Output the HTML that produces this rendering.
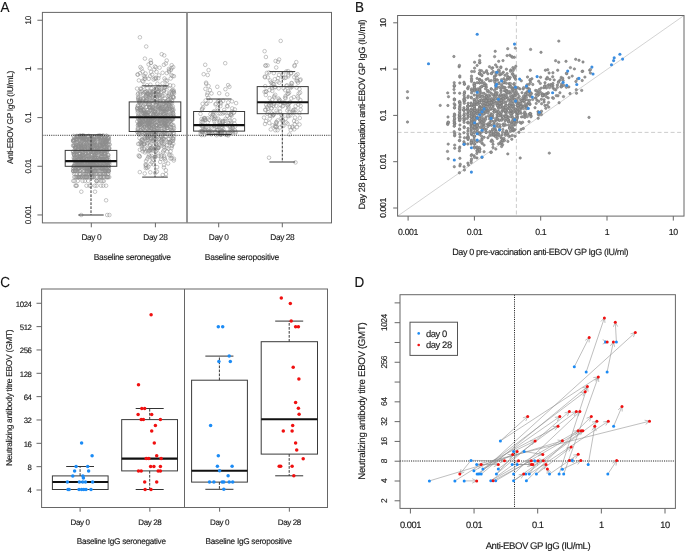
<!DOCTYPE html>
<html><head><meta charset="utf-8"><style>
html,body{margin:0;padding:0;background:#fff;}
body{width:685px;height:553px;overflow:hidden;}
svg{display:block;font-family:"Liberation Sans", sans-serif;will-change:transform;text-rendering:geometricPrecision;}
</style></head><body>
<svg width="685" height="553" viewBox="0 0 685 553">
<rect width="685" height="553" fill="#fff"/>
<text x="0" y="0" transform="translate(0.60,8.00) scale(0.93,1)" font-size="14.5" text-anchor="start" dominant-baseline="central" fill="#111" stroke="#111" stroke-width="0.14"  >A</text>
<g fill="none" stroke="#8c8c8c" stroke-width="0.5">
<circle cx="102.1" cy="168.5" r="1.8"/>
<circle cx="100.4" cy="164.3" r="1.8"/>
<circle cx="80.5" cy="143.1" r="1.8"/>
<circle cx="96.9" cy="147.8" r="1.8"/>
<circle cx="81.9" cy="160.7" r="1.8"/>
<circle cx="92.4" cy="164.3" r="1.8"/>
<circle cx="105.6" cy="151.6" r="1.8"/>
<circle cx="92.5" cy="168.5" r="1.8"/>
<circle cx="75.4" cy="147.8" r="1.8"/>
<circle cx="100.3" cy="137.5" r="1.8"/>
<circle cx="108.7" cy="166.3" r="1.8"/>
<circle cx="101.6" cy="137.5" r="1.8"/>
<circle cx="97.3" cy="148.7" r="1.8"/>
<circle cx="75.8" cy="173.8" r="1.8"/>
<circle cx="83.4" cy="159.2" r="1.8"/>
<circle cx="74.8" cy="139.8" r="1.8"/>
<circle cx="88.0" cy="146.9" r="1.8"/>
<circle cx="96.3" cy="164.3" r="1.8"/>
<circle cx="103.0" cy="145.3" r="1.8"/>
<circle cx="86.9" cy="168.5" r="1.8"/>
<circle cx="86.6" cy="177.1" r="1.8"/>
<circle cx="80.2" cy="171.0" r="1.8"/>
<circle cx="74.9" cy="164.3" r="1.8"/>
<circle cx="98.3" cy="157.7" r="1.8"/>
<circle cx="89.0" cy="166.3" r="1.8"/>
<circle cx="94.1" cy="142.4" r="1.8"/>
<circle cx="98.7" cy="168.5" r="1.8"/>
<circle cx="87.6" cy="173.8" r="1.8"/>
<circle cx="104.1" cy="173.8" r="1.8"/>
<circle cx="90.6" cy="151.6" r="1.8"/>
<circle cx="92.7" cy="141.0" r="1.8"/>
<circle cx="102.9" cy="151.6" r="1.8"/>
<circle cx="84.0" cy="138.1" r="1.8"/>
<circle cx="99.8" cy="146.1" r="1.8"/>
<circle cx="82.9" cy="140.4" r="1.8"/>
<circle cx="100.9" cy="138.1" r="1.8"/>
<circle cx="95.4" cy="153.9" r="1.8"/>
<circle cx="108.0" cy="138.1" r="1.8"/>
<circle cx="90.3" cy="156.3" r="1.8"/>
<circle cx="99.6" cy="166.3" r="1.8"/>
<circle cx="75.4" cy="159.2" r="1.8"/>
<circle cx="99.2" cy="148.7" r="1.8"/>
<circle cx="92.8" cy="164.3" r="1.8"/>
<circle cx="81.4" cy="139.2" r="1.8"/>
<circle cx="102.3" cy="166.3" r="1.8"/>
<circle cx="80.2" cy="164.3" r="1.8"/>
<circle cx="91.5" cy="166.3" r="1.8"/>
<circle cx="96.6" cy="162.4" r="1.8"/>
<circle cx="76.2" cy="185.7" r="1.8"/>
<circle cx="93.7" cy="149.6" r="1.8"/>
<circle cx="77.2" cy="166.3" r="1.8"/>
<circle cx="106.4" cy="177.1" r="1.8"/>
<circle cx="81.2" cy="150.6" r="1.8"/>
<circle cx="94.0" cy="171.0" r="1.8"/>
<circle cx="107.3" cy="164.3" r="1.8"/>
<circle cx="89.3" cy="159.2" r="1.8"/>
<circle cx="73.4" cy="171.0" r="1.8"/>
<circle cx="87.0" cy="168.5" r="1.8"/>
<circle cx="94.7" cy="157.7" r="1.8"/>
<circle cx="92.8" cy="157.7" r="1.8"/>
<circle cx="108.2" cy="166.3" r="1.8"/>
<circle cx="76.5" cy="164.3" r="1.8"/>
<circle cx="77.2" cy="166.3" r="1.8"/>
<circle cx="86.9" cy="166.3" r="1.8"/>
<circle cx="89.0" cy="157.7" r="1.8"/>
<circle cx="102.9" cy="168.5" r="1.8"/>
<circle cx="79.4" cy="156.3" r="1.8"/>
<circle cx="73.8" cy="166.3" r="1.8"/>
<circle cx="98.6" cy="141.7" r="1.8"/>
<circle cx="89.3" cy="171.0" r="1.8"/>
<circle cx="74.5" cy="140.4" r="1.8"/>
<circle cx="107.0" cy="171.0" r="1.8"/>
<circle cx="74.7" cy="145.3" r="1.8"/>
<circle cx="90.5" cy="150.6" r="1.8"/>
<circle cx="86.2" cy="168.5" r="1.8"/>
<circle cx="107.9" cy="144.5" r="1.8"/>
<circle cx="88.4" cy="166.3" r="1.8"/>
<circle cx="80.7" cy="177.1" r="1.8"/>
<circle cx="104.5" cy="150.6" r="1.8"/>
<circle cx="92.1" cy="155.1" r="1.8"/>
<circle cx="78.8" cy="149.6" r="1.8"/>
<circle cx="78.0" cy="171.0" r="1.8"/>
<circle cx="95.0" cy="166.3" r="1.8"/>
<circle cx="75.2" cy="147.8" r="1.8"/>
<circle cx="85.7" cy="177.1" r="1.8"/>
<circle cx="98.0" cy="140.4" r="1.8"/>
<circle cx="99.2" cy="159.2" r="1.8"/>
<circle cx="97.1" cy="150.6" r="1.8"/>
<circle cx="78.1" cy="164.3" r="1.8"/>
<circle cx="73.7" cy="171.0" r="1.8"/>
<circle cx="96.7" cy="185.7" r="1.8"/>
<circle cx="86.9" cy="168.5" r="1.8"/>
<circle cx="93.2" cy="140.4" r="1.8"/>
<circle cx="77.7" cy="136.4" r="1.8"/>
<circle cx="78.2" cy="159.2" r="1.8"/>
<circle cx="79.0" cy="162.4" r="1.8"/>
<circle cx="99.1" cy="166.3" r="1.8"/>
<circle cx="80.5" cy="137.0" r="1.8"/>
<circle cx="80.8" cy="177.1" r="1.8"/>
<circle cx="102.9" cy="160.7" r="1.8"/>
<circle cx="86.7" cy="171.0" r="1.8"/>
<circle cx="102.6" cy="166.3" r="1.8"/>
<circle cx="91.4" cy="143.8" r="1.8"/>
<circle cx="94.1" cy="168.5" r="1.8"/>
<circle cx="86.1" cy="153.9" r="1.8"/>
<circle cx="90.2" cy="162.4" r="1.8"/>
<circle cx="87.8" cy="156.3" r="1.8"/>
<circle cx="92.9" cy="164.3" r="1.8"/>
<circle cx="105.7" cy="166.3" r="1.8"/>
<circle cx="95.7" cy="166.3" r="1.8"/>
<circle cx="94.3" cy="177.1" r="1.8"/>
<circle cx="96.0" cy="157.7" r="1.8"/>
<circle cx="73.6" cy="139.8" r="1.8"/>
<circle cx="81.4" cy="137.5" r="1.8"/>
<circle cx="88.2" cy="180.9" r="1.8"/>
<circle cx="108.7" cy="138.6" r="1.8"/>
<circle cx="100.1" cy="173.8" r="1.8"/>
<circle cx="106.4" cy="145.3" r="1.8"/>
<circle cx="93.4" cy="139.2" r="1.8"/>
<circle cx="104.8" cy="171.0" r="1.8"/>
<circle cx="90.0" cy="164.3" r="1.8"/>
<circle cx="106.2" cy="162.4" r="1.8"/>
<circle cx="109.3" cy="162.4" r="1.8"/>
<circle cx="97.3" cy="155.1" r="1.8"/>
<circle cx="90.6" cy="185.7" r="1.8"/>
<circle cx="99.0" cy="160.7" r="1.8"/>
<circle cx="107.8" cy="139.8" r="1.8"/>
<circle cx="90.0" cy="177.1" r="1.8"/>
<circle cx="98.3" cy="157.7" r="1.8"/>
<circle cx="74.7" cy="157.7" r="1.8"/>
<circle cx="94.3" cy="143.8" r="1.8"/>
<circle cx="84.1" cy="137.0" r="1.8"/>
<circle cx="101.0" cy="146.9" r="1.8"/>
<circle cx="83.7" cy="166.3" r="1.8"/>
<circle cx="95.0" cy="148.7" r="1.8"/>
<circle cx="91.2" cy="162.4" r="1.8"/>
<circle cx="109.5" cy="144.5" r="1.8"/>
<circle cx="104.9" cy="147.8" r="1.8"/>
<circle cx="76.2" cy="136.4" r="1.8"/>
<circle cx="106.4" cy="140.4" r="1.8"/>
<circle cx="101.0" cy="177.1" r="1.8"/>
<circle cx="77.1" cy="166.3" r="1.8"/>
<circle cx="100.4" cy="140.4" r="1.8"/>
<circle cx="106.7" cy="151.6" r="1.8"/>
<circle cx="84.0" cy="164.3" r="1.8"/>
<circle cx="93.3" cy="177.1" r="1.8"/>
<circle cx="78.6" cy="144.5" r="1.8"/>
<circle cx="86.5" cy="185.7" r="1.8"/>
<circle cx="91.0" cy="173.8" r="1.8"/>
<circle cx="88.8" cy="135.9" r="1.8"/>
<circle cx="79.9" cy="143.8" r="1.8"/>
<circle cx="108.9" cy="140.4" r="1.8"/>
<circle cx="73.7" cy="157.7" r="1.8"/>
<circle cx="79.5" cy="171.0" r="1.8"/>
<circle cx="83.9" cy="155.1" r="1.8"/>
<circle cx="82.1" cy="159.2" r="1.8"/>
<circle cx="75.2" cy="171.0" r="1.8"/>
<circle cx="87.7" cy="171.0" r="1.8"/>
<circle cx="81.8" cy="166.3" r="1.8"/>
<circle cx="85.2" cy="137.5" r="1.8"/>
<circle cx="76.9" cy="135.9" r="1.8"/>
<circle cx="104.6" cy="146.9" r="1.8"/>
<circle cx="101.8" cy="146.1" r="1.8"/>
<circle cx="73.5" cy="146.1" r="1.8"/>
<circle cx="74.2" cy="155.1" r="1.8"/>
<circle cx="97.4" cy="171.0" r="1.8"/>
<circle cx="82.9" cy="139.8" r="1.8"/>
<circle cx="86.0" cy="139.8" r="1.8"/>
<circle cx="90.8" cy="146.9" r="1.8"/>
<circle cx="107.6" cy="138.1" r="1.8"/>
<circle cx="77.4" cy="136.4" r="1.8"/>
<circle cx="86.1" cy="156.3" r="1.8"/>
<circle cx="100.9" cy="144.5" r="1.8"/>
<circle cx="94.6" cy="150.6" r="1.8"/>
<circle cx="86.4" cy="173.8" r="1.8"/>
<circle cx="91.7" cy="164.3" r="1.8"/>
<circle cx="74.3" cy="177.1" r="1.8"/>
<circle cx="85.8" cy="139.8" r="1.8"/>
<circle cx="98.4" cy="180.9" r="1.8"/>
<circle cx="73.6" cy="153.9" r="1.8"/>
<circle cx="90.8" cy="171.0" r="1.8"/>
<circle cx="79.4" cy="171.0" r="1.8"/>
<circle cx="79.9" cy="171.0" r="1.8"/>
<circle cx="84.0" cy="139.8" r="1.8"/>
<circle cx="80.9" cy="156.3" r="1.8"/>
<circle cx="77.1" cy="164.3" r="1.8"/>
<circle cx="83.4" cy="135.4" r="1.8"/>
<circle cx="101.0" cy="153.9" r="1.8"/>
<circle cx="94.3" cy="164.3" r="1.8"/>
<circle cx="101.3" cy="162.4" r="1.8"/>
<circle cx="103.7" cy="146.9" r="1.8"/>
<circle cx="99.2" cy="173.8" r="1.8"/>
<circle cx="80.5" cy="144.5" r="1.8"/>
<circle cx="87.0" cy="139.8" r="1.8"/>
<circle cx="83.9" cy="157.7" r="1.8"/>
<circle cx="100.5" cy="159.2" r="1.8"/>
<circle cx="95.6" cy="171.0" r="1.8"/>
<circle cx="96.1" cy="160.7" r="1.8"/>
<circle cx="104.8" cy="144.5" r="1.8"/>
<circle cx="81.7" cy="160.7" r="1.8"/>
<circle cx="82.9" cy="150.6" r="1.8"/>
<circle cx="97.0" cy="177.1" r="1.8"/>
<circle cx="104.1" cy="168.5" r="1.8"/>
<circle cx="73.4" cy="168.5" r="1.8"/>
<circle cx="106.4" cy="135.9" r="1.8"/>
<circle cx="82.8" cy="177.1" r="1.8"/>
<circle cx="84.9" cy="168.5" r="1.8"/>
<circle cx="96.5" cy="180.9" r="1.8"/>
<circle cx="106.5" cy="149.6" r="1.8"/>
<circle cx="75.4" cy="148.7" r="1.8"/>
<circle cx="90.1" cy="162.4" r="1.8"/>
<circle cx="102.7" cy="180.9" r="1.8"/>
<circle cx="91.2" cy="159.2" r="1.8"/>
<circle cx="95.0" cy="171.0" r="1.8"/>
<circle cx="99.2" cy="159.2" r="1.8"/>
<circle cx="96.0" cy="162.4" r="1.8"/>
<circle cx="73.5" cy="168.5" r="1.8"/>
<circle cx="105.5" cy="141.7" r="1.8"/>
<circle cx="82.0" cy="147.8" r="1.8"/>
<circle cx="88.7" cy="157.7" r="1.8"/>
<circle cx="103.9" cy="160.7" r="1.8"/>
<circle cx="85.8" cy="173.8" r="1.8"/>
<circle cx="89.0" cy="151.6" r="1.8"/>
<circle cx="95.2" cy="156.3" r="1.8"/>
<circle cx="85.8" cy="139.2" r="1.8"/>
<circle cx="83.2" cy="136.4" r="1.8"/>
<circle cx="92.1" cy="142.4" r="1.8"/>
<circle cx="79.5" cy="140.4" r="1.8"/>
<circle cx="87.5" cy="156.3" r="1.8"/>
<circle cx="80.8" cy="162.4" r="1.8"/>
<circle cx="77.5" cy="157.7" r="1.8"/>
<circle cx="108.5" cy="155.1" r="1.8"/>
<circle cx="103.1" cy="142.4" r="1.8"/>
<circle cx="108.1" cy="171.0" r="1.8"/>
<circle cx="88.3" cy="151.6" r="1.8"/>
<circle cx="82.5" cy="139.2" r="1.8"/>
<circle cx="105.9" cy="168.5" r="1.8"/>
<circle cx="82.3" cy="166.3" r="1.8"/>
<circle cx="88.7" cy="141.0" r="1.8"/>
<circle cx="95.7" cy="148.7" r="1.8"/>
<circle cx="80.8" cy="137.0" r="1.8"/>
<circle cx="90.8" cy="149.6" r="1.8"/>
<circle cx="102.0" cy="137.5" r="1.8"/>
<circle cx="95.0" cy="141.7" r="1.8"/>
<circle cx="85.2" cy="147.8" r="1.8"/>
<circle cx="78.2" cy="168.5" r="1.8"/>
<circle cx="89.4" cy="168.5" r="1.8"/>
<circle cx="90.0" cy="140.4" r="1.8"/>
<circle cx="83.2" cy="164.3" r="1.8"/>
<circle cx="87.2" cy="147.8" r="1.8"/>
<circle cx="86.9" cy="159.2" r="1.8"/>
<circle cx="77.0" cy="157.7" r="1.8"/>
<circle cx="106.1" cy="185.7" r="1.8"/>
<circle cx="102.1" cy="142.4" r="1.8"/>
<circle cx="95.2" cy="164.3" r="1.8"/>
<circle cx="82.4" cy="164.3" r="1.8"/>
<circle cx="93.3" cy="177.1" r="1.8"/>
<circle cx="86.4" cy="150.6" r="1.8"/>
<circle cx="80.8" cy="143.8" r="1.8"/>
<circle cx="83.3" cy="156.3" r="1.8"/>
<circle cx="94.1" cy="157.7" r="1.8"/>
<circle cx="84.0" cy="143.8" r="1.8"/>
<circle cx="96.4" cy="173.8" r="1.8"/>
<circle cx="104.5" cy="153.9" r="1.8"/>
<circle cx="100.1" cy="145.3" r="1.8"/>
<circle cx="105.4" cy="162.4" r="1.8"/>
<circle cx="105.3" cy="139.8" r="1.8"/>
<circle cx="100.5" cy="157.7" r="1.8"/>
<circle cx="90.8" cy="173.8" r="1.8"/>
<circle cx="81.0" cy="136.4" r="1.8"/>
<circle cx="75.0" cy="157.7" r="1.8"/>
<circle cx="87.1" cy="144.5" r="1.8"/>
<circle cx="77.3" cy="177.1" r="1.8"/>
<circle cx="77.3" cy="142.4" r="1.8"/>
<circle cx="83.9" cy="171.0" r="1.8"/>
<circle cx="85.5" cy="173.8" r="1.8"/>
<circle cx="108.7" cy="166.3" r="1.8"/>
<circle cx="78.2" cy="159.2" r="1.8"/>
<circle cx="95.8" cy="156.3" r="1.8"/>
<circle cx="74.1" cy="159.2" r="1.8"/>
<circle cx="103.9" cy="180.9" r="1.8"/>
<circle cx="77.0" cy="151.6" r="1.8"/>
<circle cx="87.2" cy="145.3" r="1.8"/>
<circle cx="91.0" cy="136.4" r="1.8"/>
<circle cx="102.0" cy="153.9" r="1.8"/>
<circle cx="90.5" cy="138.1" r="1.8"/>
<circle cx="83.1" cy="137.5" r="1.8"/>
<circle cx="102.2" cy="168.5" r="1.8"/>
<circle cx="80.3" cy="177.1" r="1.8"/>
<circle cx="108.3" cy="171.0" r="1.8"/>
<circle cx="96.7" cy="145.3" r="1.8"/>
<circle cx="73.9" cy="166.3" r="1.8"/>
<circle cx="108.1" cy="173.8" r="1.8"/>
<circle cx="104.6" cy="137.5" r="1.8"/>
<circle cx="80.4" cy="147.8" r="1.8"/>
<circle cx="108.9" cy="137.0" r="1.8"/>
<circle cx="88.4" cy="164.3" r="1.8"/>
<circle cx="108.8" cy="168.5" r="1.8"/>
<circle cx="91.9" cy="173.8" r="1.8"/>
<circle cx="87.9" cy="137.5" r="1.8"/>
<circle cx="86.6" cy="171.0" r="1.8"/>
<circle cx="100.2" cy="143.1" r="1.8"/>
<circle cx="101.2" cy="168.5" r="1.8"/>
<circle cx="103.0" cy="140.4" r="1.8"/>
<circle cx="101.2" cy="177.1" r="1.8"/>
<circle cx="78.4" cy="162.4" r="1.8"/>
<circle cx="74.9" cy="160.7" r="1.8"/>
<circle cx="84.0" cy="136.4" r="1.8"/>
<circle cx="85.1" cy="139.2" r="1.8"/>
<circle cx="87.2" cy="162.4" r="1.8"/>
<circle cx="93.8" cy="159.2" r="1.8"/>
<circle cx="83.0" cy="146.1" r="1.8"/>
<circle cx="108.7" cy="149.6" r="1.8"/>
<circle cx="86.8" cy="139.2" r="1.8"/>
<circle cx="80.9" cy="147.8" r="1.8"/>
<circle cx="87.6" cy="155.1" r="1.8"/>
<circle cx="89.4" cy="139.2" r="1.8"/>
<circle cx="93.1" cy="164.3" r="1.8"/>
<circle cx="79.9" cy="162.4" r="1.8"/>
<circle cx="89.4" cy="162.4" r="1.8"/>
<circle cx="107.4" cy="156.3" r="1.8"/>
<circle cx="77.8" cy="180.9" r="1.8"/>
<circle cx="102.3" cy="159.2" r="1.8"/>
<circle cx="81.9" cy="164.3" r="1.8"/>
<circle cx="85.0" cy="166.3" r="1.8"/>
<circle cx="105.6" cy="166.3" r="1.8"/>
<circle cx="89.9" cy="143.1" r="1.8"/>
<circle cx="106.9" cy="162.4" r="1.8"/>
<circle cx="73.5" cy="135.9" r="1.8"/>
<circle cx="93.2" cy="160.7" r="1.8"/>
<circle cx="75.7" cy="146.9" r="1.8"/>
<circle cx="91.5" cy="164.3" r="1.8"/>
<circle cx="100.7" cy="141.7" r="1.8"/>
<circle cx="78.2" cy="168.5" r="1.8"/>
<circle cx="81.1" cy="166.3" r="1.8"/>
<circle cx="103.8" cy="166.3" r="1.8"/>
<circle cx="100.5" cy="173.8" r="1.8"/>
<circle cx="93.9" cy="145.3" r="1.8"/>
<circle cx="94.6" cy="159.2" r="1.8"/>
<circle cx="80.2" cy="173.8" r="1.8"/>
<circle cx="91.9" cy="155.1" r="1.8"/>
<circle cx="105.9" cy="156.3" r="1.8"/>
<circle cx="88.8" cy="156.3" r="1.8"/>
<circle cx="75.6" cy="146.9" r="1.8"/>
<circle cx="107.4" cy="177.1" r="1.8"/>
<circle cx="101.6" cy="156.3" r="1.8"/>
<circle cx="75.7" cy="177.1" r="1.8"/>
<circle cx="88.3" cy="136.4" r="1.8"/>
<circle cx="78.6" cy="148.7" r="1.8"/>
<circle cx="105.4" cy="171.0" r="1.8"/>
<circle cx="97.0" cy="138.6" r="1.8"/>
<circle cx="107.0" cy="171.0" r="1.8"/>
<circle cx="90.2" cy="162.4" r="1.8"/>
<circle cx="109.2" cy="177.1" r="1.8"/>
<circle cx="75.8" cy="162.4" r="1.8"/>
<circle cx="81.5" cy="146.1" r="1.8"/>
<circle cx="102.6" cy="173.8" r="1.8"/>
<circle cx="94.6" cy="143.8" r="1.8"/>
<circle cx="106.7" cy="159.2" r="1.8"/>
<circle cx="86.7" cy="143.1" r="1.8"/>
<circle cx="73.1" cy="171.0" r="1.8"/>
<circle cx="90.1" cy="139.2" r="1.8"/>
<circle cx="78.1" cy="146.1" r="1.8"/>
<circle cx="78.8" cy="177.1" r="1.8"/>
<circle cx="80.8" cy="157.7" r="1.8"/>
<circle cx="80.4" cy="177.1" r="1.8"/>
<circle cx="88.4" cy="146.1" r="1.8"/>
<circle cx="93.6" cy="162.4" r="1.8"/>
<circle cx="103.3" cy="143.8" r="1.8"/>
<circle cx="74.0" cy="139.8" r="1.8"/>
<circle cx="75.3" cy="171.0" r="1.8"/>
<circle cx="85.6" cy="142.4" r="1.8"/>
<circle cx="88.4" cy="162.4" r="1.8"/>
<circle cx="76.6" cy="162.4" r="1.8"/>
<circle cx="101.1" cy="148.7" r="1.8"/>
<circle cx="82.3" cy="136.4" r="1.8"/>
<circle cx="109.2" cy="147.8" r="1.8"/>
<circle cx="96.9" cy="168.5" r="1.8"/>
<circle cx="75.5" cy="185.7" r="1.8"/>
<circle cx="106.2" cy="173.8" r="1.8"/>
<circle cx="89.5" cy="166.3" r="1.8"/>
<circle cx="102.4" cy="177.1" r="1.8"/>
<circle cx="99.4" cy="177.1" r="1.8"/>
<circle cx="83.6" cy="137.5" r="1.8"/>
<circle cx="91.1" cy="171.0" r="1.8"/>
<circle cx="74.8" cy="164.3" r="1.8"/>
<circle cx="74.5" cy="137.0" r="1.8"/>
<circle cx="85.3" cy="155.1" r="1.8"/>
<circle cx="106.6" cy="147.8" r="1.8"/>
<circle cx="99.9" cy="166.3" r="1.8"/>
<circle cx="101.0" cy="148.7" r="1.8"/>
<circle cx="88.4" cy="171.0" r="1.8"/>
<circle cx="108.0" cy="162.4" r="1.8"/>
<circle cx="93.7" cy="139.2" r="1.8"/>
<circle cx="95.1" cy="146.1" r="1.8"/>
<circle cx="105.7" cy="157.7" r="1.8"/>
<circle cx="81.6" cy="157.7" r="1.8"/>
<circle cx="81.1" cy="145.3" r="1.8"/>
<circle cx="93.0" cy="160.7" r="1.8"/>
<circle cx="92.9" cy="159.2" r="1.8"/>
<circle cx="96.2" cy="152.7" r="1.8"/>
<circle cx="76.7" cy="153.9" r="1.8"/>
<circle cx="83.3" cy="157.7" r="1.8"/>
<circle cx="82.4" cy="151.6" r="1.8"/>
<circle cx="90.9" cy="171.0" r="1.8"/>
<circle cx="94.5" cy="145.3" r="1.8"/>
<circle cx="88.8" cy="171.0" r="1.8"/>
<circle cx="105.5" cy="142.4" r="1.8"/>
<circle cx="88.1" cy="152.7" r="1.8"/>
<circle cx="92.6" cy="138.1" r="1.8"/>
<circle cx="77.5" cy="160.7" r="1.8"/>
<circle cx="91.3" cy="148.7" r="1.8"/>
<circle cx="107.8" cy="177.1" r="1.8"/>
<circle cx="105.7" cy="164.3" r="1.8"/>
<circle cx="73.5" cy="171.0" r="1.8"/>
<circle cx="109.0" cy="148.7" r="1.8"/>
<circle cx="93.4" cy="173.8" r="1.8"/>
<circle cx="102.9" cy="156.3" r="1.8"/>
<circle cx="81.5" cy="166.3" r="1.8"/>
<circle cx="75.4" cy="171.0" r="1.8"/>
<circle cx="105.6" cy="142.4" r="1.8"/>
<circle cx="90.9" cy="166.3" r="1.8"/>
<circle cx="82.6" cy="177.1" r="1.8"/>
<circle cx="82.6" cy="160.7" r="1.8"/>
<circle cx="87.0" cy="168.5" r="1.8"/>
<circle cx="81.1" cy="146.9" r="1.8"/>
<circle cx="82.1" cy="150.6" r="1.8"/>
<circle cx="95.1" cy="137.5" r="1.8"/>
<circle cx="106.8" cy="141.0" r="1.8"/>
<circle cx="96.6" cy="164.3" r="1.8"/>
<circle cx="92.6" cy="140.4" r="1.8"/>
<circle cx="78.9" cy="166.3" r="1.8"/>
<circle cx="73.2" cy="141.0" r="1.8"/>
<circle cx="104.3" cy="171.0" r="1.8"/>
<circle cx="104.4" cy="138.1" r="1.8"/>
<circle cx="104.9" cy="152.7" r="1.8"/>
<circle cx="79.4" cy="157.7" r="1.8"/>
<circle cx="74.0" cy="160.7" r="1.8"/>
<circle cx="90.5" cy="162.4" r="1.8"/>
<circle cx="89.6" cy="171.0" r="1.8"/>
<circle cx="91.7" cy="149.6" r="1.8"/>
<circle cx="99.2" cy="162.4" r="1.8"/>
<circle cx="104.6" cy="139.8" r="1.8"/>
<circle cx="91.0" cy="173.8" r="1.8"/>
<circle cx="101.4" cy="157.7" r="1.8"/>
<circle cx="73.2" cy="151.6" r="1.8"/>
<circle cx="80.8" cy="146.1" r="1.8"/>
<circle cx="82.0" cy="148.7" r="1.8"/>
<circle cx="87.3" cy="159.2" r="1.8"/>
<circle cx="104.5" cy="146.1" r="1.8"/>
<circle cx="79.4" cy="146.9" r="1.8"/>
<circle cx="103.6" cy="162.4" r="1.8"/>
<circle cx="78.8" cy="159.2" r="1.8"/>
<circle cx="78.7" cy="162.4" r="1.8"/>
<circle cx="86.2" cy="143.8" r="1.8"/>
<circle cx="90.4" cy="171.0" r="1.8"/>
<circle cx="104.4" cy="142.4" r="1.8"/>
<circle cx="94.6" cy="151.6" r="1.8"/>
<circle cx="83.6" cy="162.4" r="1.8"/>
<circle cx="78.6" cy="137.5" r="1.8"/>
<circle cx="93.9" cy="137.0" r="1.8"/>
<circle cx="101.2" cy="136.4" r="1.8"/>
<circle cx="89.2" cy="173.8" r="1.8"/>
<circle cx="81.3" cy="156.3" r="1.8"/>
<circle cx="84.1" cy="138.6" r="1.8"/>
<circle cx="89.5" cy="185.7" r="1.8"/>
<circle cx="105.0" cy="164.3" r="1.8"/>
<circle cx="106.3" cy="157.7" r="1.8"/>
<circle cx="76.9" cy="166.3" r="1.8"/>
<circle cx="75.6" cy="152.7" r="1.8"/>
<circle cx="83.4" cy="155.1" r="1.8"/>
<circle cx="73.1" cy="141.0" r="1.8"/>
<circle cx="92.2" cy="166.3" r="1.8"/>
<circle cx="108.0" cy="144.5" r="1.8"/>
<circle cx="101.0" cy="156.3" r="1.8"/>
<circle cx="84.4" cy="137.0" r="1.8"/>
<circle cx="73.7" cy="141.0" r="1.8"/>
<circle cx="96.7" cy="180.9" r="1.8"/>
<circle cx="100.0" cy="160.7" r="1.8"/>
<circle cx="104.7" cy="166.3" r="1.8"/>
<circle cx="104.5" cy="156.3" r="1.8"/>
<circle cx="99.9" cy="135.4" r="1.8"/>
<circle cx="93.2" cy="152.7" r="1.8"/>
<circle cx="87.0" cy="177.1" r="1.8"/>
<circle cx="85.0" cy="145.3" r="1.8"/>
<circle cx="101.9" cy="168.5" r="1.8"/>
<circle cx="95.0" cy="157.7" r="1.8"/>
<circle cx="106.6" cy="149.6" r="1.8"/>
<circle cx="101.0" cy="138.6" r="1.8"/>
<circle cx="81.6" cy="164.3" r="1.8"/>
<circle cx="77.4" cy="148.7" r="1.8"/>
<circle cx="73.3" cy="180.9" r="1.8"/>
<circle cx="75.8" cy="177.1" r="1.8"/>
<circle cx="86.3" cy="159.2" r="1.8"/>
<circle cx="106.8" cy="151.6" r="1.8"/>
<circle cx="84.9" cy="166.3" r="1.8"/>
<circle cx="74.1" cy="145.3" r="1.8"/>
<circle cx="104.0" cy="164.3" r="1.8"/>
<circle cx="89.5" cy="166.3" r="1.8"/>
<circle cx="92.5" cy="146.9" r="1.8"/>
<circle cx="96.4" cy="146.9" r="1.8"/>
<circle cx="76.6" cy="136.4" r="1.8"/>
<circle cx="92.0" cy="173.8" r="1.8"/>
<circle cx="83.6" cy="173.8" r="1.8"/>
<circle cx="82.0" cy="141.7" r="1.8"/>
<circle cx="74.0" cy="166.3" r="1.8"/>
<circle cx="90.7" cy="139.2" r="1.8"/>
<circle cx="74.7" cy="152.7" r="1.8"/>
<circle cx="76.2" cy="151.6" r="1.8"/>
<circle cx="94.8" cy="185.7" r="1.8"/>
<circle cx="96.0" cy="152.7" r="1.8"/>
<circle cx="104.6" cy="140.4" r="1.8"/>
<circle cx="106.5" cy="135.9" r="1.8"/>
<circle cx="91.1" cy="162.4" r="1.8"/>
<circle cx="103.1" cy="171.0" r="1.8"/>
<circle cx="79.6" cy="139.2" r="1.8"/>
<circle cx="92.8" cy="160.7" r="1.8"/>
<circle cx="106.9" cy="159.2" r="1.8"/>
<circle cx="75.4" cy="157.7" r="1.8"/>
<circle cx="101.9" cy="153.9" r="1.8"/>
<circle cx="78.9" cy="177.1" r="1.8"/>
<circle cx="74.6" cy="180.9" r="1.8"/>
<circle cx="92.6" cy="144.5" r="1.8"/>
<circle cx="104.9" cy="149.6" r="1.8"/>
<circle cx="85.2" cy="160.7" r="1.8"/>
<circle cx="81.3" cy="148.7" r="1.8"/>
<circle cx="84.4" cy="146.9" r="1.8"/>
<circle cx="81.3" cy="166.3" r="1.8"/>
<circle cx="92.0" cy="160.7" r="1.8"/>
<circle cx="76.9" cy="166.3" r="1.8"/>
<circle cx="79.5" cy="173.8" r="1.8"/>
<circle cx="101.5" cy="151.6" r="1.8"/>
<circle cx="81.1" cy="145.3" r="1.8"/>
<circle cx="97.6" cy="150.6" r="1.8"/>
<circle cx="89.4" cy="166.3" r="1.8"/>
<circle cx="77.0" cy="149.6" r="1.8"/>
<circle cx="86.3" cy="160.7" r="1.8"/>
<circle cx="81.0" cy="159.2" r="1.8"/>
<circle cx="101.2" cy="180.9" r="1.8"/>
<circle cx="105.8" cy="143.8" r="1.8"/>
<circle cx="98.2" cy="139.2" r="1.8"/>
<circle cx="91.2" cy="166.3" r="1.8"/>
<circle cx="108.6" cy="162.4" r="1.8"/>
<circle cx="80.1" cy="156.3" r="1.8"/>
<circle cx="76.0" cy="160.7" r="1.8"/>
<circle cx="80.8" cy="162.4" r="1.8"/>
<circle cx="90.8" cy="145.3" r="1.8"/>
<circle cx="100.2" cy="148.7" r="1.8"/>
<circle cx="76.5" cy="164.3" r="1.8"/>
<circle cx="107.5" cy="149.6" r="1.8"/>
<circle cx="91.3" cy="147.8" r="1.8"/>
<circle cx="102.5" cy="159.2" r="1.8"/>
<circle cx="98.6" cy="166.3" r="1.8"/>
<circle cx="76.3" cy="140.4" r="1.8"/>
<circle cx="103.2" cy="185.7" r="1.8"/>
<circle cx="85.4" cy="146.1" r="1.8"/>
<circle cx="93.0" cy="142.4" r="1.8"/>
<circle cx="95.8" cy="168.5" r="1.8"/>
<circle cx="85.7" cy="152.7" r="1.8"/>
<circle cx="82.3" cy="135.9" r="1.8"/>
<circle cx="88.0" cy="164.3" r="1.8"/>
<circle cx="99.8" cy="150.6" r="1.8"/>
<circle cx="96.9" cy="160.7" r="1.8"/>
<circle cx="90.9" cy="159.2" r="1.8"/>
<circle cx="102.8" cy="144.5" r="1.8"/>
<circle cx="80.1" cy="153.9" r="1.8"/>
<circle cx="105.6" cy="166.3" r="1.8"/>
<circle cx="87.5" cy="145.3" r="1.8"/>
<circle cx="73.8" cy="153.9" r="1.8"/>
<circle cx="92.6" cy="164.3" r="1.8"/>
<circle cx="90.3" cy="151.6" r="1.8"/>
<circle cx="83.0" cy="145.3" r="1.8"/>
<circle cx="92.6" cy="177.1" r="1.8"/>
<circle cx="98.6" cy="171.0" r="1.8"/>
<circle cx="107.2" cy="162.4" r="1.8"/>
<circle cx="74.3" cy="166.3" r="1.8"/>
<circle cx="94.3" cy="152.7" r="1.8"/>
<circle cx="108.3" cy="177.1" r="1.8"/>
<circle cx="85.7" cy="138.6" r="1.8"/>
<circle cx="106.4" cy="145.3" r="1.8"/>
<circle cx="85.3" cy="160.7" r="1.8"/>
<circle cx="100.0" cy="171.0" r="1.8"/>
<circle cx="88.0" cy="177.1" r="1.8"/>
<circle cx="96.3" cy="145.3" r="1.8"/>
<circle cx="97.5" cy="152.7" r="1.8"/>
<circle cx="78.3" cy="160.7" r="1.8"/>
<circle cx="79.7" cy="164.3" r="1.8"/>
<circle cx="91.9" cy="177.1" r="1.8"/>
<circle cx="78.8" cy="144.5" r="1.8"/>
<circle cx="103.3" cy="168.5" r="1.8"/>
<circle cx="96.6" cy="166.3" r="1.8"/>
<circle cx="75.9" cy="168.5" r="1.8"/>
<circle cx="104.7" cy="152.7" r="1.8"/>
<circle cx="102.3" cy="166.3" r="1.8"/>
<circle cx="104.5" cy="173.8" r="1.8"/>
<circle cx="73.2" cy="140.4" r="1.8"/>
<circle cx="76.5" cy="171.0" r="1.8"/>
<circle cx="78.6" cy="168.5" r="1.8"/>
<circle cx="76.2" cy="145.3" r="1.8"/>
<circle cx="96.7" cy="157.7" r="1.8"/>
<circle cx="108.2" cy="138.1" r="1.8"/>
<circle cx="99.7" cy="139.2" r="1.8"/>
<circle cx="75.3" cy="153.9" r="1.8"/>
<circle cx="105.8" cy="171.0" r="1.8"/>
<circle cx="85.5" cy="164.3" r="1.8"/>
<circle cx="90.0" cy="148.7" r="1.8"/>
<circle cx="99.3" cy="164.3" r="1.8"/>
<circle cx="94.6" cy="155.1" r="1.8"/>
<circle cx="104.9" cy="173.8" r="1.8"/>
<circle cx="80.2" cy="153.9" r="1.8"/>
<circle cx="81.3" cy="137.5" r="1.8"/>
<circle cx="78.0" cy="150.6" r="1.8"/>
<circle cx="82.3" cy="166.3" r="1.8"/>
<circle cx="91.9" cy="173.8" r="1.8"/>
<circle cx="77.1" cy="151.6" r="1.8"/>
<circle cx="105.2" cy="153.9" r="1.8"/>
<circle cx="102.7" cy="144.5" r="1.8"/>
<circle cx="101.0" cy="185.7" r="1.8"/>
<circle cx="108.0" cy="171.0" r="1.8"/>
<circle cx="93.5" cy="150.6" r="1.8"/>
<circle cx="98.4" cy="152.7" r="1.8"/>
<circle cx="83.3" cy="146.9" r="1.8"/>
<circle cx="106.6" cy="139.2" r="1.8"/>
<circle cx="104.0" cy="144.5" r="1.8"/>
<circle cx="96.5" cy="150.6" r="1.8"/>
<circle cx="80.1" cy="135.4" r="1.8"/>
<circle cx="94.3" cy="164.3" r="1.8"/>
<circle cx="86.3" cy="166.3" r="1.8"/>
<circle cx="80.3" cy="166.3" r="1.8"/>
<circle cx="90.5" cy="149.6" r="1.8"/>
<circle cx="95.9" cy="173.8" r="1.8"/>
<circle cx="105.1" cy="160.7" r="1.8"/>
<circle cx="87.0" cy="164.3" r="1.8"/>
<circle cx="80.2" cy="173.8" r="1.8"/>
<circle cx="84.2" cy="141.7" r="1.8"/>
<circle cx="94.0" cy="141.7" r="1.8"/>
<circle cx="96.0" cy="166.3" r="1.8"/>
<circle cx="85.2" cy="177.1" r="1.8"/>
<circle cx="103.8" cy="150.6" r="1.8"/>
<circle cx="88.5" cy="168.5" r="1.8"/>
<circle cx="93.5" cy="152.7" r="1.8"/>
<circle cx="102.4" cy="160.7" r="1.8"/>
<circle cx="105.4" cy="140.4" r="1.8"/>
<circle cx="90.3" cy="164.3" r="1.8"/>
<circle cx="74.2" cy="155.1" r="1.8"/>
<circle cx="100.6" cy="177.1" r="1.8"/>
<circle cx="78.9" cy="162.4" r="1.8"/>
<circle cx="94.3" cy="139.2" r="1.8"/>
<circle cx="105.7" cy="171.0" r="1.8"/>
<circle cx="95.3" cy="144.5" r="1.8"/>
<circle cx="104.6" cy="159.2" r="1.8"/>
<circle cx="88.5" cy="152.7" r="1.8"/>
<circle cx="77.1" cy="139.2" r="1.8"/>
<circle cx="88.6" cy="139.2" r="1.8"/>
<circle cx="103.4" cy="159.2" r="1.8"/>
<circle cx="82.4" cy="135.9" r="1.8"/>
<circle cx="108.1" cy="166.3" r="1.8"/>
<circle cx="78.4" cy="168.5" r="1.8"/>
<circle cx="98.5" cy="150.6" r="1.8"/>
<circle cx="102.2" cy="151.6" r="1.8"/>
<circle cx="81.8" cy="155.1" r="1.8"/>
<circle cx="100.2" cy="164.3" r="1.8"/>
<circle cx="106.5" cy="159.2" r="1.8"/>
<circle cx="85.1" cy="153.9" r="1.8"/>
<circle cx="82.6" cy="180.9" r="1.8"/>
<circle cx="84.4" cy="177.1" r="1.8"/>
<circle cx="91.5" cy="177.1" r="1.8"/>
<circle cx="105.4" cy="141.7" r="1.8"/>
<circle cx="85.2" cy="150.6" r="1.8"/>
<circle cx="108.0" cy="164.3" r="1.8"/>
<circle cx="101.4" cy="152.7" r="1.8"/>
<circle cx="93.8" cy="139.8" r="1.8"/>
<circle cx="98.0" cy="173.8" r="1.8"/>
<circle cx="108.3" cy="168.5" r="1.8"/>
<circle cx="77.7" cy="164.3" r="1.8"/>
<circle cx="90.9" cy="157.7" r="1.8"/>
<circle cx="84.8" cy="162.4" r="1.8"/>
<circle cx="107.0" cy="141.0" r="1.8"/>
<circle cx="91.8" cy="153.9" r="1.8"/>
<circle cx="85.4" cy="177.1" r="1.8"/>
<circle cx="76.8" cy="166.3" r="1.8"/>
<circle cx="105.3" cy="156.3" r="1.8"/>
<circle cx="77.6" cy="144.5" r="1.8"/>
<circle cx="92.2" cy="149.6" r="1.8"/>
<circle cx="103.1" cy="135.4" r="1.8"/>
<circle cx="97.5" cy="164.3" r="1.8"/>
<circle cx="103.5" cy="150.6" r="1.8"/>
<circle cx="94.4" cy="137.0" r="1.8"/>
<circle cx="100.2" cy="159.2" r="1.8"/>
<circle cx="94.2" cy="171.0" r="1.8"/>
<circle cx="90.2" cy="168.5" r="1.8"/>
<circle cx="101.8" cy="160.7" r="1.8"/>
<circle cx="84.8" cy="173.8" r="1.8"/>
<circle cx="79.5" cy="157.7" r="1.8"/>
<circle cx="77.3" cy="136.4" r="1.8"/>
<circle cx="76.4" cy="139.8" r="1.8"/>
<circle cx="98.7" cy="151.6" r="1.8"/>
<circle cx="82.8" cy="138.1" r="1.8"/>
<circle cx="106.4" cy="149.6" r="1.8"/>
<circle cx="78.6" cy="177.1" r="1.8"/>
<circle cx="91.5" cy="148.7" r="1.8"/>
<circle cx="102.3" cy="151.6" r="1.8"/>
<circle cx="99.0" cy="149.6" r="1.8"/>
<circle cx="73.8" cy="166.3" r="1.8"/>
<circle cx="100.7" cy="146.1" r="1.8"/>
<circle cx="107.9" cy="155.1" r="1.8"/>
<circle cx="81.5" cy="136.4" r="1.8"/>
<circle cx="103.4" cy="173.8" r="1.8"/>
<circle cx="93.9" cy="155.1" r="1.8"/>
<circle cx="81.5" cy="141.0" r="1.8"/>
<circle cx="108.8" cy="171.0" r="1.8"/>
<circle cx="106.5" cy="143.8" r="1.8"/>
<circle cx="102.2" cy="138.1" r="1.8"/>
<circle cx="73.1" cy="145.3" r="1.8"/>
<circle cx="97.4" cy="148.7" r="1.8"/>
<circle cx="89.3" cy="168.5" r="1.8"/>
<circle cx="82.7" cy="138.1" r="1.8"/>
<circle cx="104.2" cy="177.1" r="1.8"/>
<circle cx="79.2" cy="162.4" r="1.8"/>
<circle cx="77.5" cy="177.1" r="1.8"/>
<circle cx="95.0" cy="157.7" r="1.8"/>
<circle cx="96.2" cy="145.3" r="1.8"/>
<circle cx="101.6" cy="156.3" r="1.8"/>
<circle cx="83.7" cy="168.5" r="1.8"/>
<circle cx="97.2" cy="149.6" r="1.8"/>
<circle cx="99.8" cy="145.3" r="1.8"/>
<circle cx="108.3" cy="166.3" r="1.8"/>
<circle cx="109.3" cy="164.3" r="1.8"/>
<circle cx="100.6" cy="168.5" r="1.8"/>
<circle cx="83.6" cy="159.2" r="1.8"/>
<circle cx="89.1" cy="177.1" r="1.8"/>
<circle cx="82.6" cy="160.7" r="1.8"/>
<circle cx="86.9" cy="177.1" r="1.8"/>
<circle cx="78.7" cy="166.3" r="1.8"/>
<circle cx="98.7" cy="135.9" r="1.8"/>
<circle cx="78.7" cy="177.1" r="1.8"/>
<circle cx="101.5" cy="166.3" r="1.8"/>
<circle cx="88.1" cy="162.4" r="1.8"/>
<circle cx="89.3" cy="141.7" r="1.8"/>
<circle cx="108.1" cy="173.8" r="1.8"/>
<circle cx="98.7" cy="138.1" r="1.8"/>
<circle cx="74.7" cy="146.1" r="1.8"/>
<circle cx="103.4" cy="139.2" r="1.8"/>
<circle cx="94.7" cy="142.4" r="1.8"/>
<circle cx="102.1" cy="151.6" r="1.8"/>
<circle cx="91.9" cy="177.1" r="1.8"/>
<circle cx="93.2" cy="139.2" r="1.8"/>
<circle cx="101.2" cy="152.7" r="1.8"/>
<circle cx="95.1" cy="171.0" r="1.8"/>
<circle cx="78.0" cy="137.0" r="1.8"/>
<circle cx="101.7" cy="171.0" r="1.8"/>
<circle cx="84.9" cy="168.5" r="1.8"/>
<circle cx="80.5" cy="151.6" r="1.8"/>
<circle cx="93.6" cy="145.3" r="1.8"/>
<circle cx="84.0" cy="173.8" r="1.8"/>
<circle cx="102.7" cy="160.7" r="1.8"/>
<circle cx="101.6" cy="159.2" r="1.8"/>
<circle cx="108.2" cy="157.7" r="1.8"/>
<circle cx="76.4" cy="157.7" r="1.8"/>
<circle cx="99.4" cy="159.2" r="1.8"/>
<circle cx="84.9" cy="180.9" r="1.8"/>
<circle cx="105.5" cy="138.1" r="1.8"/>
<circle cx="74.4" cy="152.7" r="1.8"/>
<circle cx="86.4" cy="146.9" r="1.8"/>
<circle cx="87.8" cy="148.7" r="1.8"/>
<circle cx="99.0" cy="137.0" r="1.8"/>
<circle cx="79.2" cy="153.9" r="1.8"/>
<circle cx="100.6" cy="162.4" r="1.8"/>
<circle cx="76.2" cy="144.5" r="1.8"/>
<circle cx="92.9" cy="171.0" r="1.8"/>
<circle cx="104.8" cy="151.6" r="1.8"/>
<circle cx="94.9" cy="145.3" r="1.8"/>
<circle cx="97.0" cy="152.7" r="1.8"/>
<circle cx="100.0" cy="141.7" r="1.8"/>
<circle cx="84.3" cy="171.0" r="1.8"/>
<circle cx="88.2" cy="142.4" r="1.8"/>
<circle cx="94.1" cy="137.5" r="1.8"/>
<circle cx="86.4" cy="141.0" r="1.8"/>
<circle cx="84.5" cy="162.4" r="1.8"/>
<circle cx="108.9" cy="171.0" r="1.8"/>
<circle cx="73.1" cy="151.6" r="1.8"/>
<circle cx="83.2" cy="166.3" r="1.8"/>
<circle cx="78.6" cy="146.9" r="1.8"/>
<circle cx="88.3" cy="164.3" r="1.8"/>
<circle cx="105.1" cy="146.1" r="1.8"/>
<circle cx="96.1" cy="160.7" r="1.8"/>
<circle cx="107.2" cy="157.7" r="1.8"/>
<circle cx="76.3" cy="138.6" r="1.8"/>
<circle cx="109.1" cy="160.7" r="1.8"/>
<circle cx="103.6" cy="177.1" r="1.8"/>
<circle cx="105.4" cy="137.0" r="1.8"/>
<circle cx="89.5" cy="171.0" r="1.8"/>
<circle cx="76.7" cy="166.3" r="1.8"/>
<circle cx="99.5" cy="144.5" r="1.8"/>
<circle cx="76.7" cy="185.7" r="1.8"/>
<circle cx="109.3" cy="144.5" r="1.8"/>
<circle cx="78.4" cy="156.3" r="1.8"/>
<circle cx="90.5" cy="148.7" r="1.8"/>
<circle cx="89.6" cy="164.3" r="1.8"/>
<circle cx="78.1" cy="164.3" r="1.8"/>
<circle cx="78.5" cy="137.0" r="1.8"/>
<circle cx="89.1" cy="139.2" r="1.8"/>
<circle cx="85.1" cy="149.6" r="1.8"/>
<circle cx="92.7" cy="162.4" r="1.8"/>
<circle cx="94.0" cy="173.8" r="1.8"/>
<circle cx="99.8" cy="177.1" r="1.8"/>
<circle cx="95.6" cy="166.3" r="1.8"/>
<circle cx="90.0" cy="145.3" r="1.8"/>
<circle cx="93.5" cy="166.3" r="1.8"/>
<circle cx="97.7" cy="166.3" r="1.8"/>
<circle cx="82.5" cy="155.1" r="1.8"/>
<circle cx="99.9" cy="144.5" r="1.8"/>
<circle cx="97.7" cy="135.9" r="1.8"/>
<circle cx="96.8" cy="137.0" r="1.8"/>
<circle cx="82.8" cy="152.7" r="1.8"/>
<circle cx="84.2" cy="149.6" r="1.8"/>
<circle cx="97.4" cy="164.3" r="1.8"/>
<circle cx="75.0" cy="171.0" r="1.8"/>
<circle cx="85.1" cy="149.6" r="1.8"/>
<circle cx="87.0" cy="171.0" r="1.8"/>
<circle cx="77.6" cy="139.8" r="1.8"/>
<circle cx="96.1" cy="171.0" r="1.8"/>
<circle cx="109.1" cy="148.7" r="1.8"/>
<circle cx="106.8" cy="177.1" r="1.8"/>
<circle cx="75.5" cy="147.8" r="1.8"/>
<circle cx="92.5" cy="168.5" r="1.8"/>
<circle cx="85.5" cy="148.7" r="1.8"/>
<circle cx="108.9" cy="141.7" r="1.8"/>
<circle cx="96.7" cy="180.9" r="1.8"/>
<circle cx="102.4" cy="162.4" r="1.8"/>
<circle cx="74.1" cy="173.8" r="1.8"/>
<circle cx="93.6" cy="166.3" r="1.8"/>
<circle cx="81.5" cy="162.4" r="1.8"/>
<circle cx="87.3" cy="136.4" r="1.8"/>
<circle cx="90.7" cy="162.4" r="1.8"/>
<circle cx="97.4" cy="147.8" r="1.8"/>
<circle cx="87.3" cy="166.3" r="1.8"/>
<circle cx="103.3" cy="166.3" r="1.8"/>
<circle cx="86.2" cy="160.7" r="1.8"/>
<circle cx="82.0" cy="150.6" r="1.8"/>
<circle cx="90.9" cy="151.6" r="1.8"/>
<circle cx="105.3" cy="160.7" r="1.8"/>
<circle cx="108.6" cy="171.0" r="1.8"/>
<circle cx="77.3" cy="141.7" r="1.8"/>
<circle cx="79.0" cy="153.9" r="1.8"/>
<circle cx="75.8" cy="151.6" r="1.8"/>
<circle cx="78.4" cy="146.1" r="1.8"/>
<circle cx="105.5" cy="168.5" r="1.8"/>
<circle cx="99.2" cy="137.5" r="1.8"/>
<circle cx="101.8" cy="143.1" r="1.8"/>
<circle cx="81.2" cy="215.0" r="1.8"/>
<circle cx="107.2" cy="215.0" r="1.8"/>
<circle cx="109.4" cy="215.0" r="1.8"/>
<circle cx="106.1" cy="200.3" r="1.8"/>
<circle cx="81.3" cy="191.7" r="1.8"/>
<circle cx="95.0" cy="191.7" r="1.8"/>
<circle cx="150.3" cy="114.4" r="1.8"/>
<circle cx="155.1" cy="99.2" r="1.8"/>
<circle cx="161.2" cy="120.8" r="1.8"/>
<circle cx="173.2" cy="125.0" r="1.8"/>
<circle cx="156.8" cy="121.8" r="1.8"/>
<circle cx="159.6" cy="87.9" r="1.8"/>
<circle cx="162.5" cy="131.1" r="1.8"/>
<circle cx="144.1" cy="143.9" r="1.8"/>
<circle cx="153.2" cy="125.3" r="1.8"/>
<circle cx="165.4" cy="136.3" r="1.8"/>
<circle cx="143.8" cy="125.5" r="1.8"/>
<circle cx="143.3" cy="86.7" r="1.8"/>
<circle cx="161.7" cy="111.4" r="1.8"/>
<circle cx="157.9" cy="107.5" r="1.8"/>
<circle cx="145.2" cy="78.7" r="1.8"/>
<circle cx="149.6" cy="106.6" r="1.8"/>
<circle cx="144.1" cy="120.8" r="1.8"/>
<circle cx="143.4" cy="113.3" r="1.8"/>
<circle cx="159.8" cy="114.8" r="1.8"/>
<circle cx="139.4" cy="123.3" r="1.8"/>
<circle cx="148.9" cy="104.5" r="1.8"/>
<circle cx="168.1" cy="163.5" r="1.8"/>
<circle cx="167.1" cy="110.0" r="1.8"/>
<circle cx="145.0" cy="101.5" r="1.8"/>
<circle cx="146.9" cy="137.2" r="1.8"/>
<circle cx="147.2" cy="137.7" r="1.8"/>
<circle cx="152.2" cy="74.7" r="1.8"/>
<circle cx="144.7" cy="124.6" r="1.8"/>
<circle cx="151.2" cy="133.2" r="1.8"/>
<circle cx="145.0" cy="129.7" r="1.8"/>
<circle cx="158.2" cy="131.0" r="1.8"/>
<circle cx="151.9" cy="162.4" r="1.8"/>
<circle cx="148.6" cy="64.4" r="1.8"/>
<circle cx="140.9" cy="108.1" r="1.8"/>
<circle cx="139.9" cy="118.1" r="1.8"/>
<circle cx="165.1" cy="87.0" r="1.8"/>
<circle cx="146.4" cy="91.8" r="1.8"/>
<circle cx="141.7" cy="91.0" r="1.8"/>
<circle cx="150.2" cy="98.1" r="1.8"/>
<circle cx="158.4" cy="115.7" r="1.8"/>
<circle cx="173.2" cy="96.6" r="1.8"/>
<circle cx="145.9" cy="151.1" r="1.8"/>
<circle cx="173.4" cy="97.1" r="1.8"/>
<circle cx="151.8" cy="101.2" r="1.8"/>
<circle cx="140.8" cy="109.8" r="1.8"/>
<circle cx="172.0" cy="145.4" r="1.8"/>
<circle cx="139.9" cy="37.3" r="1.8"/>
<circle cx="139.7" cy="156.7" r="1.8"/>
<circle cx="143.1" cy="120.3" r="1.8"/>
<circle cx="172.6" cy="130.5" r="1.8"/>
<circle cx="140.2" cy="133.4" r="1.8"/>
<circle cx="143.9" cy="130.9" r="1.8"/>
<circle cx="150.8" cy="62.8" r="1.8"/>
<circle cx="170.9" cy="70.0" r="1.8"/>
<circle cx="171.7" cy="68.1" r="1.8"/>
<circle cx="165.6" cy="125.4" r="1.8"/>
<circle cx="151.6" cy="155.9" r="1.8"/>
<circle cx="164.6" cy="149.9" r="1.8"/>
<circle cx="170.8" cy="141.2" r="1.8"/>
<circle cx="161.5" cy="128.8" r="1.8"/>
<circle cx="167.1" cy="101.0" r="1.8"/>
<circle cx="149.4" cy="92.9" r="1.8"/>
<circle cx="138.8" cy="124.6" r="1.8"/>
<circle cx="153.7" cy="108.5" r="1.8"/>
<circle cx="168.9" cy="107.1" r="1.8"/>
<circle cx="143.7" cy="121.6" r="1.8"/>
<circle cx="141.9" cy="111.6" r="1.8"/>
<circle cx="153.7" cy="129.4" r="1.8"/>
<circle cx="148.3" cy="104.5" r="1.8"/>
<circle cx="137.3" cy="121.5" r="1.8"/>
<circle cx="166.6" cy="115.7" r="1.8"/>
<circle cx="163.8" cy="111.1" r="1.8"/>
<circle cx="172.9" cy="113.4" r="1.8"/>
<circle cx="137.9" cy="132.2" r="1.8"/>
<circle cx="141.6" cy="146.0" r="1.8"/>
<circle cx="152.8" cy="118.1" r="1.8"/>
<circle cx="164.2" cy="129.0" r="1.8"/>
<circle cx="147.0" cy="128.2" r="1.8"/>
<circle cx="141.4" cy="118.9" r="1.8"/>
<circle cx="141.6" cy="132.1" r="1.8"/>
<circle cx="151.2" cy="106.9" r="1.8"/>
<circle cx="150.1" cy="108.0" r="1.8"/>
<circle cx="171.0" cy="136.3" r="1.8"/>
<circle cx="153.8" cy="108.6" r="1.8"/>
<circle cx="154.0" cy="137.6" r="1.8"/>
<circle cx="172.1" cy="101.0" r="1.8"/>
<circle cx="157.0" cy="103.2" r="1.8"/>
<circle cx="139.4" cy="117.0" r="1.8"/>
<circle cx="138.2" cy="97.3" r="1.8"/>
<circle cx="153.2" cy="94.4" r="1.8"/>
<circle cx="145.8" cy="107.1" r="1.8"/>
<circle cx="160.9" cy="156.7" r="1.8"/>
<circle cx="157.4" cy="113.9" r="1.8"/>
<circle cx="147.5" cy="112.4" r="1.8"/>
<circle cx="138.3" cy="99.2" r="1.8"/>
<circle cx="148.2" cy="138.2" r="1.8"/>
<circle cx="162.9" cy="101.4" r="1.8"/>
<circle cx="157.9" cy="109.1" r="1.8"/>
<circle cx="141.9" cy="108.0" r="1.8"/>
<circle cx="139.6" cy="143.8" r="1.8"/>
<circle cx="160.6" cy="135.7" r="1.8"/>
<circle cx="173.6" cy="92.2" r="1.8"/>
<circle cx="170.5" cy="98.8" r="1.8"/>
<circle cx="165.8" cy="118.7" r="1.8"/>
<circle cx="138.3" cy="93.2" r="1.8"/>
<circle cx="164.1" cy="111.1" r="1.8"/>
<circle cx="147.1" cy="126.0" r="1.8"/>
<circle cx="170.6" cy="151.3" r="1.8"/>
<circle cx="149.4" cy="94.8" r="1.8"/>
<circle cx="151.0" cy="120.0" r="1.8"/>
<circle cx="163.0" cy="111.8" r="1.8"/>
<circle cx="139.5" cy="156.1" r="1.8"/>
<circle cx="152.4" cy="128.8" r="1.8"/>
<circle cx="143.1" cy="110.5" r="1.8"/>
<circle cx="160.8" cy="122.4" r="1.8"/>
<circle cx="146.8" cy="133.0" r="1.8"/>
<circle cx="151.6" cy="141.2" r="1.8"/>
<circle cx="169.0" cy="112.5" r="1.8"/>
<circle cx="156.9" cy="125.1" r="1.8"/>
<circle cx="167.4" cy="124.4" r="1.8"/>
<circle cx="165.4" cy="123.4" r="1.8"/>
<circle cx="146.2" cy="131.2" r="1.8"/>
<circle cx="164.7" cy="124.3" r="1.8"/>
<circle cx="171.5" cy="130.5" r="1.8"/>
<circle cx="165.5" cy="116.5" r="1.8"/>
<circle cx="163.9" cy="147.0" r="1.8"/>
<circle cx="143.3" cy="141.0" r="1.8"/>
<circle cx="156.1" cy="116.6" r="1.8"/>
<circle cx="140.0" cy="120.8" r="1.8"/>
<circle cx="155.8" cy="113.8" r="1.8"/>
<circle cx="140.4" cy="67.1" r="1.8"/>
<circle cx="168.5" cy="108.1" r="1.8"/>
<circle cx="154.3" cy="119.8" r="1.8"/>
<circle cx="152.2" cy="134.5" r="1.8"/>
<circle cx="164.5" cy="157.6" r="1.8"/>
<circle cx="158.2" cy="147.9" r="1.8"/>
<circle cx="147.2" cy="168.0" r="1.8"/>
<circle cx="161.0" cy="141.5" r="1.8"/>
<circle cx="155.6" cy="151.7" r="1.8"/>
<circle cx="151.2" cy="138.2" r="1.8"/>
<circle cx="167.3" cy="117.7" r="1.8"/>
<circle cx="160.9" cy="126.1" r="1.8"/>
<circle cx="154.8" cy="98.0" r="1.8"/>
<circle cx="173.7" cy="97.7" r="1.8"/>
<circle cx="159.8" cy="95.0" r="1.8"/>
<circle cx="160.1" cy="98.6" r="1.8"/>
<circle cx="153.9" cy="111.4" r="1.8"/>
<circle cx="151.2" cy="128.3" r="1.8"/>
<circle cx="153.2" cy="107.4" r="1.8"/>
<circle cx="147.3" cy="122.6" r="1.8"/>
<circle cx="170.1" cy="121.6" r="1.8"/>
<circle cx="140.7" cy="108.3" r="1.8"/>
<circle cx="172.3" cy="140.9" r="1.8"/>
<circle cx="162.9" cy="152.5" r="1.8"/>
<circle cx="144.2" cy="110.2" r="1.8"/>
<circle cx="141.6" cy="68.6" r="1.8"/>
<circle cx="149.1" cy="125.5" r="1.8"/>
<circle cx="152.1" cy="147.6" r="1.8"/>
<circle cx="171.9" cy="131.2" r="1.8"/>
<circle cx="157.1" cy="167.1" r="1.8"/>
<circle cx="156.5" cy="135.9" r="1.8"/>
<circle cx="172.5" cy="76.1" r="1.8"/>
<circle cx="162.4" cy="139.2" r="1.8"/>
<circle cx="165.4" cy="124.2" r="1.8"/>
<circle cx="146.3" cy="135.0" r="1.8"/>
<circle cx="157.6" cy="146.3" r="1.8"/>
<circle cx="142.3" cy="122.4" r="1.8"/>
<circle cx="144.6" cy="124.3" r="1.8"/>
<circle cx="160.7" cy="115.1" r="1.8"/>
<circle cx="144.0" cy="111.5" r="1.8"/>
<circle cx="157.0" cy="102.0" r="1.8"/>
<circle cx="151.0" cy="72.0" r="1.8"/>
<circle cx="144.5" cy="117.0" r="1.8"/>
<circle cx="137.4" cy="107.5" r="1.8"/>
<circle cx="148.7" cy="120.0" r="1.8"/>
<circle cx="153.3" cy="138.6" r="1.8"/>
<circle cx="151.3" cy="128.4" r="1.8"/>
<circle cx="159.4" cy="101.1" r="1.8"/>
<circle cx="173.5" cy="139.4" r="1.8"/>
<circle cx="168.6" cy="99.5" r="1.8"/>
<circle cx="151.9" cy="147.4" r="1.8"/>
<circle cx="163.9" cy="103.9" r="1.8"/>
<circle cx="144.9" cy="104.3" r="1.8"/>
<circle cx="169.6" cy="121.7" r="1.8"/>
<circle cx="143.4" cy="117.6" r="1.8"/>
<circle cx="148.8" cy="122.2" r="1.8"/>
<circle cx="167.0" cy="80.7" r="1.8"/>
<circle cx="173.2" cy="133.0" r="1.8"/>
<circle cx="137.2" cy="109.0" r="1.8"/>
<circle cx="172.2" cy="93.1" r="1.8"/>
<circle cx="139.8" cy="109.9" r="1.8"/>
<circle cx="164.9" cy="120.3" r="1.8"/>
<circle cx="150.7" cy="94.9" r="1.8"/>
<circle cx="145.7" cy="133.6" r="1.8"/>
<circle cx="158.1" cy="134.0" r="1.8"/>
<circle cx="164.0" cy="144.0" r="1.8"/>
<circle cx="150.3" cy="90.9" r="1.8"/>
<circle cx="146.1" cy="165.0" r="1.8"/>
<circle cx="142.1" cy="145.0" r="1.8"/>
<circle cx="165.6" cy="111.8" r="1.8"/>
<circle cx="167.1" cy="108.3" r="1.8"/>
<circle cx="153.6" cy="79.5" r="1.8"/>
<circle cx="155.7" cy="127.8" r="1.8"/>
<circle cx="159.1" cy="87.2" r="1.8"/>
<circle cx="140.2" cy="92.0" r="1.8"/>
<circle cx="147.9" cy="94.0" r="1.8"/>
<circle cx="159.4" cy="106.1" r="1.8"/>
<circle cx="150.1" cy="148.6" r="1.8"/>
<circle cx="141.4" cy="140.0" r="1.8"/>
<circle cx="137.6" cy="74.5" r="1.8"/>
<circle cx="155.2" cy="157.0" r="1.8"/>
<circle cx="153.9" cy="116.0" r="1.8"/>
<circle cx="146.2" cy="96.3" r="1.8"/>
<circle cx="138.6" cy="108.6" r="1.8"/>
<circle cx="163.1" cy="116.9" r="1.8"/>
<circle cx="163.9" cy="167.4" r="1.8"/>
<circle cx="138.5" cy="115.9" r="1.8"/>
<circle cx="145.7" cy="120.1" r="1.8"/>
<circle cx="142.5" cy="80.9" r="1.8"/>
<circle cx="152.4" cy="118.3" r="1.8"/>
<circle cx="159.2" cy="126.7" r="1.8"/>
<circle cx="160.6" cy="119.9" r="1.8"/>
<circle cx="165.3" cy="111.3" r="1.8"/>
<circle cx="157.2" cy="128.3" r="1.8"/>
<circle cx="161.7" cy="136.3" r="1.8"/>
<circle cx="155.7" cy="144.0" r="1.8"/>
<circle cx="167.4" cy="114.7" r="1.8"/>
<circle cx="156.8" cy="124.9" r="1.8"/>
<circle cx="158.9" cy="124.2" r="1.8"/>
<circle cx="149.5" cy="150.2" r="1.8"/>
<circle cx="170.9" cy="134.8" r="1.8"/>
<circle cx="171.9" cy="158.3" r="1.8"/>
<circle cx="161.7" cy="96.7" r="1.8"/>
<circle cx="161.6" cy="91.8" r="1.8"/>
<circle cx="152.3" cy="108.5" r="1.8"/>
<circle cx="145.6" cy="119.8" r="1.8"/>
<circle cx="149.2" cy="107.3" r="1.8"/>
<circle cx="154.9" cy="149.5" r="1.8"/>
<circle cx="171.8" cy="146.1" r="1.8"/>
<circle cx="144.6" cy="91.9" r="1.8"/>
<circle cx="147.8" cy="139.9" r="1.8"/>
<circle cx="171.8" cy="118.5" r="1.8"/>
<circle cx="154.1" cy="131.9" r="1.8"/>
<circle cx="165.9" cy="170.3" r="1.8"/>
<circle cx="163.6" cy="132.0" r="1.8"/>
<circle cx="150.4" cy="99.6" r="1.8"/>
<circle cx="141.2" cy="89.0" r="1.8"/>
<circle cx="139.8" cy="172.1" r="1.8"/>
<circle cx="167.0" cy="151.4" r="1.8"/>
<circle cx="171.2" cy="130.0" r="1.8"/>
<circle cx="147.4" cy="95.9" r="1.8"/>
<circle cx="163.4" cy="90.9" r="1.8"/>
<circle cx="155.9" cy="67.3" r="1.8"/>
<circle cx="162.2" cy="138.8" r="1.8"/>
<circle cx="152.1" cy="97.4" r="1.8"/>
<circle cx="165.0" cy="122.9" r="1.8"/>
<circle cx="173.8" cy="116.7" r="1.8"/>
<circle cx="155.6" cy="125.1" r="1.8"/>
<circle cx="166.9" cy="125.9" r="1.8"/>
<circle cx="146.2" cy="97.6" r="1.8"/>
<circle cx="157.1" cy="139.3" r="1.8"/>
<circle cx="171.3" cy="155.3" r="1.8"/>
<circle cx="147.1" cy="132.6" r="1.8"/>
<circle cx="140.9" cy="115.3" r="1.8"/>
<circle cx="148.1" cy="124.1" r="1.8"/>
<circle cx="149.6" cy="120.6" r="1.8"/>
<circle cx="165.5" cy="160.7" r="1.8"/>
<circle cx="143.9" cy="136.6" r="1.8"/>
<circle cx="147.0" cy="94.2" r="1.8"/>
<circle cx="166.1" cy="121.3" r="1.8"/>
<circle cx="152.0" cy="132.4" r="1.8"/>
<circle cx="174.0" cy="93.2" r="1.8"/>
<circle cx="138.2" cy="129.9" r="1.8"/>
<circle cx="142.0" cy="101.4" r="1.8"/>
<circle cx="145.0" cy="113.1" r="1.8"/>
<circle cx="167.4" cy="109.0" r="1.8"/>
<circle cx="157.6" cy="95.3" r="1.8"/>
<circle cx="168.9" cy="68.9" r="1.8"/>
<circle cx="149.3" cy="136.3" r="1.8"/>
<circle cx="167.6" cy="142.0" r="1.8"/>
<circle cx="138.7" cy="125.0" r="1.8"/>
<circle cx="156.5" cy="121.7" r="1.8"/>
<circle cx="171.0" cy="102.8" r="1.8"/>
<circle cx="147.0" cy="117.3" r="1.8"/>
<circle cx="142.4" cy="113.7" r="1.8"/>
<circle cx="148.9" cy="155.0" r="1.8"/>
<circle cx="173.1" cy="119.1" r="1.8"/>
<circle cx="172.8" cy="106.5" r="1.8"/>
<circle cx="161.7" cy="54.2" r="1.8"/>
<circle cx="173.2" cy="143.8" r="1.8"/>
<circle cx="147.6" cy="118.2" r="1.8"/>
<circle cx="163.2" cy="118.0" r="1.8"/>
<circle cx="157.4" cy="121.2" r="1.8"/>
<circle cx="145.4" cy="114.7" r="1.8"/>
<circle cx="142.5" cy="107.1" r="1.8"/>
<circle cx="160.7" cy="108.4" r="1.8"/>
<circle cx="154.2" cy="69.5" r="1.8"/>
<circle cx="153.3" cy="95.3" r="1.8"/>
<circle cx="150.3" cy="139.5" r="1.8"/>
<circle cx="144.9" cy="152.4" r="1.8"/>
<circle cx="171.9" cy="109.7" r="1.8"/>
<circle cx="159.2" cy="145.0" r="1.8"/>
<circle cx="141.8" cy="122.8" r="1.8"/>
<circle cx="155.0" cy="120.0" r="1.8"/>
<circle cx="148.5" cy="135.9" r="1.8"/>
<circle cx="151.5" cy="101.0" r="1.8"/>
<circle cx="166.8" cy="104.2" r="1.8"/>
<circle cx="173.1" cy="115.2" r="1.8"/>
<circle cx="156.2" cy="105.1" r="1.8"/>
<circle cx="143.5" cy="99.4" r="1.8"/>
<circle cx="165.1" cy="125.1" r="1.8"/>
<circle cx="137.9" cy="105.4" r="1.8"/>
<circle cx="160.6" cy="115.3" r="1.8"/>
<circle cx="153.5" cy="118.4" r="1.8"/>
<circle cx="149.4" cy="128.5" r="1.8"/>
<circle cx="138.9" cy="80.4" r="1.8"/>
<circle cx="147.4" cy="149.4" r="1.8"/>
<circle cx="140.0" cy="107.6" r="1.8"/>
<circle cx="166.0" cy="174.1" r="1.8"/>
<circle cx="148.8" cy="112.6" r="1.8"/>
<circle cx="170.1" cy="101.7" r="1.8"/>
<circle cx="164.6" cy="87.5" r="1.8"/>
<circle cx="165.8" cy="133.8" r="1.8"/>
<circle cx="173.9" cy="76.2" r="1.8"/>
<circle cx="173.6" cy="90.3" r="1.8"/>
<circle cx="160.9" cy="124.0" r="1.8"/>
<circle cx="155.7" cy="104.7" r="1.8"/>
<circle cx="154.7" cy="156.9" r="1.8"/>
<circle cx="159.6" cy="108.1" r="1.8"/>
<circle cx="153.8" cy="164.4" r="1.8"/>
<circle cx="146.5" cy="141.0" r="1.8"/>
<circle cx="152.9" cy="150.6" r="1.8"/>
<circle cx="168.9" cy="93.6" r="1.8"/>
<circle cx="143.5" cy="98.5" r="1.8"/>
<circle cx="139.0" cy="131.4" r="1.8"/>
<circle cx="173.5" cy="91.6" r="1.8"/>
<circle cx="164.1" cy="116.9" r="1.8"/>
<circle cx="160.2" cy="161.9" r="1.8"/>
<circle cx="149.4" cy="127.1" r="1.8"/>
<circle cx="149.8" cy="156.3" r="1.8"/>
<circle cx="150.4" cy="117.0" r="1.8"/>
<circle cx="137.7" cy="110.7" r="1.8"/>
<circle cx="162.1" cy="134.8" r="1.8"/>
<circle cx="146.2" cy="101.0" r="1.8"/>
<circle cx="169.2" cy="95.6" r="1.8"/>
<circle cx="172.9" cy="138.1" r="1.8"/>
<circle cx="157.9" cy="106.2" r="1.8"/>
<circle cx="148.0" cy="120.8" r="1.8"/>
<circle cx="162.4" cy="124.8" r="1.8"/>
<circle cx="143.3" cy="81.8" r="1.8"/>
<circle cx="165.8" cy="126.4" r="1.8"/>
<circle cx="165.0" cy="120.0" r="1.8"/>
<circle cx="169.0" cy="106.1" r="1.8"/>
<circle cx="139.3" cy="101.6" r="1.8"/>
<circle cx="155.2" cy="139.1" r="1.8"/>
<circle cx="169.7" cy="88.6" r="1.8"/>
<circle cx="154.7" cy="78.5" r="1.8"/>
<circle cx="155.2" cy="114.8" r="1.8"/>
<circle cx="150.9" cy="129.6" r="1.8"/>
<circle cx="169.6" cy="141.8" r="1.8"/>
<circle cx="164.8" cy="110.8" r="1.8"/>
<circle cx="157.0" cy="120.0" r="1.8"/>
<circle cx="145.7" cy="119.7" r="1.8"/>
<circle cx="159.4" cy="132.0" r="1.8"/>
<circle cx="148.3" cy="166.8" r="1.8"/>
<circle cx="142.7" cy="124.7" r="1.8"/>
<circle cx="141.1" cy="122.2" r="1.8"/>
<circle cx="170.0" cy="126.4" r="1.8"/>
<circle cx="156.9" cy="149.4" r="1.8"/>
<circle cx="153.9" cy="124.4" r="1.8"/>
<circle cx="169.2" cy="121.6" r="1.8"/>
<circle cx="169.5" cy="143.0" r="1.8"/>
<circle cx="162.5" cy="104.2" r="1.8"/>
<circle cx="138.5" cy="119.1" r="1.8"/>
<circle cx="163.4" cy="115.3" r="1.8"/>
<circle cx="173.4" cy="109.6" r="1.8"/>
<circle cx="149.6" cy="123.8" r="1.8"/>
<circle cx="141.8" cy="120.0" r="1.8"/>
<circle cx="170.6" cy="106.6" r="1.8"/>
<circle cx="149.9" cy="101.6" r="1.8"/>
<circle cx="156.5" cy="98.7" r="1.8"/>
<circle cx="140.4" cy="122.3" r="1.8"/>
<circle cx="165.9" cy="101.4" r="1.8"/>
<circle cx="151.8" cy="93.2" r="1.8"/>
<circle cx="152.3" cy="148.9" r="1.8"/>
<circle cx="148.8" cy="127.1" r="1.8"/>
<circle cx="171.0" cy="118.7" r="1.8"/>
<circle cx="167.6" cy="118.1" r="1.8"/>
<circle cx="148.8" cy="78.8" r="1.8"/>
<circle cx="150.0" cy="121.0" r="1.8"/>
<circle cx="164.1" cy="120.6" r="1.8"/>
<circle cx="168.3" cy="148.6" r="1.8"/>
<circle cx="142.2" cy="139.6" r="1.8"/>
<circle cx="137.1" cy="88.6" r="1.8"/>
<circle cx="158.4" cy="155.7" r="1.8"/>
<circle cx="168.5" cy="104.2" r="1.8"/>
<circle cx="173.8" cy="133.4" r="1.8"/>
<circle cx="149.1" cy="124.7" r="1.8"/>
<circle cx="152.5" cy="120.1" r="1.8"/>
<circle cx="155.9" cy="77.8" r="1.8"/>
<circle cx="170.7" cy="106.7" r="1.8"/>
<circle cx="158.7" cy="95.6" r="1.8"/>
<circle cx="145.9" cy="166.4" r="1.8"/>
<circle cx="145.0" cy="76.8" r="1.8"/>
<circle cx="145.6" cy="133.5" r="1.8"/>
<circle cx="160.4" cy="102.6" r="1.8"/>
<circle cx="163.3" cy="144.6" r="1.8"/>
<circle cx="164.1" cy="155.9" r="1.8"/>
<circle cx="158.1" cy="92.1" r="1.8"/>
<circle cx="146.1" cy="124.5" r="1.8"/>
<circle cx="172.7" cy="97.0" r="1.8"/>
<circle cx="146.9" cy="106.9" r="1.8"/>
<circle cx="148.5" cy="121.7" r="1.8"/>
<circle cx="165.5" cy="80.3" r="1.8"/>
<circle cx="140.0" cy="73.2" r="1.8"/>
<circle cx="155.4" cy="139.3" r="1.8"/>
<circle cx="156.1" cy="132.4" r="1.8"/>
<circle cx="172.6" cy="112.2" r="1.8"/>
<circle cx="140.5" cy="142.2" r="1.8"/>
<circle cx="158.4" cy="132.6" r="1.8"/>
<circle cx="173.2" cy="85.7" r="1.8"/>
<circle cx="149.9" cy="91.9" r="1.8"/>
<circle cx="163.4" cy="109.1" r="1.8"/>
<circle cx="173.4" cy="130.0" r="1.8"/>
<circle cx="164.6" cy="133.9" r="1.8"/>
<circle cx="143.8" cy="113.0" r="1.8"/>
<circle cx="146.2" cy="115.5" r="1.8"/>
<circle cx="158.3" cy="128.5" r="1.8"/>
<circle cx="137.7" cy="129.3" r="1.8"/>
<circle cx="170.1" cy="85.3" r="1.8"/>
<circle cx="152.9" cy="110.4" r="1.8"/>
<circle cx="168.4" cy="124.4" r="1.8"/>
<circle cx="140.5" cy="126.2" r="1.8"/>
<circle cx="166.8" cy="73.1" r="1.8"/>
<circle cx="154.9" cy="66.5" r="1.8"/>
<circle cx="144.1" cy="149.5" r="1.8"/>
<circle cx="162.6" cy="72.8" r="1.8"/>
<circle cx="155.9" cy="78.7" r="1.8"/>
<circle cx="161.8" cy="107.4" r="1.8"/>
<circle cx="150.4" cy="122.3" r="1.8"/>
<circle cx="152.7" cy="96.4" r="1.8"/>
<circle cx="163.9" cy="123.4" r="1.8"/>
<circle cx="158.7" cy="107.5" r="1.8"/>
<circle cx="148.1" cy="120.1" r="1.8"/>
<circle cx="161.7" cy="155.5" r="1.8"/>
<circle cx="160.5" cy="108.4" r="1.8"/>
<circle cx="142.7" cy="128.7" r="1.8"/>
<circle cx="158.6" cy="120.2" r="1.8"/>
<circle cx="137.2" cy="108.1" r="1.8"/>
<circle cx="171.5" cy="148.1" r="1.8"/>
<circle cx="166.1" cy="105.3" r="1.8"/>
<circle cx="159.4" cy="104.5" r="1.8"/>
<circle cx="171.5" cy="75.1" r="1.8"/>
<circle cx="143.3" cy="109.7" r="1.8"/>
<circle cx="165.0" cy="131.3" r="1.8"/>
<circle cx="149.3" cy="117.7" r="1.8"/>
<circle cx="156.1" cy="148.0" r="1.8"/>
<circle cx="170.1" cy="108.4" r="1.8"/>
<circle cx="144.7" cy="121.6" r="1.8"/>
<circle cx="147.7" cy="125.3" r="1.8"/>
<circle cx="150.4" cy="117.0" r="1.8"/>
<circle cx="161.6" cy="107.5" r="1.8"/>
<circle cx="155.0" cy="111.7" r="1.8"/>
<circle cx="162.0" cy="143.2" r="1.8"/>
<circle cx="151.4" cy="88.5" r="1.8"/>
<circle cx="173.7" cy="116.8" r="1.8"/>
<circle cx="140.9" cy="110.2" r="1.8"/>
<circle cx="155.6" cy="117.4" r="1.8"/>
<circle cx="139.5" cy="138.0" r="1.8"/>
<circle cx="155.1" cy="111.8" r="1.8"/>
<circle cx="160.3" cy="126.1" r="1.8"/>
<circle cx="147.6" cy="136.1" r="1.8"/>
<circle cx="146.8" cy="114.9" r="1.8"/>
<circle cx="139.7" cy="101.2" r="1.8"/>
<circle cx="164.8" cy="104.4" r="1.8"/>
<circle cx="160.4" cy="113.4" r="1.8"/>
<circle cx="150.0" cy="131.0" r="1.8"/>
<circle cx="140.0" cy="124.7" r="1.8"/>
<circle cx="170.8" cy="120.6" r="1.8"/>
<circle cx="154.9" cy="148.6" r="1.8"/>
<circle cx="168.1" cy="100.1" r="1.8"/>
<circle cx="165.2" cy="115.7" r="1.8"/>
<circle cx="166.9" cy="145.4" r="1.8"/>
<circle cx="147.0" cy="85.2" r="1.8"/>
<circle cx="162.5" cy="145.7" r="1.8"/>
<circle cx="166.1" cy="121.5" r="1.8"/>
<circle cx="155.0" cy="135.8" r="1.8"/>
<circle cx="160.1" cy="101.0" r="1.8"/>
<circle cx="158.3" cy="147.5" r="1.8"/>
<circle cx="149.4" cy="107.0" r="1.8"/>
<circle cx="162.9" cy="109.4" r="1.8"/>
<circle cx="140.3" cy="93.7" r="1.8"/>
<circle cx="161.1" cy="158.8" r="1.8"/>
<circle cx="150.7" cy="134.4" r="1.8"/>
<circle cx="152.2" cy="122.2" r="1.8"/>
<circle cx="157.0" cy="97.0" r="1.8"/>
<circle cx="143.3" cy="115.8" r="1.8"/>
<circle cx="139.5" cy="101.5" r="1.8"/>
<circle cx="151.9" cy="107.9" r="1.8"/>
<circle cx="157.5" cy="137.2" r="1.8"/>
<circle cx="159.8" cy="120.3" r="1.8"/>
<circle cx="168.9" cy="126.4" r="1.8"/>
<circle cx="140.2" cy="124.6" r="1.8"/>
<circle cx="144.8" cy="137.7" r="1.8"/>
<circle cx="146.0" cy="101.5" r="1.8"/>
<circle cx="170.9" cy="111.3" r="1.8"/>
<circle cx="147.1" cy="159.2" r="1.8"/>
<circle cx="157.3" cy="101.9" r="1.8"/>
<circle cx="155.1" cy="130.1" r="1.8"/>
<circle cx="151.3" cy="150.0" r="1.8"/>
<circle cx="158.0" cy="91.7" r="1.8"/>
<circle cx="168.1" cy="118.4" r="1.8"/>
<circle cx="147.6" cy="110.3" r="1.8"/>
<circle cx="146.4" cy="120.9" r="1.8"/>
<circle cx="166.1" cy="118.8" r="1.8"/>
<circle cx="148.2" cy="157.2" r="1.8"/>
<circle cx="154.1" cy="101.6" r="1.8"/>
<circle cx="148.8" cy="133.9" r="1.8"/>
<circle cx="151.8" cy="117.7" r="1.8"/>
<circle cx="168.5" cy="119.8" r="1.8"/>
<circle cx="164.1" cy="139.0" r="1.8"/>
<circle cx="150.1" cy="145.2" r="1.8"/>
<circle cx="143.0" cy="121.3" r="1.8"/>
<circle cx="172.1" cy="90.4" r="1.8"/>
<circle cx="142.2" cy="132.3" r="1.8"/>
<circle cx="161.7" cy="131.1" r="1.8"/>
<circle cx="167.6" cy="115.9" r="1.8"/>
<circle cx="149.7" cy="130.6" r="1.8"/>
<circle cx="159.2" cy="89.5" r="1.8"/>
<circle cx="172.2" cy="107.9" r="1.8"/>
<circle cx="165.8" cy="63.5" r="1.8"/>
<circle cx="149.8" cy="68.3" r="1.8"/>
<circle cx="172.9" cy="140.7" r="1.8"/>
<circle cx="149.3" cy="126.0" r="1.8"/>
<circle cx="139.8" cy="124.4" r="1.8"/>
<circle cx="156.6" cy="104.2" r="1.8"/>
<circle cx="164.4" cy="87.9" r="1.8"/>
<circle cx="144.4" cy="148.8" r="1.8"/>
<circle cx="137.5" cy="117.4" r="1.8"/>
<circle cx="170.5" cy="121.0" r="1.8"/>
<circle cx="166.9" cy="127.9" r="1.8"/>
<circle cx="164.9" cy="98.5" r="1.8"/>
<circle cx="166.7" cy="92.5" r="1.8"/>
<circle cx="147.0" cy="132.3" r="1.8"/>
<circle cx="165.1" cy="132.5" r="1.8"/>
<circle cx="144.7" cy="173.5" r="1.8"/>
<circle cx="140.9" cy="130.6" r="1.8"/>
<circle cx="142.7" cy="98.7" r="1.8"/>
<circle cx="161.3" cy="136.9" r="1.8"/>
<circle cx="170.5" cy="97.1" r="1.8"/>
<circle cx="170.3" cy="102.1" r="1.8"/>
<circle cx="153.0" cy="103.3" r="1.8"/>
<circle cx="141.2" cy="102.8" r="1.8"/>
<circle cx="153.6" cy="118.3" r="1.8"/>
<circle cx="148.3" cy="94.3" r="1.8"/>
<circle cx="143.7" cy="93.4" r="1.8"/>
<circle cx="169.6" cy="108.8" r="1.8"/>
<circle cx="139.5" cy="117.2" r="1.8"/>
<circle cx="147.3" cy="88.0" r="1.8"/>
<circle cx="140.8" cy="130.1" r="1.8"/>
<circle cx="138.4" cy="98.0" r="1.8"/>
<circle cx="138.4" cy="114.9" r="1.8"/>
<circle cx="171.7" cy="65.2" r="1.8"/>
<circle cx="154.2" cy="129.7" r="1.8"/>
<circle cx="147.5" cy="136.1" r="1.8"/>
<circle cx="167.7" cy="96.2" r="1.8"/>
<circle cx="168.7" cy="139.1" r="1.8"/>
<circle cx="139.8" cy="102.1" r="1.8"/>
<circle cx="141.9" cy="127.3" r="1.8"/>
<circle cx="166.4" cy="86.8" r="1.8"/>
<circle cx="163.8" cy="91.2" r="1.8"/>
<circle cx="170.6" cy="158.6" r="1.8"/>
<circle cx="166.6" cy="147.8" r="1.8"/>
<circle cx="162.7" cy="175.0" r="1.8"/>
<circle cx="144.9" cy="58.6" r="1.8"/>
<circle cx="142.0" cy="125.1" r="1.8"/>
<circle cx="147.6" cy="115.1" r="1.8"/>
<circle cx="139.4" cy="102.9" r="1.8"/>
<circle cx="148.4" cy="123.4" r="1.8"/>
<circle cx="144.8" cy="114.7" r="1.8"/>
<circle cx="171.5" cy="116.3" r="1.8"/>
<circle cx="143.9" cy="144.6" r="1.8"/>
<circle cx="169.2" cy="70.4" r="1.8"/>
<circle cx="169.5" cy="102.7" r="1.8"/>
<circle cx="166.3" cy="124.9" r="1.8"/>
<circle cx="166.6" cy="108.6" r="1.8"/>
<circle cx="156.9" cy="171.7" r="1.8"/>
<circle cx="164.0" cy="165.0" r="1.8"/>
<circle cx="143.1" cy="106.0" r="1.8"/>
<circle cx="139.5" cy="120.0" r="1.8"/>
<circle cx="152.8" cy="107.1" r="1.8"/>
<circle cx="170.8" cy="114.0" r="1.8"/>
<circle cx="155.4" cy="102.5" r="1.8"/>
<circle cx="152.9" cy="110.1" r="1.8"/>
<circle cx="162.0" cy="119.4" r="1.8"/>
<circle cx="165.7" cy="106.4" r="1.8"/>
<circle cx="148.5" cy="130.1" r="1.8"/>
<circle cx="150.4" cy="84.7" r="1.8"/>
<circle cx="147.5" cy="124.2" r="1.8"/>
<circle cx="168.8" cy="95.7" r="1.8"/>
<circle cx="155.1" cy="123.5" r="1.8"/>
<circle cx="137.9" cy="94.4" r="1.8"/>
<circle cx="162.5" cy="83.4" r="1.8"/>
<circle cx="151.3" cy="124.9" r="1.8"/>
<circle cx="145.5" cy="73.5" r="1.8"/>
<circle cx="169.9" cy="136.3" r="1.8"/>
<circle cx="146.2" cy="95.3" r="1.8"/>
<circle cx="173.5" cy="126.3" r="1.8"/>
<circle cx="161.9" cy="95.3" r="1.8"/>
<circle cx="169.6" cy="142.2" r="1.8"/>
<circle cx="166.1" cy="136.5" r="1.8"/>
<circle cx="138.4" cy="123.6" r="1.8"/>
<circle cx="173.2" cy="67.1" r="1.8"/>
<circle cx="154.7" cy="89.4" r="1.8"/>
<circle cx="140.4" cy="124.4" r="1.8"/>
<circle cx="145.8" cy="103.1" r="1.8"/>
<circle cx="146.0" cy="161.1" r="1.8"/>
<circle cx="151.0" cy="120.4" r="1.8"/>
<circle cx="165.8" cy="105.2" r="1.8"/>
<circle cx="171.2" cy="127.2" r="1.8"/>
<circle cx="152.2" cy="158.2" r="1.8"/>
<circle cx="149.3" cy="150.6" r="1.8"/>
<circle cx="145.9" cy="100.8" r="1.8"/>
<circle cx="163.9" cy="64.8" r="1.8"/>
<circle cx="147.4" cy="143.4" r="1.8"/>
<circle cx="164.0" cy="101.2" r="1.8"/>
<circle cx="162.2" cy="108.3" r="1.8"/>
<circle cx="157.7" cy="91.9" r="1.8"/>
<circle cx="151.0" cy="148.0" r="1.8"/>
<circle cx="147.0" cy="93.1" r="1.8"/>
<circle cx="154.5" cy="112.6" r="1.8"/>
<circle cx="151.9" cy="134.1" r="1.8"/>
<circle cx="156.6" cy="125.2" r="1.8"/>
<circle cx="169.3" cy="120.0" r="1.8"/>
<circle cx="155.5" cy="109.1" r="1.8"/>
<circle cx="139.0" cy="134.1" r="1.8"/>
<circle cx="152.7" cy="134.4" r="1.8"/>
<circle cx="156.4" cy="113.5" r="1.8"/>
<circle cx="170.9" cy="116.4" r="1.8"/>
<circle cx="161.2" cy="104.6" r="1.8"/>
<circle cx="155.7" cy="95.8" r="1.8"/>
<circle cx="155.3" cy="156.5" r="1.8"/>
<circle cx="141.1" cy="117.9" r="1.8"/>
<circle cx="140.8" cy="110.8" r="1.8"/>
<circle cx="168.8" cy="114.9" r="1.8"/>
<circle cx="153.5" cy="139.7" r="1.8"/>
<circle cx="146.6" cy="100.5" r="1.8"/>
<circle cx="164.5" cy="78.5" r="1.8"/>
<circle cx="152.1" cy="133.7" r="1.8"/>
<circle cx="146.9" cy="99.3" r="1.8"/>
<circle cx="161.9" cy="116.0" r="1.8"/>
<circle cx="145.3" cy="113.9" r="1.8"/>
<circle cx="162.7" cy="111.5" r="1.8"/>
<circle cx="144.8" cy="126.6" r="1.8"/>
<circle cx="159.1" cy="116.9" r="1.8"/>
<circle cx="163.5" cy="132.5" r="1.8"/>
<circle cx="152.9" cy="159.9" r="1.8"/>
<circle cx="156.3" cy="93.8" r="1.8"/>
<circle cx="172.1" cy="110.3" r="1.8"/>
<circle cx="152.6" cy="118.2" r="1.8"/>
<circle cx="158.1" cy="87.0" r="1.8"/>
<circle cx="171.5" cy="92.0" r="1.8"/>
<circle cx="140.4" cy="98.6" r="1.8"/>
<circle cx="148.9" cy="123.1" r="1.8"/>
<circle cx="142.8" cy="144.4" r="1.8"/>
<circle cx="162.1" cy="106.3" r="1.8"/>
<circle cx="144.7" cy="111.8" r="1.8"/>
<circle cx="157.7" cy="94.5" r="1.8"/>
<circle cx="163.4" cy="150.9" r="1.8"/>
<circle cx="168.2" cy="119.5" r="1.8"/>
<circle cx="157.8" cy="111.7" r="1.8"/>
<circle cx="159.0" cy="109.2" r="1.8"/>
<circle cx="146.9" cy="114.2" r="1.8"/>
<circle cx="150.4" cy="110.0" r="1.8"/>
<circle cx="145.8" cy="168.1" r="1.8"/>
<circle cx="152.6" cy="123.8" r="1.8"/>
<circle cx="155.9" cy="131.6" r="1.8"/>
<circle cx="148.3" cy="151.0" r="1.8"/>
<circle cx="153.7" cy="114.4" r="1.8"/>
<circle cx="137.9" cy="125.5" r="1.8"/>
<circle cx="141.7" cy="142.5" r="1.8"/>
<circle cx="158.2" cy="147.7" r="1.8"/>
<circle cx="151.4" cy="109.8" r="1.8"/>
<circle cx="155.2" cy="173.0" r="1.8"/>
<circle cx="160.8" cy="119.0" r="1.8"/>
<circle cx="156.2" cy="141.7" r="1.8"/>
<circle cx="153.3" cy="114.0" r="1.8"/>
<circle cx="137.8" cy="74.6" r="1.8"/>
<circle cx="167.2" cy="118.2" r="1.8"/>
<circle cx="157.4" cy="83.6" r="1.8"/>
<circle cx="142.8" cy="94.9" r="1.8"/>
<circle cx="146.2" cy="46.5" r="1.8"/>
<circle cx="171.9" cy="118.5" r="1.8"/>
<circle cx="163.6" cy="125.1" r="1.8"/>
<circle cx="165.2" cy="116.1" r="1.8"/>
<circle cx="154.7" cy="133.8" r="1.8"/>
<circle cx="149.0" cy="118.8" r="1.8"/>
<circle cx="159.6" cy="67.7" r="1.8"/>
<circle cx="141.7" cy="120.8" r="1.8"/>
<circle cx="170.7" cy="78.5" r="1.8"/>
<circle cx="165.8" cy="140.2" r="1.8"/>
<circle cx="152.9" cy="132.0" r="1.8"/>
<circle cx="158.3" cy="78.2" r="1.8"/>
<circle cx="148.4" cy="112.5" r="1.8"/>
<circle cx="174.0" cy="128.2" r="1.8"/>
<circle cx="152.7" cy="141.0" r="1.8"/>
<circle cx="158.9" cy="91.1" r="1.8"/>
<circle cx="155.4" cy="134.4" r="1.8"/>
<circle cx="149.4" cy="104.5" r="1.8"/>
<circle cx="159.0" cy="75.4" r="1.8"/>
<circle cx="139.7" cy="121.2" r="1.8"/>
<circle cx="165.5" cy="102.5" r="1.8"/>
<circle cx="140.6" cy="104.1" r="1.8"/>
<circle cx="153.3" cy="126.6" r="1.8"/>
<circle cx="173.1" cy="110.6" r="1.8"/>
<circle cx="158.6" cy="143.4" r="1.8"/>
<circle cx="169.5" cy="155.4" r="1.8"/>
<circle cx="143.0" cy="128.8" r="1.8"/>
<circle cx="138.7" cy="155.5" r="1.8"/>
<circle cx="167.5" cy="130.7" r="1.8"/>
<circle cx="172.4" cy="119.4" r="1.8"/>
<circle cx="161.2" cy="112.7" r="1.8"/>
<circle cx="164.2" cy="55.4" r="1.8"/>
<circle cx="164.2" cy="127.1" r="1.8"/>
<circle cx="163.7" cy="139.3" r="1.8"/>
<circle cx="156.5" cy="71.9" r="1.8"/>
<circle cx="149.9" cy="122.3" r="1.8"/>
<circle cx="152.5" cy="121.0" r="1.8"/>
<circle cx="166.7" cy="60.5" r="1.8"/>
<circle cx="164.1" cy="89.6" r="1.8"/>
<circle cx="137.2" cy="131.8" r="1.8"/>
<circle cx="150.4" cy="164.1" r="1.8"/>
<circle cx="151.7" cy="92.0" r="1.8"/>
<circle cx="150.4" cy="96.4" r="1.8"/>
<circle cx="142.1" cy="149.1" r="1.8"/>
<circle cx="147.2" cy="144.9" r="1.8"/>
<circle cx="158.7" cy="118.1" r="1.8"/>
<circle cx="145.2" cy="139.0" r="1.8"/>
<circle cx="142.6" cy="151.3" r="1.8"/>
<circle cx="141.2" cy="144.2" r="1.8"/>
<circle cx="169.0" cy="71.7" r="1.8"/>
<circle cx="159.7" cy="121.1" r="1.8"/>
<circle cx="153.0" cy="115.4" r="1.8"/>
<circle cx="151.5" cy="125.4" r="1.8"/>
<circle cx="163.7" cy="118.6" r="1.8"/>
<circle cx="144.6" cy="78.7" r="1.8"/>
<circle cx="154.1" cy="92.1" r="1.8"/>
<circle cx="154.0" cy="132.2" r="1.8"/>
<circle cx="147.1" cy="135.2" r="1.8"/>
<circle cx="145.7" cy="119.1" r="1.8"/>
<circle cx="164.4" cy="133.2" r="1.8"/>
<circle cx="167.1" cy="128.0" r="1.8"/>
<circle cx="167.8" cy="128.0" r="1.8"/>
<circle cx="142.3" cy="140.5" r="1.8"/>
<circle cx="153.3" cy="91.1" r="1.8"/>
<circle cx="139.4" cy="133.1" r="1.8"/>
<circle cx="140.5" cy="88.6" r="1.8"/>
<circle cx="145.2" cy="137.4" r="1.8"/>
<circle cx="159.0" cy="138.8" r="1.8"/>
<circle cx="137.8" cy="112.7" r="1.8"/>
<circle cx="171.5" cy="124.2" r="1.8"/>
<circle cx="140.1" cy="99.4" r="1.8"/>
<circle cx="172.0" cy="103.2" r="1.8"/>
<circle cx="159.9" cy="119.4" r="1.8"/>
<circle cx="140.0" cy="123.2" r="1.8"/>
<circle cx="165.0" cy="119.6" r="1.8"/>
<circle cx="150.7" cy="60.2" r="1.8"/>
<circle cx="166.6" cy="103.1" r="1.8"/>
<circle cx="160.7" cy="123.6" r="1.8"/>
<circle cx="157.2" cy="118.2" r="1.8"/>
<circle cx="158.4" cy="94.0" r="1.8"/>
<circle cx="171.7" cy="119.7" r="1.8"/>
<circle cx="160.9" cy="100.6" r="1.8"/>
<circle cx="157.1" cy="89.2" r="1.8"/>
<circle cx="173.3" cy="91.4" r="1.8"/>
<circle cx="173.8" cy="160.5" r="1.8"/>
<circle cx="144.5" cy="133.1" r="1.8"/>
<circle cx="158.3" cy="147.9" r="1.8"/>
<circle cx="174.0" cy="136.2" r="1.8"/>
<circle cx="164.4" cy="122.9" r="1.8"/>
<circle cx="142.6" cy="71.6" r="1.8"/>
<circle cx="159.3" cy="125.4" r="1.8"/>
<circle cx="165.1" cy="122.5" r="1.8"/>
<circle cx="167.1" cy="84.6" r="1.8"/>
<circle cx="138.5" cy="100.1" r="1.8"/>
<circle cx="138.1" cy="105.8" r="1.8"/>
<circle cx="145.5" cy="164.6" r="1.8"/>
<circle cx="150.9" cy="148.4" r="1.8"/>
<circle cx="150.0" cy="103.7" r="1.8"/>
<circle cx="164.8" cy="159.1" r="1.8"/>
<circle cx="151.9" cy="124.4" r="1.8"/>
<circle cx="158.1" cy="153.4" r="1.8"/>
<circle cx="165.9" cy="110.4" r="1.8"/>
<circle cx="160.4" cy="120.6" r="1.8"/>
<circle cx="169.5" cy="154.7" r="1.8"/>
<circle cx="155.6" cy="125.3" r="1.8"/>
<circle cx="156.3" cy="143.7" r="1.8"/>
<circle cx="171.1" cy="132.3" r="1.8"/>
<circle cx="145.8" cy="91.5" r="1.8"/>
<circle cx="146.3" cy="113.5" r="1.8"/>
<circle cx="146.2" cy="112.2" r="1.8"/>
<circle cx="150.2" cy="76.2" r="1.8"/>
<circle cx="149.5" cy="110.9" r="1.8"/>
<circle cx="173.4" cy="113.7" r="1.8"/>
<circle cx="138.0" cy="128.0" r="1.8"/>
<circle cx="150.9" cy="138.6" r="1.8"/>
<circle cx="147.4" cy="143.0" r="1.8"/>
<circle cx="162.0" cy="140.7" r="1.8"/>
<circle cx="160.2" cy="108.1" r="1.8"/>
<circle cx="138.5" cy="110.6" r="1.8"/>
<circle cx="173.0" cy="138.6" r="1.8"/>
<circle cx="145.1" cy="92.2" r="1.8"/>
<circle cx="151.4" cy="134.1" r="1.8"/>
<circle cx="159.2" cy="128.5" r="1.8"/>
<circle cx="150.4" cy="150.6" r="1.8"/>
<circle cx="151.7" cy="138.5" r="1.8"/>
<circle cx="171.4" cy="100.2" r="1.8"/>
<circle cx="158.0" cy="109.8" r="1.8"/>
<circle cx="166.8" cy="133.9" r="1.8"/>
<circle cx="153.2" cy="92.0" r="1.8"/>
<circle cx="164.8" cy="121.1" r="1.8"/>
<circle cx="153.4" cy="117.9" r="1.8"/>
<circle cx="163.2" cy="96.0" r="1.8"/>
<circle cx="165.2" cy="109.3" r="1.8"/>
<circle cx="165.2" cy="127.0" r="1.8"/>
<circle cx="151.4" cy="143.2" r="1.8"/>
<circle cx="158.3" cy="90.8" r="1.8"/>
<circle cx="150.3" cy="172.3" r="1.8"/>
<circle cx="170.1" cy="133.5" r="1.8"/>
<circle cx="173.9" cy="158.7" r="1.8"/>
<circle cx="147.8" cy="132.7" r="1.8"/>
<circle cx="142.9" cy="100.7" r="1.8"/>
<circle cx="144.1" cy="127.1" r="1.8"/>
<circle cx="156.8" cy="129.1" r="1.8"/>
<circle cx="153.0" cy="120.7" r="1.8"/>
<circle cx="143.9" cy="75.8" r="1.8"/>
<circle cx="155.6" cy="114.5" r="1.8"/>
<circle cx="138.4" cy="133.9" r="1.8"/>
<circle cx="153.8" cy="128.4" r="1.8"/>
<circle cx="166.7" cy="111.9" r="1.8"/>
<circle cx="171.3" cy="124.8" r="1.8"/>
<circle cx="161.6" cy="122.2" r="1.8"/>
<circle cx="170.4" cy="142.7" r="1.8"/>
<circle cx="139.9" cy="149.8" r="1.8"/>
<circle cx="138.2" cy="143.9" r="1.8"/>
<circle cx="150.9" cy="114.2" r="1.8"/>
<circle cx="161.2" cy="140.0" r="1.8"/>
<circle cx="151.0" cy="62.9" r="1.8"/>
<circle cx="169.2" cy="104.6" r="1.8"/>
<circle cx="148.6" cy="96.8" r="1.8"/>
<circle cx="223.0" cy="121.6" r="1.8"/>
<circle cx="202.2" cy="108.7" r="1.8"/>
<circle cx="205.5" cy="132.6" r="1.8"/>
<circle cx="202.0" cy="126.2" r="1.8"/>
<circle cx="214.4" cy="111.5" r="1.8"/>
<circle cx="207.7" cy="75.0" r="1.8"/>
<circle cx="232.2" cy="108.4" r="1.8"/>
<circle cx="206.0" cy="104.0" r="1.8"/>
<circle cx="207.7" cy="122.4" r="1.8"/>
<circle cx="206.1" cy="82.7" r="1.8"/>
<circle cx="218.0" cy="110.5" r="1.8"/>
<circle cx="225.4" cy="134.4" r="1.8"/>
<circle cx="222.5" cy="121.1" r="1.8"/>
<circle cx="217.0" cy="127.2" r="1.8"/>
<circle cx="230.3" cy="130.3" r="1.8"/>
<circle cx="205.3" cy="128.8" r="1.8"/>
<circle cx="225.5" cy="118.8" r="1.8"/>
<circle cx="224.2" cy="109.9" r="1.8"/>
<circle cx="204.6" cy="135.0" r="1.8"/>
<circle cx="205.4" cy="130.9" r="1.8"/>
<circle cx="202.0" cy="131.2" r="1.8"/>
<circle cx="203.2" cy="129.4" r="1.8"/>
<circle cx="234.8" cy="109.4" r="1.8"/>
<circle cx="216.6" cy="135.2" r="1.8"/>
<circle cx="208.6" cy="132.7" r="1.8"/>
<circle cx="204.1" cy="118.0" r="1.8"/>
<circle cx="211.8" cy="131.9" r="1.8"/>
<circle cx="208.6" cy="70.1" r="1.8"/>
<circle cx="214.4" cy="131.7" r="1.8"/>
<circle cx="207.1" cy="95.0" r="1.8"/>
<circle cx="208.7" cy="131.9" r="1.8"/>
<circle cx="202.1" cy="132.0" r="1.8"/>
<circle cx="218.6" cy="126.1" r="1.8"/>
<circle cx="217.0" cy="130.2" r="1.8"/>
<circle cx="219.3" cy="100.8" r="1.8"/>
<circle cx="231.7" cy="115.5" r="1.8"/>
<circle cx="225.1" cy="132.6" r="1.8"/>
<circle cx="202.8" cy="122.0" r="1.8"/>
<circle cx="201.5" cy="119.1" r="1.8"/>
<circle cx="214.8" cy="116.4" r="1.8"/>
<circle cx="215.4" cy="131.9" r="1.8"/>
<circle cx="234.5" cy="123.7" r="1.8"/>
<circle cx="215.6" cy="132.5" r="1.8"/>
<circle cx="231.6" cy="111.8" r="1.8"/>
<circle cx="232.4" cy="125.5" r="1.8"/>
<circle cx="230.3" cy="132.6" r="1.8"/>
<circle cx="218.8" cy="134.0" r="1.8"/>
<circle cx="218.5" cy="113.3" r="1.8"/>
<circle cx="229.4" cy="86.8" r="1.8"/>
<circle cx="235.3" cy="133.1" r="1.8"/>
<circle cx="212.0" cy="117.5" r="1.8"/>
<circle cx="217.3" cy="86.8" r="1.8"/>
<circle cx="222.7" cy="113.5" r="1.8"/>
<circle cx="215.5" cy="132.5" r="1.8"/>
<circle cx="207.1" cy="103.5" r="1.8"/>
<circle cx="205.1" cy="119.8" r="1.8"/>
<circle cx="215.7" cy="126.6" r="1.8"/>
<circle cx="219.2" cy="93.2" r="1.8"/>
<circle cx="232.5" cy="130.5" r="1.8"/>
<circle cx="208.6" cy="86.1" r="1.8"/>
<circle cx="222.8" cy="122.6" r="1.8"/>
<circle cx="206.2" cy="83.8" r="1.8"/>
<circle cx="224.3" cy="121.1" r="1.8"/>
<circle cx="230.8" cy="114.6" r="1.8"/>
<circle cx="227.7" cy="133.5" r="1.8"/>
<circle cx="219.7" cy="122.9" r="1.8"/>
<circle cx="230.0" cy="126.2" r="1.8"/>
<circle cx="229.4" cy="118.2" r="1.8"/>
<circle cx="221.0" cy="132.1" r="1.8"/>
<circle cx="227.2" cy="94.4" r="1.8"/>
<circle cx="215.8" cy="118.4" r="1.8"/>
<circle cx="232.4" cy="127.1" r="1.8"/>
<circle cx="223.4" cy="129.3" r="1.8"/>
<circle cx="221.8" cy="131.0" r="1.8"/>
<circle cx="225.2" cy="63.2" r="1.8"/>
<circle cx="211.5" cy="93.4" r="1.8"/>
<circle cx="223.1" cy="100.8" r="1.8"/>
<circle cx="211.7" cy="127.5" r="1.8"/>
<circle cx="232.0" cy="101.4" r="1.8"/>
<circle cx="204.6" cy="125.8" r="1.8"/>
<circle cx="216.1" cy="103.7" r="1.8"/>
<circle cx="220.6" cy="102.1" r="1.8"/>
<circle cx="225.4" cy="89.2" r="1.8"/>
<circle cx="209.3" cy="131.3" r="1.8"/>
<circle cx="200.6" cy="134.0" r="1.8"/>
<circle cx="230.9" cy="113.7" r="1.8"/>
<circle cx="200.4" cy="131.5" r="1.8"/>
<circle cx="209.9" cy="90.1" r="1.8"/>
<circle cx="224.7" cy="112.5" r="1.8"/>
<circle cx="202.9" cy="131.3" r="1.8"/>
<circle cx="203.1" cy="107.6" r="1.8"/>
<circle cx="222.7" cy="125.1" r="1.8"/>
<circle cx="219.4" cy="121.8" r="1.8"/>
<circle cx="203.1" cy="120.0" r="1.8"/>
<circle cx="203.7" cy="74.2" r="1.8"/>
<circle cx="209.0" cy="119.9" r="1.8"/>
<circle cx="202.0" cy="109.5" r="1.8"/>
<circle cx="214.6" cy="124.7" r="1.8"/>
<circle cx="223.5" cy="125.4" r="1.8"/>
<circle cx="232.9" cy="132.6" r="1.8"/>
<circle cx="213.4" cy="115.2" r="1.8"/>
<circle cx="231.0" cy="122.4" r="1.8"/>
<circle cx="202.6" cy="103.8" r="1.8"/>
<circle cx="230.8" cy="114.9" r="1.8"/>
<circle cx="201.5" cy="121.7" r="1.8"/>
<circle cx="228.1" cy="85.1" r="1.8"/>
<circle cx="223.9" cy="112.5" r="1.8"/>
<circle cx="207.6" cy="93.1" r="1.8"/>
<circle cx="207.8" cy="118.4" r="1.8"/>
<circle cx="235.6" cy="131.9" r="1.8"/>
<circle cx="218.5" cy="130.0" r="1.8"/>
<circle cx="227.4" cy="116.0" r="1.8"/>
<circle cx="205.4" cy="88.9" r="1.8"/>
<circle cx="220.3" cy="113.7" r="1.8"/>
<circle cx="219.7" cy="120.5" r="1.8"/>
<circle cx="205.1" cy="118.2" r="1.8"/>
<circle cx="217.4" cy="129.8" r="1.8"/>
<circle cx="224.6" cy="133.2" r="1.8"/>
<circle cx="211.3" cy="134.3" r="1.8"/>
<circle cx="233.6" cy="112.4" r="1.8"/>
<circle cx="228.7" cy="123.2" r="1.8"/>
<circle cx="229.2" cy="113.3" r="1.8"/>
<circle cx="205.6" cy="100.5" r="1.8"/>
<circle cx="221.8" cy="133.3" r="1.8"/>
<circle cx="220.7" cy="129.6" r="1.8"/>
<circle cx="224.4" cy="132.6" r="1.8"/>
<circle cx="236.1" cy="103.1" r="1.8"/>
<circle cx="214.3" cy="121.3" r="1.8"/>
<circle cx="210.4" cy="131.1" r="1.8"/>
<circle cx="210.9" cy="126.2" r="1.8"/>
<circle cx="200.5" cy="113.9" r="1.8"/>
<circle cx="220.7" cy="134.5" r="1.8"/>
<circle cx="200.8" cy="124.9" r="1.8"/>
<circle cx="220.4" cy="106.1" r="1.8"/>
<circle cx="208.3" cy="97.9" r="1.8"/>
<circle cx="234.3" cy="120.2" r="1.8"/>
<circle cx="230.9" cy="123.8" r="1.8"/>
<circle cx="231.7" cy="131.5" r="1.8"/>
<circle cx="201.6" cy="135.1" r="1.8"/>
<circle cx="221.7" cy="130.1" r="1.8"/>
<circle cx="219.9" cy="133.7" r="1.8"/>
<circle cx="218.0" cy="101.1" r="1.8"/>
<circle cx="227.0" cy="135.0" r="1.8"/>
<circle cx="215.4" cy="104.4" r="1.8"/>
<circle cx="232.8" cy="128.1" r="1.8"/>
<circle cx="214.2" cy="126.1" r="1.8"/>
<circle cx="209.9" cy="132.2" r="1.8"/>
<circle cx="205.2" cy="119.8" r="1.8"/>
<circle cx="219.6" cy="133.2" r="1.8"/>
<circle cx="206.2" cy="127.1" r="1.8"/>
<circle cx="234.0" cy="112.6" r="1.8"/>
<circle cx="220.9" cy="134.8" r="1.8"/>
<circle cx="220.5" cy="125.0" r="1.8"/>
<circle cx="228.2" cy="135.4" r="1.8"/>
<circle cx="222.8" cy="131.2" r="1.8"/>
<circle cx="202.8" cy="126.4" r="1.8"/>
<circle cx="220.5" cy="134.0" r="1.8"/>
<circle cx="227.0" cy="106.0" r="1.8"/>
<circle cx="204.2" cy="118.7" r="1.8"/>
<circle cx="228.2" cy="102.4" r="1.8"/>
<circle cx="210.4" cy="114.1" r="1.8"/>
<circle cx="234.9" cy="130.3" r="1.8"/>
<circle cx="205.2" cy="64.8" r="1.8"/>
<circle cx="201.7" cy="131.2" r="1.8"/>
<circle cx="209.4" cy="132.8" r="1.8"/>
<circle cx="221.5" cy="131.5" r="1.8"/>
<circle cx="205.1" cy="129.9" r="1.8"/>
<circle cx="210.7" cy="100.9" r="1.8"/>
<circle cx="217.5" cy="108.4" r="1.8"/>
<circle cx="229.8" cy="126.9" r="1.8"/>
<circle cx="230.1" cy="120.4" r="1.8"/>
<circle cx="235.1" cy="126.4" r="1.8"/>
<circle cx="225.5" cy="120.7" r="1.8"/>
<circle cx="219.0" cy="125.0" r="1.8"/>
<circle cx="214.5" cy="119.3" r="1.8"/>
<circle cx="213.9" cy="119.2" r="1.8"/>
<circle cx="204.2" cy="130.2" r="1.8"/>
<circle cx="230.9" cy="128.5" r="1.8"/>
<circle cx="208.3" cy="131.5" r="1.8"/>
<circle cx="222.2" cy="127.9" r="1.8"/>
<circle cx="213.1" cy="114.1" r="1.8"/>
<circle cx="227.6" cy="106.4" r="1.8"/>
<circle cx="218.0" cy="118.6" r="1.8"/>
<circle cx="231.4" cy="131.2" r="1.8"/>
<circle cx="228.4" cy="133.5" r="1.8"/>
<circle cx="220.9" cy="103.3" r="1.8"/>
<circle cx="227.6" cy="125.2" r="1.8"/>
<circle cx="213.5" cy="111.7" r="1.8"/>
<circle cx="211.9" cy="115.6" r="1.8"/>
<circle cx="208.4" cy="129.7" r="1.8"/>
<circle cx="287.3" cy="110.5" r="1.8"/>
<circle cx="267.5" cy="65.4" r="1.8"/>
<circle cx="298.3" cy="104.7" r="1.8"/>
<circle cx="292.7" cy="127.6" r="1.8"/>
<circle cx="265.6" cy="109.5" r="1.8"/>
<circle cx="264.6" cy="51.2" r="1.8"/>
<circle cx="288.7" cy="103.8" r="1.8"/>
<circle cx="285.6" cy="96.0" r="1.8"/>
<circle cx="282.1" cy="115.8" r="1.8"/>
<circle cx="288.1" cy="115.5" r="1.8"/>
<circle cx="291.4" cy="83.0" r="1.8"/>
<circle cx="290.7" cy="130.1" r="1.8"/>
<circle cx="298.7" cy="93.6" r="1.8"/>
<circle cx="279.1" cy="59.5" r="1.8"/>
<circle cx="279.2" cy="99.7" r="1.8"/>
<circle cx="271.8" cy="113.4" r="1.8"/>
<circle cx="264.6" cy="91.9" r="1.8"/>
<circle cx="296.9" cy="127.2" r="1.8"/>
<circle cx="275.5" cy="126.7" r="1.8"/>
<circle cx="278.9" cy="101.2" r="1.8"/>
<circle cx="290.3" cy="115.4" r="1.8"/>
<circle cx="274.2" cy="96.2" r="1.8"/>
<circle cx="275.3" cy="130.2" r="1.8"/>
<circle cx="285.5" cy="118.8" r="1.8"/>
<circle cx="289.9" cy="127.1" r="1.8"/>
<circle cx="290.3" cy="86.7" r="1.8"/>
<circle cx="279.2" cy="82.7" r="1.8"/>
<circle cx="285.2" cy="90.2" r="1.8"/>
<circle cx="265.2" cy="86.2" r="1.8"/>
<circle cx="294.3" cy="77.3" r="1.8"/>
<circle cx="274.8" cy="126.2" r="1.8"/>
<circle cx="265.5" cy="65.5" r="1.8"/>
<circle cx="276.3" cy="126.9" r="1.8"/>
<circle cx="269.6" cy="98.1" r="1.8"/>
<circle cx="272.0" cy="88.2" r="1.8"/>
<circle cx="298.2" cy="98.3" r="1.8"/>
<circle cx="290.0" cy="102.3" r="1.8"/>
<circle cx="280.0" cy="127.4" r="1.8"/>
<circle cx="287.6" cy="123.8" r="1.8"/>
<circle cx="285.6" cy="98.3" r="1.8"/>
<circle cx="274.0" cy="84.1" r="1.8"/>
<circle cx="282.8" cy="74.5" r="1.8"/>
<circle cx="274.8" cy="79.2" r="1.8"/>
<circle cx="264.9" cy="77.3" r="1.8"/>
<circle cx="299.4" cy="113.2" r="1.8"/>
<circle cx="283.5" cy="125.8" r="1.8"/>
<circle cx="271.6" cy="108.5" r="1.8"/>
<circle cx="284.0" cy="102.8" r="1.8"/>
<circle cx="288.6" cy="116.2" r="1.8"/>
<circle cx="273.0" cy="114.4" r="1.8"/>
<circle cx="279.8" cy="108.4" r="1.8"/>
<circle cx="266.9" cy="72.9" r="1.8"/>
<circle cx="274.3" cy="97.5" r="1.8"/>
<circle cx="281.4" cy="114.8" r="1.8"/>
<circle cx="297.6" cy="74.2" r="1.8"/>
<circle cx="300.6" cy="109.6" r="1.8"/>
<circle cx="276.1" cy="105.8" r="1.8"/>
<circle cx="275.2" cy="87.1" r="1.8"/>
<circle cx="264.9" cy="76.6" r="1.8"/>
<circle cx="264.0" cy="117.6" r="1.8"/>
<circle cx="286.3" cy="122.6" r="1.8"/>
<circle cx="296.6" cy="87.6" r="1.8"/>
<circle cx="282.3" cy="125.6" r="1.8"/>
<circle cx="287.5" cy="105.4" r="1.8"/>
<circle cx="280.5" cy="105.0" r="1.8"/>
<circle cx="270.2" cy="103.2" r="1.8"/>
<circle cx="300.6" cy="79.5" r="1.8"/>
<circle cx="300.1" cy="92.7" r="1.8"/>
<circle cx="277.7" cy="120.4" r="1.8"/>
<circle cx="273.8" cy="73.1" r="1.8"/>
<circle cx="288.1" cy="91.0" r="1.8"/>
<circle cx="275.2" cy="94.8" r="1.8"/>
<circle cx="294.4" cy="66.1" r="1.8"/>
<circle cx="273.5" cy="105.7" r="1.8"/>
<circle cx="273.3" cy="114.8" r="1.8"/>
<circle cx="272.3" cy="90.9" r="1.8"/>
<circle cx="268.3" cy="112.1" r="1.8"/>
<circle cx="283.2" cy="105.7" r="1.8"/>
<circle cx="296.3" cy="62.1" r="1.8"/>
<circle cx="276.4" cy="122.0" r="1.8"/>
<circle cx="265.7" cy="65.6" r="1.8"/>
<circle cx="267.3" cy="113.8" r="1.8"/>
<circle cx="284.6" cy="102.9" r="1.8"/>
<circle cx="272.6" cy="125.3" r="1.8"/>
<circle cx="269.4" cy="90.1" r="1.8"/>
<circle cx="268.9" cy="105.0" r="1.8"/>
<circle cx="272.4" cy="99.6" r="1.8"/>
<circle cx="268.0" cy="108.7" r="1.8"/>
<circle cx="299.8" cy="118.0" r="1.8"/>
<circle cx="266.1" cy="104.9" r="1.8"/>
<circle cx="297.5" cy="81.1" r="1.8"/>
<circle cx="291.8" cy="86.8" r="1.8"/>
<circle cx="271.0" cy="82.4" r="1.8"/>
<circle cx="286.3" cy="85.9" r="1.8"/>
<circle cx="276.5" cy="122.5" r="1.8"/>
<circle cx="278.5" cy="98.5" r="1.8"/>
<circle cx="277.5" cy="130.2" r="1.8"/>
<circle cx="291.9" cy="83.4" r="1.8"/>
<circle cx="270.2" cy="115.7" r="1.8"/>
<circle cx="291.1" cy="72.8" r="1.8"/>
<circle cx="271.5" cy="86.4" r="1.8"/>
<circle cx="282.7" cy="121.6" r="1.8"/>
<circle cx="300.0" cy="80.3" r="1.8"/>
<circle cx="282.8" cy="102.5" r="1.8"/>
<circle cx="265.9" cy="57.0" r="1.8"/>
<circle cx="275.6" cy="61.0" r="1.8"/>
<circle cx="285.1" cy="97.6" r="1.8"/>
<circle cx="270.0" cy="102.5" r="1.8"/>
<circle cx="289.1" cy="92.7" r="1.8"/>
<circle cx="291.3" cy="98.4" r="1.8"/>
<circle cx="293.8" cy="97.1" r="1.8"/>
<circle cx="291.2" cy="85.4" r="1.8"/>
<circle cx="266.1" cy="91.4" r="1.8"/>
<circle cx="278.0" cy="61.8" r="1.8"/>
<circle cx="287.5" cy="93.9" r="1.8"/>
<circle cx="294.2" cy="129.3" r="1.8"/>
<circle cx="272.2" cy="83.4" r="1.8"/>
<circle cx="300.6" cy="105.9" r="1.8"/>
<circle cx="288.3" cy="76.3" r="1.8"/>
<circle cx="300.3" cy="100.0" r="1.8"/>
<circle cx="282.5" cy="106.3" r="1.8"/>
<circle cx="296.6" cy="80.5" r="1.8"/>
<circle cx="288.5" cy="106.9" r="1.8"/>
<circle cx="282.7" cy="120.5" r="1.8"/>
<circle cx="288.4" cy="74.9" r="1.8"/>
<circle cx="273.7" cy="114.6" r="1.8"/>
<circle cx="280.7" cy="40.9" r="1.8"/>
<circle cx="296.6" cy="121.8" r="1.8"/>
<circle cx="270.8" cy="129.4" r="1.8"/>
<circle cx="284.4" cy="78.0" r="1.8"/>
<circle cx="267.9" cy="77.4" r="1.8"/>
<circle cx="277.6" cy="112.5" r="1.8"/>
<circle cx="298.0" cy="82.7" r="1.8"/>
<circle cx="299.5" cy="124.5" r="1.8"/>
<circle cx="287.9" cy="105.1" r="1.8"/>
<circle cx="270.2" cy="80.5" r="1.8"/>
<circle cx="282.5" cy="120.0" r="1.8"/>
<circle cx="265.0" cy="124.0" r="1.8"/>
<circle cx="296.1" cy="75.3" r="1.8"/>
<circle cx="285.7" cy="77.7" r="1.8"/>
<circle cx="294.3" cy="109.6" r="1.8"/>
<circle cx="276.2" cy="123.7" r="1.8"/>
<circle cx="293.0" cy="111.4" r="1.8"/>
<circle cx="265.8" cy="95.0" r="1.8"/>
<circle cx="265.2" cy="110.1" r="1.8"/>
<circle cx="288.2" cy="93.7" r="1.8"/>
<circle cx="286.3" cy="71.5" r="1.8"/>
<circle cx="295.6" cy="106.1" r="1.8"/>
<circle cx="288.1" cy="71.1" r="1.8"/>
<circle cx="273.1" cy="84.0" r="1.8"/>
<circle cx="297.7" cy="96.4" r="1.8"/>
<circle cx="294.1" cy="112.7" r="1.8"/>
<circle cx="278.7" cy="88.4" r="1.8"/>
<circle cx="296.8" cy="78.3" r="1.8"/>
<circle cx="294.1" cy="121.0" r="1.8"/>
<circle cx="266.2" cy="91.7" r="1.8"/>
<circle cx="271.3" cy="104.9" r="1.8"/>
<circle cx="287.1" cy="85.3" r="1.8"/>
<circle cx="276.5" cy="126.5" r="1.8"/>
<circle cx="283.6" cy="88.2" r="1.8"/>
<circle cx="277.6" cy="81.4" r="1.8"/>
<circle cx="291.8" cy="112.6" r="1.8"/>
<circle cx="294.8" cy="124.2" r="1.8"/>
<circle cx="288.4" cy="108.8" r="1.8"/>
<circle cx="279.0" cy="74.9" r="1.8"/>
<circle cx="299.5" cy="89.0" r="1.8"/>
<circle cx="268.9" cy="72.5" r="1.8"/>
<circle cx="269.7" cy="118.7" r="1.8"/>
<circle cx="267.0" cy="107.0" r="1.8"/>
<circle cx="294.7" cy="65.2" r="1.8"/>
<circle cx="269.3" cy="123.0" r="1.8"/>
<circle cx="293.2" cy="110.1" r="1.8"/>
<circle cx="290.5" cy="88.0" r="1.8"/>
<circle cx="289.6" cy="111.9" r="1.8"/>
<circle cx="278.0" cy="78.2" r="1.8"/>
<circle cx="276.2" cy="67.5" r="1.8"/>
<circle cx="292.2" cy="126.6" r="1.8"/>
<circle cx="272.6" cy="116.0" r="1.8"/>
<circle cx="279.8" cy="100.3" r="1.8"/>
<circle cx="274.8" cy="87.2" r="1.8"/>
<circle cx="276.5" cy="110.7" r="1.8"/>
<circle cx="295.6" cy="110.1" r="1.8"/>
<circle cx="281.4" cy="118.3" r="1.8"/>
<circle cx="282.8" cy="77.6" r="1.8"/>
<circle cx="291.0" cy="73.4" r="1.8"/>
<circle cx="266.0" cy="121.1" r="1.8"/>
<circle cx="274.0" cy="104.0" r="1.8"/>
<circle cx="295.0" cy="117.5" r="1.8"/>
<circle cx="280.0" cy="111.6" r="1.8"/>
<circle cx="271.3" cy="108.3" r="1.8"/>
<circle cx="269.0" cy="157.7" r="1.8"/>
<circle cx="295.5" cy="162.4" r="1.8"/>
<circle cx="289.5" cy="134.5" r="1.8"/>
</g>
<line x1="42.40" y1="135.30" x2="331.50" y2="135.30" stroke="#222" stroke-width="0.9" stroke-dasharray="1.1,1.1"/>
<line x1="91.00" y1="150.40" x2="91.00" y2="134.80" stroke="#222" stroke-width="0.9" stroke-dasharray="2.7,1.3"/>
<line x1="78.30" y1="134.80" x2="103.70" y2="134.80" stroke="#333" stroke-width="1" />
<line x1="91.00" y1="166.30" x2="91.00" y2="215.00" stroke="#222" stroke-width="0.9" stroke-dasharray="2.7,1.3"/>
<line x1="78.30" y1="215.00" x2="103.70" y2="215.00" stroke="#333" stroke-width="1" />
<rect x="65.20" y="150.40" width="51.60" height="15.90" stroke="#3a3a3a" stroke-width="1" fill="none" />
<line x1="65.20" y1="161.10" x2="116.80" y2="161.10" stroke="#111" stroke-width="2.1" />
<line x1="155.00" y1="101.90" x2="155.00" y2="85.90" stroke="#222" stroke-width="0.9" stroke-dasharray="2.7,1.3"/>
<line x1="142.20" y1="85.90" x2="167.80" y2="85.90" stroke="#333" stroke-width="1" />
<line x1="155.00" y1="131.50" x2="155.00" y2="177.10" stroke="#222" stroke-width="0.9" stroke-dasharray="2.7,1.3"/>
<line x1="142.20" y1="177.10" x2="167.80" y2="177.10" stroke="#333" stroke-width="1" />
<rect x="129.20" y="101.90" width="51.60" height="29.60" stroke="#3a3a3a" stroke-width="1" fill="none" />
<line x1="129.20" y1="117.30" x2="180.80" y2="117.30" stroke="#111" stroke-width="2.1" />
<line x1="219.00" y1="111.50" x2="219.00" y2="99.00" stroke="#222" stroke-width="0.9" stroke-dasharray="2.7,1.3"/>
<line x1="206.50" y1="99.00" x2="231.50" y2="99.00" stroke="#333" stroke-width="1" />
<line x1="219.00" y1="131.10" x2="219.00" y2="134.50" stroke="#222" stroke-width="0.9" stroke-dasharray="2.7,1.3"/>
<line x1="206.50" y1="134.50" x2="231.50" y2="134.50" stroke="#333" stroke-width="1" />
<rect x="193.60" y="111.50" width="51.00" height="19.60" stroke="#3a3a3a" stroke-width="1" fill="none" />
<line x1="193.60" y1="125.10" x2="244.60" y2="125.10" stroke="#111" stroke-width="2.1" />
<line x1="282.30" y1="86.60" x2="282.30" y2="71.60" stroke="#222" stroke-width="0.9" stroke-dasharray="2.7,1.3"/>
<line x1="269.40" y1="71.60" x2="295.20" y2="71.60" stroke="#333" stroke-width="1" />
<line x1="282.30" y1="113.70" x2="282.30" y2="162.00" stroke="#222" stroke-width="0.9" stroke-dasharray="2.7,1.3"/>
<line x1="269.40" y1="162.00" x2="295.20" y2="162.00" stroke="#333" stroke-width="1" />
<rect x="257.20" y="86.60" width="51.00" height="27.10" stroke="#3a3a3a" stroke-width="1" fill="none" />
<line x1="257.20" y1="102.30" x2="308.20" y2="102.30" stroke="#111" stroke-width="2.1" />
<rect x="42.40" y="12.40" width="289.10" height="210.50" stroke="#666" stroke-width="1" fill="none" />
<line x1="187.00" y1="12.40" x2="187.00" y2="222.90" stroke="#8a8a8a" stroke-width="1.8" />
<line x1="37.40" y1="20.24" x2="42.40" y2="20.24" stroke="#666" stroke-width="1" />
<text x="0" y="0" transform="translate(28.30,20.24) rotate(-90)" font-size="8.201" text-anchor="middle" dominant-baseline="central" fill="#1a1a1a" stroke="#1a1a1a" stroke-width="0.14" letter-spacing="-0.38" >10</text>
<line x1="37.40" y1="68.92" x2="42.40" y2="68.92" stroke="#666" stroke-width="1" />
<text x="0" y="0" transform="translate(28.30,68.92) rotate(-90)" font-size="8.201" text-anchor="middle" dominant-baseline="central" fill="#1a1a1a" stroke="#1a1a1a" stroke-width="0.14" letter-spacing="-0.38" >1</text>
<line x1="37.40" y1="117.60" x2="42.40" y2="117.60" stroke="#666" stroke-width="1" />
<text x="0" y="0" transform="translate(28.30,117.60) rotate(-90)" font-size="8.201" text-anchor="middle" dominant-baseline="central" fill="#1a1a1a" stroke="#1a1a1a" stroke-width="0.14" letter-spacing="-0.38" >0.1</text>
<line x1="37.40" y1="166.28" x2="42.40" y2="166.28" stroke="#666" stroke-width="1" />
<text x="0" y="0" transform="translate(28.30,166.28) rotate(-90)" font-size="8.201" text-anchor="middle" dominant-baseline="central" fill="#1a1a1a" stroke="#1a1a1a" stroke-width="0.14" letter-spacing="-0.38" >0.01</text>
<line x1="37.40" y1="214.96" x2="42.40" y2="214.96" stroke="#666" stroke-width="1" />
<text x="0" y="0" transform="translate(28.30,214.96) rotate(-90)" font-size="8.201" text-anchor="middle" dominant-baseline="central" fill="#1a1a1a" stroke="#1a1a1a" stroke-width="0.14" letter-spacing="-0.38" >0.001</text>
<text x="0" y="0" transform="translate(9.90,117.50) rotate(-90)" font-size="8.378" text-anchor="middle" dominant-baseline="central" fill="#1a1a1a" stroke="#1a1a1a" stroke-width="0.14" letter-spacing="-0.325" >Anti-EBOV GP IgG (IU/mL)</text>
<line x1="91.30" y1="222.90" x2="91.30" y2="227.30" stroke="#666" stroke-width="1" />
<text x="0" y="0" transform="translate(91.30,236.90)" font-size="8.352" text-anchor="middle" dominant-baseline="central" fill="#1a1a1a" stroke="#1a1a1a" stroke-width="0.14" letter-spacing="-0.392" >Day 0</text>
<line x1="155.40" y1="222.90" x2="155.40" y2="227.30" stroke="#666" stroke-width="1" />
<text x="0" y="0" transform="translate(155.40,236.90)" font-size="8.352" text-anchor="middle" dominant-baseline="central" fill="#1a1a1a" stroke="#1a1a1a" stroke-width="0.14" letter-spacing="-0.392" >Day 28</text>
<line x1="218.70" y1="222.90" x2="218.70" y2="227.30" stroke="#666" stroke-width="1" />
<text x="0" y="0" transform="translate(218.70,236.90)" font-size="8.352" text-anchor="middle" dominant-baseline="central" fill="#1a1a1a" stroke="#1a1a1a" stroke-width="0.14" letter-spacing="-0.392" >Day 0</text>
<line x1="282.30" y1="222.90" x2="282.30" y2="227.30" stroke="#666" stroke-width="1" />
<text x="0" y="0" transform="translate(282.30,236.90)" font-size="8.352" text-anchor="middle" dominant-baseline="central" fill="#1a1a1a" stroke="#1a1a1a" stroke-width="0.14" letter-spacing="-0.392" >Day 28</text>
<text x="0" y="0" transform="translate(132.20,256.80)" font-size="8.496" text-anchor="middle" dominant-baseline="central" fill="#1a1a1a" stroke="#1a1a1a" stroke-width="0.14" letter-spacing="-0.31" >Baseline seronegative</text>
<text x="0" y="0" transform="translate(241.90,256.80)" font-size="8.515" text-anchor="middle" dominant-baseline="central" fill="#1a1a1a" stroke="#1a1a1a" stroke-width="0.14" letter-spacing="-0.298" >Baseline seropositive</text>
<text x="0" y="0" transform="translate(355.00,8.00) scale(0.93,1)" font-size="14.5" text-anchor="start" dominant-baseline="central" fill="#111" stroke="#111" stroke-width="0.14"  >B</text>
<line x1="397.60" y1="216.10" x2="684.00" y2="15.50" stroke="#c8c8c8" stroke-width="0.8" />
<line x1="516.40" y1="15.50" x2="516.40" y2="216.10" stroke="#c0c0c0" stroke-width="0.8" stroke-dasharray="4,2.5"/>
<line x1="397.60" y1="132.40" x2="684.00" y2="132.40" stroke="#c0c0c0" stroke-width="0.8" stroke-dasharray="4,2.5"/>
<g fill="#999" stroke="#747474" stroke-width="0.55">
<circle cx="459.5" cy="140.5" r="1.2"/>
<circle cx="486.3" cy="96.5" r="1.2"/>
<circle cx="464.4" cy="84.2" r="1.2"/>
<circle cx="499.4" cy="102.0" r="1.2"/>
<circle cx="484.1" cy="124.4" r="1.2"/>
<circle cx="494.4" cy="99.2" r="1.2"/>
<circle cx="510.3" cy="86.3" r="1.2"/>
<circle cx="467.7" cy="122.6" r="1.2"/>
<circle cx="503.0" cy="60.6" r="1.2"/>
<circle cx="486.4" cy="87.1" r="1.2"/>
<circle cx="459.7" cy="106.4" r="1.2"/>
<circle cx="501.9" cy="116.7" r="1.2"/>
<circle cx="479.5" cy="148.9" r="1.2"/>
<circle cx="505.2" cy="87.7" r="1.2"/>
<circle cx="513.8" cy="84.3" r="1.2"/>
<circle cx="454.5" cy="99.4" r="1.2"/>
<circle cx="460.0" cy="109.9" r="1.2"/>
<circle cx="492.6" cy="115.5" r="1.2"/>
<circle cx="495.8" cy="88.0" r="1.2"/>
<circle cx="485.9" cy="84.6" r="1.2"/>
<circle cx="507.9" cy="141.4" r="1.2"/>
<circle cx="499.4" cy="120.5" r="1.2"/>
<circle cx="497.2" cy="72.2" r="1.2"/>
<circle cx="481.6" cy="136.3" r="1.2"/>
<circle cx="504.2" cy="107.7" r="1.2"/>
<circle cx="502.2" cy="99.5" r="1.2"/>
<circle cx="468.1" cy="105.6" r="1.2"/>
<circle cx="471.7" cy="154.7" r="1.2"/>
<circle cx="497.4" cy="119.0" r="1.2"/>
<circle cx="503.8" cy="140.0" r="1.2"/>
<circle cx="510.2" cy="77.4" r="1.2"/>
<circle cx="474.3" cy="107.6" r="1.2"/>
<circle cx="500.9" cy="66.9" r="1.2"/>
<circle cx="482.0" cy="80.8" r="1.2"/>
<circle cx="477.7" cy="148.7" r="1.2"/>
<circle cx="479.7" cy="123.0" r="1.2"/>
<circle cx="505.7" cy="105.5" r="1.2"/>
<circle cx="484.0" cy="93.3" r="1.2"/>
<circle cx="502.6" cy="144.8" r="1.2"/>
<circle cx="454.3" cy="166.7" r="1.2"/>
<circle cx="498.2" cy="111.2" r="1.2"/>
<circle cx="511.2" cy="105.2" r="1.2"/>
<circle cx="516.4" cy="92.1" r="1.2"/>
<circle cx="502.8" cy="110.2" r="1.2"/>
<circle cx="513.4" cy="131.0" r="1.2"/>
<circle cx="492.8" cy="100.4" r="1.2"/>
<circle cx="496.0" cy="75.4" r="1.2"/>
<circle cx="512.2" cy="135.4" r="1.2"/>
<circle cx="503.9" cy="78.7" r="1.2"/>
<circle cx="514.1" cy="76.8" r="1.2"/>
<circle cx="495.9" cy="72.7" r="1.2"/>
<circle cx="515.3" cy="109.2" r="1.2"/>
<circle cx="459.5" cy="118.4" r="1.2"/>
<circle cx="492.7" cy="100.7" r="1.2"/>
<circle cx="479.5" cy="101.1" r="1.2"/>
<circle cx="459.9" cy="102.8" r="1.2"/>
<circle cx="471.5" cy="109.5" r="1.2"/>
<circle cx="495.5" cy="83.6" r="1.2"/>
<circle cx="459.8" cy="102.3" r="1.2"/>
<circle cx="487.9" cy="73.8" r="1.2"/>
<circle cx="476.7" cy="90.1" r="1.2"/>
<circle cx="495.9" cy="80.1" r="1.2"/>
<circle cx="474.6" cy="104.0" r="1.2"/>
<circle cx="471.3" cy="141.6" r="1.2"/>
<circle cx="474.3" cy="110.8" r="1.2"/>
<circle cx="511.5" cy="116.6" r="1.2"/>
<circle cx="471.3" cy="112.6" r="1.2"/>
<circle cx="486.4" cy="109.3" r="1.2"/>
<circle cx="471.7" cy="71.5" r="1.2"/>
<circle cx="499.3" cy="96.2" r="1.2"/>
<circle cx="512.6" cy="117.4" r="1.2"/>
<circle cx="471.7" cy="134.6" r="1.2"/>
<circle cx="477.5" cy="125.7" r="1.2"/>
<circle cx="474.4" cy="110.2" r="1.2"/>
<circle cx="491.0" cy="113.8" r="1.2"/>
<circle cx="459.9" cy="125.0" r="1.2"/>
<circle cx="506.1" cy="90.6" r="1.2"/>
<circle cx="507.0" cy="90.6" r="1.2"/>
<circle cx="497.7" cy="99.0" r="1.2"/>
<circle cx="489.3" cy="106.3" r="1.2"/>
<circle cx="471.2" cy="160.7" r="1.2"/>
<circle cx="479.9" cy="106.8" r="1.2"/>
<circle cx="494.4" cy="109.1" r="1.2"/>
<circle cx="494.1" cy="94.9" r="1.2"/>
<circle cx="477.2" cy="113.1" r="1.2"/>
<circle cx="491.1" cy="117.9" r="1.2"/>
<circle cx="488.2" cy="97.9" r="1.2"/>
<circle cx="515.8" cy="102.2" r="1.2"/>
<circle cx="502.9" cy="124.4" r="1.2"/>
<circle cx="477.0" cy="102.5" r="1.2"/>
<circle cx="471.6" cy="123.2" r="1.2"/>
<circle cx="474.4" cy="84.8" r="1.2"/>
<circle cx="506.7" cy="130.9" r="1.2"/>
<circle cx="512.6" cy="90.9" r="1.2"/>
<circle cx="471.3" cy="114.7" r="1.2"/>
<circle cx="486.2" cy="107.8" r="1.2"/>
<circle cx="467.8" cy="138.0" r="1.2"/>
<circle cx="497.1" cy="104.9" r="1.2"/>
<circle cx="474.9" cy="144.0" r="1.2"/>
<circle cx="482.2" cy="143.4" r="1.2"/>
<circle cx="479.9" cy="149.1" r="1.2"/>
<circle cx="504.1" cy="87.3" r="1.2"/>
<circle cx="467.8" cy="97.6" r="1.2"/>
<circle cx="489.7" cy="105.0" r="1.2"/>
<circle cx="499.5" cy="105.2" r="1.2"/>
<circle cx="479.2" cy="82.7" r="1.2"/>
<circle cx="479.3" cy="147.5" r="1.2"/>
<circle cx="454.2" cy="86.5" r="1.2"/>
<circle cx="463.9" cy="132.7" r="1.2"/>
<circle cx="471.3" cy="121.9" r="1.2"/>
<circle cx="471.0" cy="125.8" r="1.2"/>
<circle cx="492.9" cy="101.0" r="1.2"/>
<circle cx="494.5" cy="76.2" r="1.2"/>
<circle cx="483.7" cy="113.9" r="1.2"/>
<circle cx="482.1" cy="110.6" r="1.2"/>
<circle cx="514.4" cy="68.4" r="1.2"/>
<circle cx="500.9" cy="90.6" r="1.2"/>
<circle cx="510.8" cy="69.9" r="1.2"/>
<circle cx="491.0" cy="109.2" r="1.2"/>
<circle cx="482.0" cy="75.7" r="1.2"/>
<circle cx="505.7" cy="125.1" r="1.2"/>
<circle cx="495.8" cy="149.1" r="1.2"/>
<circle cx="454.5" cy="121.8" r="1.2"/>
<circle cx="514.9" cy="78.1" r="1.2"/>
<circle cx="485.9" cy="104.9" r="1.2"/>
<circle cx="495.2" cy="128.9" r="1.2"/>
<circle cx="486.3" cy="129.1" r="1.2"/>
<circle cx="489.8" cy="122.3" r="1.2"/>
<circle cx="480.2" cy="110.1" r="1.2"/>
<circle cx="479.5" cy="79.8" r="1.2"/>
<circle cx="507.3" cy="116.5" r="1.2"/>
<circle cx="501.9" cy="102.5" r="1.2"/>
<circle cx="505.2" cy="80.6" r="1.2"/>
<circle cx="475.2" cy="109.8" r="1.2"/>
<circle cx="502.7" cy="97.9" r="1.2"/>
<circle cx="504.1" cy="99.4" r="1.2"/>
<circle cx="515.8" cy="66.3" r="1.2"/>
<circle cx="505.2" cy="120.7" r="1.2"/>
<circle cx="481.9" cy="138.9" r="1.2"/>
<circle cx="487.7" cy="102.2" r="1.2"/>
<circle cx="476.9" cy="157.9" r="1.2"/>
<circle cx="454.6" cy="135.8" r="1.2"/>
<circle cx="471.3" cy="124.8" r="1.2"/>
<circle cx="495.8" cy="130.5" r="1.2"/>
<circle cx="489.8" cy="124.9" r="1.2"/>
<circle cx="480.0" cy="107.7" r="1.2"/>
<circle cx="495.7" cy="96.7" r="1.2"/>
<circle cx="486.1" cy="131.5" r="1.2"/>
<circle cx="480.0" cy="97.0" r="1.2"/>
<circle cx="487.6" cy="124.2" r="1.2"/>
<circle cx="474.1" cy="155.8" r="1.2"/>
<circle cx="486.0" cy="116.9" r="1.2"/>
<circle cx="489.6" cy="119.0" r="1.2"/>
<circle cx="467.5" cy="109.3" r="1.2"/>
<circle cx="477.1" cy="113.9" r="1.2"/>
<circle cx="510.3" cy="112.1" r="1.2"/>
<circle cx="494.2" cy="101.2" r="1.2"/>
<circle cx="479.7" cy="117.5" r="1.2"/>
<circle cx="454.5" cy="119.2" r="1.2"/>
<circle cx="474.1" cy="106.4" r="1.2"/>
<circle cx="464.3" cy="143.7" r="1.2"/>
<circle cx="514.1" cy="125.1" r="1.2"/>
<circle cx="487.9" cy="137.7" r="1.2"/>
<circle cx="459.7" cy="120.7" r="1.2"/>
<circle cx="492.9" cy="133.1" r="1.2"/>
<circle cx="492.7" cy="67.8" r="1.2"/>
<circle cx="482.0" cy="100.4" r="1.2"/>
<circle cx="494.1" cy="97.2" r="1.2"/>
<circle cx="509.8" cy="99.7" r="1.2"/>
<circle cx="471.3" cy="127.7" r="1.2"/>
<circle cx="468.1" cy="106.2" r="1.2"/>
<circle cx="497.1" cy="116.7" r="1.2"/>
<circle cx="491.8" cy="68.4" r="1.2"/>
<circle cx="505.6" cy="133.2" r="1.2"/>
<circle cx="502.1" cy="118.9" r="1.2"/>
<circle cx="509.6" cy="136.3" r="1.2"/>
<circle cx="511.5" cy="123.1" r="1.2"/>
<circle cx="500.9" cy="106.3" r="1.2"/>
<circle cx="479.7" cy="106.5" r="1.2"/>
<circle cx="477.1" cy="95.5" r="1.2"/>
<circle cx="463.9" cy="120.6" r="1.2"/>
<circle cx="467.8" cy="138.0" r="1.2"/>
<circle cx="510.7" cy="101.0" r="1.2"/>
<circle cx="454.9" cy="123.7" r="1.2"/>
<circle cx="504.0" cy="82.9" r="1.2"/>
<circle cx="492.8" cy="105.1" r="1.2"/>
<circle cx="474.6" cy="157.4" r="1.2"/>
<circle cx="459.2" cy="115.0" r="1.2"/>
<circle cx="485.9" cy="94.8" r="1.2"/>
<circle cx="504.6" cy="115.6" r="1.2"/>
<circle cx="477.2" cy="117.1" r="1.2"/>
<circle cx="459.7" cy="129.4" r="1.2"/>
<circle cx="482.0" cy="157.4" r="1.2"/>
<circle cx="505.0" cy="111.8" r="1.2"/>
<circle cx="491.5" cy="98.7" r="1.2"/>
<circle cx="511.5" cy="111.2" r="1.2"/>
<circle cx="481.6" cy="74.9" r="1.2"/>
<circle cx="485.6" cy="112.8" r="1.2"/>
<circle cx="516.0" cy="101.0" r="1.2"/>
<circle cx="500.5" cy="114.9" r="1.2"/>
<circle cx="474.5" cy="129.4" r="1.2"/>
<circle cx="513.2" cy="99.0" r="1.2"/>
<circle cx="474.1" cy="115.9" r="1.2"/>
<circle cx="448.2" cy="158.7" r="1.2"/>
<circle cx="491.1" cy="88.8" r="1.2"/>
<circle cx="477.1" cy="65.4" r="1.2"/>
<circle cx="486.1" cy="103.0" r="1.2"/>
<circle cx="474.6" cy="141.1" r="1.2"/>
<circle cx="498.5" cy="108.5" r="1.2"/>
<circle cx="487.8" cy="110.4" r="1.2"/>
<circle cx="479.7" cy="62.9" r="1.2"/>
<circle cx="493.0" cy="117.5" r="1.2"/>
<circle cx="497.2" cy="138.5" r="1.2"/>
<circle cx="507.7" cy="48.7" r="1.2"/>
<circle cx="491.0" cy="101.6" r="1.2"/>
<circle cx="459.9" cy="118.5" r="1.2"/>
<circle cx="492.6" cy="135.0" r="1.2"/>
<circle cx="459.7" cy="93.2" r="1.2"/>
<circle cx="486.2" cy="98.8" r="1.2"/>
<circle cx="502.5" cy="139.0" r="1.2"/>
<circle cx="471.5" cy="159.0" r="1.2"/>
<circle cx="476.7" cy="147.4" r="1.2"/>
<circle cx="508.7" cy="121.6" r="1.2"/>
<circle cx="473.9" cy="110.4" r="1.2"/>
<circle cx="467.7" cy="88.1" r="1.2"/>
<circle cx="500.7" cy="107.6" r="1.2"/>
<circle cx="489.7" cy="135.5" r="1.2"/>
<circle cx="479.9" cy="107.6" r="1.2"/>
<circle cx="486.6" cy="70.7" r="1.2"/>
<circle cx="479.8" cy="93.7" r="1.2"/>
<circle cx="474.0" cy="124.1" r="1.2"/>
<circle cx="491.2" cy="102.9" r="1.2"/>
<circle cx="454.3" cy="126.1" r="1.2"/>
<circle cx="491.2" cy="102.8" r="1.2"/>
<circle cx="474.6" cy="62.2" r="1.2"/>
<circle cx="468.0" cy="128.5" r="1.2"/>
<circle cx="495.4" cy="79.6" r="1.2"/>
<circle cx="479.5" cy="109.6" r="1.2"/>
<circle cx="474.3" cy="114.1" r="1.2"/>
<circle cx="506.1" cy="104.8" r="1.2"/>
<circle cx="481.6" cy="99.7" r="1.2"/>
<circle cx="464.1" cy="101.6" r="1.2"/>
<circle cx="467.9" cy="131.0" r="1.2"/>
<circle cx="477.1" cy="78.4" r="1.2"/>
<circle cx="486.2" cy="132.4" r="1.2"/>
<circle cx="500.9" cy="114.1" r="1.2"/>
<circle cx="501.1" cy="103.3" r="1.2"/>
<circle cx="477.0" cy="127.9" r="1.2"/>
<circle cx="474.8" cy="90.1" r="1.2"/>
<circle cx="512.4" cy="101.9" r="1.2"/>
<circle cx="484.1" cy="101.8" r="1.2"/>
<circle cx="477.7" cy="151.4" r="1.2"/>
<circle cx="499.0" cy="82.8" r="1.2"/>
<circle cx="471.2" cy="97.2" r="1.2"/>
<circle cx="459.5" cy="140.6" r="1.2"/>
<circle cx="464.1" cy="100.2" r="1.2"/>
<circle cx="454.4" cy="123.6" r="1.2"/>
<circle cx="497.2" cy="118.6" r="1.2"/>
<circle cx="515.0" cy="136.3" r="1.2"/>
<circle cx="482.0" cy="139.8" r="1.2"/>
<circle cx="505.1" cy="116.9" r="1.2"/>
<circle cx="491.5" cy="115.1" r="1.2"/>
<circle cx="488.1" cy="111.9" r="1.2"/>
<circle cx="506.5" cy="115.6" r="1.2"/>
<circle cx="459.7" cy="117.1" r="1.2"/>
<circle cx="474.7" cy="125.2" r="1.2"/>
<circle cx="460.1" cy="105.0" r="1.2"/>
<circle cx="454.3" cy="126.1" r="1.2"/>
<circle cx="484.5" cy="99.7" r="1.2"/>
<circle cx="491.5" cy="125.3" r="1.2"/>
<circle cx="509.6" cy="106.3" r="1.2"/>
<circle cx="471.6" cy="92.9" r="1.2"/>
<circle cx="491.2" cy="93.2" r="1.2"/>
<circle cx="489.3" cy="109.5" r="1.2"/>
<circle cx="500.5" cy="95.0" r="1.2"/>
<circle cx="510.7" cy="111.1" r="1.2"/>
<circle cx="498.4" cy="112.9" r="1.2"/>
<circle cx="482.6" cy="125.8" r="1.2"/>
<circle cx="494.2" cy="135.5" r="1.2"/>
<circle cx="507.7" cy="108.5" r="1.2"/>
<circle cx="464.2" cy="126.8" r="1.2"/>
<circle cx="496.6" cy="88.7" r="1.2"/>
<circle cx="477.3" cy="90.6" r="1.2"/>
<circle cx="491.7" cy="73.2" r="1.2"/>
<circle cx="490.0" cy="96.0" r="1.2"/>
<circle cx="496.9" cy="120.1" r="1.2"/>
<circle cx="479.7" cy="114.2" r="1.2"/>
<circle cx="471.5" cy="117.5" r="1.2"/>
<circle cx="464.6" cy="97.6" r="1.2"/>
<circle cx="479.6" cy="112.0" r="1.2"/>
<circle cx="515.8" cy="90.1" r="1.2"/>
<circle cx="514.1" cy="87.9" r="1.2"/>
<circle cx="513.8" cy="119.4" r="1.2"/>
<circle cx="496.1" cy="74.0" r="1.2"/>
<circle cx="479.6" cy="141.2" r="1.2"/>
<circle cx="499.7" cy="74.8" r="1.2"/>
<circle cx="486.1" cy="96.6" r="1.2"/>
<circle cx="459.8" cy="83.0" r="1.2"/>
<circle cx="459.8" cy="118.7" r="1.2"/>
<circle cx="471.5" cy="78.4" r="1.2"/>
<circle cx="447.5" cy="151.4" r="1.2"/>
<circle cx="487.5" cy="91.5" r="1.2"/>
<circle cx="483.9" cy="105.2" r="1.2"/>
<circle cx="511.9" cy="98.2" r="1.2"/>
<circle cx="479.7" cy="79.3" r="1.2"/>
<circle cx="471.8" cy="116.7" r="1.2"/>
<circle cx="504.3" cy="90.7" r="1.2"/>
<circle cx="474.4" cy="117.2" r="1.2"/>
<circle cx="483.9" cy="100.4" r="1.2"/>
<circle cx="500.9" cy="88.7" r="1.2"/>
<circle cx="500.7" cy="114.1" r="1.2"/>
<circle cx="464.1" cy="95.5" r="1.2"/>
<circle cx="454.5" cy="108.0" r="1.2"/>
<circle cx="467.2" cy="118.6" r="1.2"/>
<circle cx="471.6" cy="105.7" r="1.2"/>
<circle cx="508.6" cy="119.8" r="1.2"/>
<circle cx="487.6" cy="90.3" r="1.2"/>
<circle cx="508.0" cy="78.1" r="1.2"/>
<circle cx="486.1" cy="79.4" r="1.2"/>
<circle cx="493.0" cy="106.2" r="1.2"/>
<circle cx="474.2" cy="146.8" r="1.2"/>
<circle cx="485.9" cy="85.3" r="1.2"/>
<circle cx="479.7" cy="132.6" r="1.2"/>
<circle cx="512.8" cy="73.7" r="1.2"/>
<circle cx="511.3" cy="110.7" r="1.2"/>
<circle cx="479.3" cy="101.8" r="1.2"/>
<circle cx="506.1" cy="97.7" r="1.2"/>
<circle cx="474.7" cy="89.0" r="1.2"/>
<circle cx="488.5" cy="94.9" r="1.2"/>
<circle cx="512.8" cy="103.6" r="1.2"/>
<circle cx="512.9" cy="67.6" r="1.2"/>
<circle cx="474.3" cy="124.7" r="1.2"/>
<circle cx="498.1" cy="107.0" r="1.2"/>
<circle cx="471.5" cy="90.4" r="1.2"/>
<circle cx="507.7" cy="76.4" r="1.2"/>
<circle cx="497.0" cy="114.8" r="1.2"/>
<circle cx="507.1" cy="93.2" r="1.2"/>
<circle cx="511.5" cy="87.4" r="1.2"/>
<circle cx="489.8" cy="132.6" r="1.2"/>
<circle cx="459.7" cy="112.9" r="1.2"/>
<circle cx="509.2" cy="93.2" r="1.2"/>
<circle cx="515.0" cy="118.7" r="1.2"/>
<circle cx="511.0" cy="123.0" r="1.2"/>
<circle cx="479.9" cy="90.7" r="1.2"/>
<circle cx="483.9" cy="72.7" r="1.2"/>
<circle cx="506.0" cy="91.7" r="1.2"/>
<circle cx="495.9" cy="132.6" r="1.2"/>
<circle cx="493.9" cy="111.3" r="1.2"/>
<circle cx="490.9" cy="108.4" r="1.2"/>
<circle cx="471.0" cy="103.0" r="1.2"/>
<circle cx="474.6" cy="148.0" r="1.2"/>
<circle cx="502.9" cy="87.8" r="1.2"/>
<circle cx="505.2" cy="133.6" r="1.2"/>
<circle cx="479.7" cy="110.8" r="1.2"/>
<circle cx="481.6" cy="121.8" r="1.2"/>
<circle cx="504.4" cy="119.1" r="1.2"/>
<circle cx="513.5" cy="121.3" r="1.2"/>
<circle cx="494.6" cy="111.9" r="1.2"/>
<circle cx="459.6" cy="111.7" r="1.2"/>
<circle cx="500.8" cy="67.8" r="1.2"/>
<circle cx="467.8" cy="109.4" r="1.2"/>
<circle cx="493.0" cy="144.3" r="1.2"/>
<circle cx="471.4" cy="123.0" r="1.2"/>
<circle cx="468.4" cy="165.1" r="1.2"/>
<circle cx="477.3" cy="113.3" r="1.2"/>
<circle cx="515.0" cy="129.8" r="1.2"/>
<circle cx="464.4" cy="113.4" r="1.2"/>
<circle cx="505.5" cy="90.7" r="1.2"/>
<circle cx="515.7" cy="101.2" r="1.2"/>
<circle cx="512.1" cy="113.7" r="1.2"/>
<circle cx="515.3" cy="93.2" r="1.2"/>
<circle cx="463.9" cy="141.7" r="1.2"/>
<circle cx="513.7" cy="105.3" r="1.2"/>
<circle cx="509.6" cy="128.2" r="1.2"/>
<circle cx="464.1" cy="144.4" r="1.2"/>
<circle cx="506.1" cy="111.7" r="1.2"/>
<circle cx="489.5" cy="80.9" r="1.2"/>
<circle cx="476.7" cy="104.4" r="1.2"/>
<circle cx="508.3" cy="100.4" r="1.2"/>
<circle cx="500.6" cy="142.6" r="1.2"/>
<circle cx="501.3" cy="99.3" r="1.2"/>
<circle cx="509.7" cy="127.2" r="1.2"/>
<circle cx="513.4" cy="75.3" r="1.2"/>
<circle cx="501.7" cy="103.7" r="1.2"/>
<circle cx="474.4" cy="124.4" r="1.2"/>
<circle cx="494.4" cy="90.3" r="1.2"/>
<circle cx="508.7" cy="107.4" r="1.2"/>
<circle cx="474.5" cy="89.8" r="1.2"/>
<circle cx="479.2" cy="103.4" r="1.2"/>
<circle cx="447.8" cy="123.8" r="1.2"/>
<circle cx="479.8" cy="73.8" r="1.2"/>
<circle cx="454.2" cy="85.6" r="1.2"/>
<circle cx="516.6" cy="122.4" r="1.2"/>
<circle cx="484.3" cy="126.4" r="1.2"/>
<circle cx="477.1" cy="82.7" r="1.2"/>
<circle cx="485.5" cy="88.8" r="1.2"/>
<circle cx="495.6" cy="136.1" r="1.2"/>
<circle cx="483.7" cy="118.6" r="1.2"/>
<circle cx="511.5" cy="113.6" r="1.2"/>
<circle cx="508.9" cy="87.1" r="1.2"/>
<circle cx="515.4" cy="124.8" r="1.2"/>
<circle cx="476.9" cy="97.9" r="1.2"/>
<circle cx="474.3" cy="91.1" r="1.2"/>
<circle cx="502.0" cy="95.0" r="1.2"/>
<circle cx="484.5" cy="97.8" r="1.2"/>
<circle cx="479.8" cy="55.7" r="1.2"/>
<circle cx="500.8" cy="104.0" r="1.2"/>
<circle cx="477.3" cy="101.3" r="1.2"/>
<circle cx="498.4" cy="135.8" r="1.2"/>
<circle cx="494.6" cy="56.6" r="1.2"/>
<circle cx="484.1" cy="85.5" r="1.2"/>
<circle cx="479.8" cy="62.4" r="1.2"/>
<circle cx="474.2" cy="118.3" r="1.2"/>
<circle cx="454.9" cy="105.0" r="1.2"/>
<circle cx="459.5" cy="129.0" r="1.2"/>
<circle cx="459.9" cy="165.9" r="1.2"/>
<circle cx="509.5" cy="128.2" r="1.2"/>
<circle cx="502.8" cy="129.4" r="1.2"/>
<circle cx="454.3" cy="98.9" r="1.2"/>
<circle cx="471.2" cy="109.1" r="1.2"/>
<circle cx="471.5" cy="121.2" r="1.2"/>
<circle cx="506.7" cy="91.1" r="1.2"/>
<circle cx="467.8" cy="113.3" r="1.2"/>
<circle cx="464.0" cy="99.0" r="1.2"/>
<circle cx="482.2" cy="131.8" r="1.2"/>
<circle cx="499.6" cy="120.1" r="1.2"/>
<circle cx="495.6" cy="92.5" r="1.2"/>
<circle cx="506.2" cy="113.4" r="1.2"/>
<circle cx="509.8" cy="55.2" r="1.2"/>
<circle cx="477.2" cy="96.0" r="1.2"/>
<circle cx="503.4" cy="107.9" r="1.2"/>
<circle cx="514.9" cy="121.0" r="1.2"/>
<circle cx="500.6" cy="74.5" r="1.2"/>
<circle cx="508.0" cy="133.8" r="1.2"/>
<circle cx="509.2" cy="83.6" r="1.2"/>
<circle cx="459.1" cy="66.8" r="1.2"/>
<circle cx="505.0" cy="110.9" r="1.2"/>
<circle cx="474.2" cy="104.6" r="1.2"/>
<circle cx="471.4" cy="112.6" r="1.2"/>
<circle cx="463.9" cy="110.6" r="1.2"/>
<circle cx="487.7" cy="104.7" r="1.2"/>
<circle cx="494.3" cy="127.6" r="1.2"/>
<circle cx="515.2" cy="86.4" r="1.2"/>
<circle cx="513.2" cy="106.2" r="1.2"/>
<circle cx="474.3" cy="109.4" r="1.2"/>
<circle cx="501.2" cy="101.7" r="1.2"/>
<circle cx="496.9" cy="111.9" r="1.2"/>
<circle cx="454.4" cy="100.1" r="1.2"/>
<circle cx="512.3" cy="120.8" r="1.2"/>
<circle cx="477.1" cy="131.4" r="1.2"/>
<circle cx="474.4" cy="83.3" r="1.2"/>
<circle cx="515.3" cy="76.1" r="1.2"/>
<circle cx="514.3" cy="122.5" r="1.2"/>
<circle cx="501.8" cy="102.8" r="1.2"/>
<circle cx="477.2" cy="124.6" r="1.2"/>
<circle cx="471.1" cy="119.9" r="1.2"/>
<circle cx="447.7" cy="124.4" r="1.2"/>
<circle cx="491.2" cy="80.6" r="1.2"/>
<circle cx="509.5" cy="112.2" r="1.2"/>
<circle cx="484.1" cy="111.1" r="1.2"/>
<circle cx="514.1" cy="108.3" r="1.2"/>
<circle cx="454.4" cy="92.9" r="1.2"/>
<circle cx="490.8" cy="152.3" r="1.2"/>
<circle cx="474.1" cy="139.1" r="1.2"/>
<circle cx="476.9" cy="150.7" r="1.2"/>
<circle cx="513.1" cy="98.6" r="1.2"/>
<circle cx="499.7" cy="103.7" r="1.2"/>
<circle cx="503.5" cy="82.4" r="1.2"/>
<circle cx="471.5" cy="88.9" r="1.2"/>
<circle cx="459.4" cy="120.1" r="1.2"/>
<circle cx="474.7" cy="104.4" r="1.2"/>
<circle cx="487.8" cy="104.1" r="1.2"/>
<circle cx="474.4" cy="100.8" r="1.2"/>
<circle cx="493.9" cy="123.2" r="1.2"/>
<circle cx="487.8" cy="99.0" r="1.2"/>
<circle cx="515.6" cy="79.3" r="1.2"/>
<circle cx="505.9" cy="105.5" r="1.2"/>
<circle cx="486.4" cy="72.0" r="1.2"/>
<circle cx="480.0" cy="113.0" r="1.2"/>
<circle cx="471.5" cy="142.5" r="1.2"/>
<circle cx="506.9" cy="119.4" r="1.2"/>
<circle cx="491.5" cy="120.6" r="1.2"/>
<circle cx="508.2" cy="117.1" r="1.2"/>
<circle cx="464.1" cy="166.8" r="1.2"/>
<circle cx="501.2" cy="138.0" r="1.2"/>
<circle cx="467.9" cy="106.1" r="1.2"/>
<circle cx="473.9" cy="85.0" r="1.2"/>
<circle cx="488.3" cy="102.3" r="1.2"/>
<circle cx="459.9" cy="158.3" r="1.2"/>
<circle cx="495.8" cy="93.4" r="1.2"/>
<circle cx="494.5" cy="77.7" r="1.2"/>
<circle cx="471.2" cy="129.9" r="1.2"/>
<circle cx="471.8" cy="116.9" r="1.2"/>
<circle cx="507.2" cy="109.3" r="1.2"/>
<circle cx="513.0" cy="108.2" r="1.2"/>
<circle cx="510.8" cy="93.3" r="1.2"/>
<circle cx="497.0" cy="66.9" r="1.2"/>
<circle cx="498.4" cy="133.6" r="1.2"/>
<circle cx="511.4" cy="105.8" r="1.2"/>
<circle cx="495.7" cy="85.5" r="1.2"/>
<circle cx="492.9" cy="108.5" r="1.2"/>
<circle cx="467.9" cy="88.8" r="1.2"/>
<circle cx="468.5" cy="86.6" r="1.2"/>
<circle cx="464.5" cy="119.3" r="1.2"/>
<circle cx="474.4" cy="99.6" r="1.2"/>
<circle cx="498.7" cy="61.3" r="1.2"/>
<circle cx="499.8" cy="113.4" r="1.2"/>
<circle cx="476.8" cy="126.2" r="1.2"/>
<circle cx="484.1" cy="85.6" r="1.2"/>
<circle cx="459.8" cy="77.1" r="1.2"/>
<circle cx="468.0" cy="106.3" r="1.2"/>
<circle cx="491.2" cy="103.8" r="1.2"/>
<circle cx="463.7" cy="118.5" r="1.2"/>
<circle cx="501.6" cy="146.5" r="1.2"/>
<circle cx="484.1" cy="123.4" r="1.2"/>
<circle cx="468.3" cy="116.9" r="1.2"/>
<circle cx="495.2" cy="51.3" r="1.2"/>
<circle cx="499.9" cy="73.6" r="1.2"/>
<circle cx="477.2" cy="124.2" r="1.2"/>
<circle cx="491.3" cy="152.3" r="1.2"/>
<circle cx="499.3" cy="71.0" r="1.2"/>
<circle cx="464.2" cy="127.7" r="1.2"/>
<circle cx="512.1" cy="88.9" r="1.2"/>
<circle cx="482.1" cy="122.5" r="1.2"/>
<circle cx="495.0" cy="121.1" r="1.2"/>
<circle cx="479.7" cy="83.0" r="1.2"/>
<circle cx="471.2" cy="131.1" r="1.2"/>
<circle cx="474.3" cy="128.9" r="1.2"/>
<circle cx="504.7" cy="96.3" r="1.2"/>
<circle cx="504.1" cy="102.5" r="1.2"/>
<circle cx="460.0" cy="137.1" r="1.2"/>
<circle cx="479.7" cy="100.6" r="1.2"/>
<circle cx="477.0" cy="124.9" r="1.2"/>
<circle cx="476.8" cy="111.2" r="1.2"/>
<circle cx="483.8" cy="102.6" r="1.2"/>
<circle cx="484.3" cy="111.3" r="1.2"/>
<circle cx="454.3" cy="123.1" r="1.2"/>
<circle cx="499.6" cy="124.6" r="1.2"/>
<circle cx="468.0" cy="139.5" r="1.2"/>
<circle cx="509.2" cy="84.0" r="1.2"/>
<circle cx="459.8" cy="134.2" r="1.2"/>
<circle cx="512.6" cy="130.4" r="1.2"/>
<circle cx="464.3" cy="143.3" r="1.2"/>
<circle cx="467.9" cy="163.1" r="1.2"/>
<circle cx="506.0" cy="112.0" r="1.2"/>
<circle cx="477.2" cy="131.2" r="1.2"/>
<circle cx="501.7" cy="120.2" r="1.2"/>
<circle cx="515.3" cy="48.1" r="1.2"/>
<circle cx="510.3" cy="131.3" r="1.2"/>
<circle cx="471.7" cy="105.5" r="1.2"/>
<circle cx="471.5" cy="119.6" r="1.2"/>
<circle cx="482.2" cy="108.5" r="1.2"/>
<circle cx="481.7" cy="125.0" r="1.2"/>
<circle cx="474.5" cy="108.3" r="1.2"/>
<circle cx="460.0" cy="116.5" r="1.2"/>
<circle cx="509.7" cy="91.5" r="1.2"/>
<circle cx="502.1" cy="134.7" r="1.2"/>
<circle cx="474.2" cy="95.0" r="1.2"/>
<circle cx="483.8" cy="114.1" r="1.2"/>
<circle cx="448.0" cy="117.0" r="1.2"/>
<circle cx="504.0" cy="107.8" r="1.2"/>
<circle cx="468.2" cy="123.0" r="1.2"/>
<circle cx="488.1" cy="100.4" r="1.2"/>
<circle cx="516.1" cy="112.5" r="1.2"/>
<circle cx="484.3" cy="129.0" r="1.2"/>
<circle cx="484.1" cy="145.1" r="1.2"/>
<circle cx="474.0" cy="136.6" r="1.2"/>
<circle cx="477.2" cy="98.3" r="1.2"/>
<circle cx="491.3" cy="99.1" r="1.2"/>
<circle cx="498.4" cy="102.8" r="1.2"/>
<circle cx="448.0" cy="122.9" r="1.2"/>
<circle cx="459.4" cy="65.4" r="1.2"/>
<circle cx="511.8" cy="139.2" r="1.2"/>
<circle cx="508.9" cy="121.2" r="1.2"/>
<circle cx="498.7" cy="83.7" r="1.2"/>
<circle cx="515.9" cy="109.3" r="1.2"/>
<circle cx="479.8" cy="70.4" r="1.2"/>
<circle cx="474.2" cy="83.5" r="1.2"/>
<circle cx="491.5" cy="89.1" r="1.2"/>
<circle cx="471.4" cy="140.3" r="1.2"/>
<circle cx="506.8" cy="91.7" r="1.2"/>
<circle cx="479.9" cy="91.1" r="1.2"/>
<circle cx="494.3" cy="101.5" r="1.2"/>
<circle cx="502.0" cy="111.0" r="1.2"/>
<circle cx="447.7" cy="92.9" r="1.2"/>
<circle cx="474.5" cy="108.3" r="1.2"/>
<circle cx="503.7" cy="125.9" r="1.2"/>
<circle cx="506.6" cy="110.9" r="1.2"/>
<circle cx="492.8" cy="104.1" r="1.2"/>
<circle cx="512.1" cy="129.9" r="1.2"/>
<circle cx="508.6" cy="125.1" r="1.2"/>
<circle cx="474.2" cy="87.1" r="1.2"/>
<circle cx="467.7" cy="108.1" r="1.2"/>
<circle cx="471.8" cy="134.3" r="1.2"/>
<circle cx="482.2" cy="113.7" r="1.2"/>
<circle cx="491.1" cy="141.3" r="1.2"/>
<circle cx="511.5" cy="124.9" r="1.2"/>
<circle cx="508.3" cy="121.8" r="1.2"/>
<circle cx="464.0" cy="99.4" r="1.2"/>
<circle cx="509.0" cy="105.0" r="1.2"/>
<circle cx="514.3" cy="57.3" r="1.2"/>
<circle cx="513.2" cy="70.5" r="1.2"/>
<circle cx="477.2" cy="109.9" r="1.2"/>
<circle cx="495.6" cy="131.8" r="1.2"/>
<circle cx="474.3" cy="103.1" r="1.2"/>
<circle cx="471.2" cy="124.3" r="1.2"/>
<circle cx="510.4" cy="96.4" r="1.2"/>
<circle cx="509.6" cy="108.5" r="1.2"/>
<circle cx="459.5" cy="101.9" r="1.2"/>
<circle cx="468.0" cy="115.8" r="1.2"/>
<circle cx="471.6" cy="105.9" r="1.2"/>
<circle cx="489.3" cy="102.7" r="1.2"/>
<circle cx="464.4" cy="93.2" r="1.2"/>
<circle cx="497.3" cy="79.9" r="1.2"/>
<circle cx="477.1" cy="147.0" r="1.2"/>
<circle cx="468.2" cy="96.1" r="1.2"/>
<circle cx="477.2" cy="113.8" r="1.2"/>
<circle cx="468.1" cy="137.9" r="1.2"/>
<circle cx="498.6" cy="111.9" r="1.2"/>
<circle cx="506.4" cy="132.0" r="1.2"/>
<circle cx="474.6" cy="68.1" r="1.2"/>
<circle cx="495.7" cy="118.8" r="1.2"/>
<circle cx="448.2" cy="144.1" r="1.2"/>
<circle cx="474.5" cy="136.3" r="1.2"/>
<circle cx="474.6" cy="136.0" r="1.2"/>
<circle cx="477.1" cy="141.7" r="1.2"/>
<circle cx="490.0" cy="124.4" r="1.2"/>
<circle cx="500.8" cy="115.0" r="1.2"/>
<circle cx="509.4" cy="79.1" r="1.2"/>
<circle cx="484.1" cy="137.3" r="1.2"/>
<circle cx="480.1" cy="133.6" r="1.2"/>
<circle cx="468.1" cy="110.3" r="1.2"/>
<circle cx="473.6" cy="119.5" r="1.2"/>
<circle cx="494.3" cy="79.7" r="1.2"/>
<circle cx="512.8" cy="128.4" r="1.2"/>
<circle cx="484.2" cy="82.8" r="1.2"/>
<circle cx="514.4" cy="95.9" r="1.2"/>
<circle cx="467.8" cy="133.8" r="1.2"/>
<circle cx="454.1" cy="116.3" r="1.2"/>
<circle cx="479.8" cy="110.6" r="1.2"/>
<circle cx="506.0" cy="111.0" r="1.2"/>
<circle cx="484.5" cy="108.5" r="1.2"/>
<circle cx="491.8" cy="140.0" r="1.2"/>
<circle cx="482.6" cy="95.9" r="1.2"/>
<circle cx="479.8" cy="119.9" r="1.2"/>
<circle cx="464.3" cy="117.5" r="1.2"/>
<circle cx="474.2" cy="132.6" r="1.2"/>
<circle cx="505.2" cy="110.1" r="1.2"/>
<circle cx="500.7" cy="136.4" r="1.2"/>
<circle cx="488.0" cy="124.0" r="1.2"/>
<circle cx="510.9" cy="86.7" r="1.2"/>
<circle cx="499.5" cy="130.2" r="1.2"/>
<circle cx="464.5" cy="137.8" r="1.2"/>
<circle cx="493.1" cy="71.5" r="1.2"/>
<circle cx="481.7" cy="100.1" r="1.2"/>
<circle cx="479.8" cy="133.7" r="1.2"/>
<circle cx="464.0" cy="82.2" r="1.2"/>
<circle cx="486.5" cy="104.5" r="1.2"/>
<circle cx="479.4" cy="73.5" r="1.2"/>
<circle cx="486.3" cy="104.8" r="1.2"/>
<circle cx="510.5" cy="116.6" r="1.2"/>
<circle cx="494.5" cy="121.2" r="1.2"/>
<circle cx="502.6" cy="116.3" r="1.2"/>
<circle cx="505.5" cy="135.3" r="1.2"/>
<circle cx="459.8" cy="147.0" r="1.2"/>
<circle cx="515.1" cy="99.5" r="1.2"/>
<circle cx="514.7" cy="77.0" r="1.2"/>
<circle cx="477.2" cy="125.0" r="1.2"/>
<circle cx="491.4" cy="73.6" r="1.2"/>
<circle cx="474.5" cy="117.6" r="1.2"/>
<circle cx="479.1" cy="133.7" r="1.2"/>
<circle cx="498.3" cy="99.0" r="1.2"/>
<circle cx="499.3" cy="99.4" r="1.2"/>
<circle cx="512.2" cy="127.0" r="1.2"/>
<circle cx="468.2" cy="111.5" r="1.2"/>
<circle cx="482.0" cy="128.2" r="1.2"/>
<circle cx="486.3" cy="96.8" r="1.2"/>
<circle cx="503.1" cy="109.7" r="1.2"/>
<circle cx="448.0" cy="122.1" r="1.2"/>
<circle cx="474.5" cy="116.0" r="1.2"/>
<circle cx="504.0" cy="138.4" r="1.2"/>
<circle cx="506.0" cy="131.1" r="1.2"/>
<circle cx="474.4" cy="120.9" r="1.2"/>
<circle cx="481.9" cy="119.6" r="1.2"/>
<circle cx="504.4" cy="140.6" r="1.2"/>
<circle cx="502.5" cy="140.4" r="1.2"/>
<circle cx="482.1" cy="106.8" r="1.2"/>
<circle cx="481.8" cy="116.6" r="1.2"/>
<circle cx="471.8" cy="142.4" r="1.2"/>
<circle cx="511.6" cy="56.5" r="1.2"/>
<circle cx="498.3" cy="134.2" r="1.2"/>
<circle cx="508.0" cy="119.4" r="1.2"/>
<circle cx="467.9" cy="136.8" r="1.2"/>
<circle cx="477.4" cy="151.2" r="1.2"/>
<circle cx="505.8" cy="116.4" r="1.2"/>
<circle cx="482.2" cy="114.1" r="1.2"/>
<circle cx="483.9" cy="105.8" r="1.2"/>
<circle cx="459.8" cy="115.4" r="1.2"/>
<circle cx="501.8" cy="100.3" r="1.2"/>
<circle cx="500.5" cy="94.6" r="1.2"/>
<circle cx="474.2" cy="112.3" r="1.2"/>
<circle cx="485.9" cy="111.1" r="1.2"/>
<circle cx="497.0" cy="94.9" r="1.2"/>
<circle cx="481.7" cy="86.5" r="1.2"/>
<circle cx="496.9" cy="86.9" r="1.2"/>
<circle cx="459.4" cy="172.8" r="1.2"/>
<circle cx="477.2" cy="94.5" r="1.2"/>
<circle cx="489.6" cy="100.4" r="1.2"/>
<circle cx="496.8" cy="102.1" r="1.2"/>
<circle cx="506.4" cy="69.2" r="1.2"/>
<circle cx="499.5" cy="98.8" r="1.2"/>
<circle cx="497.3" cy="123.8" r="1.2"/>
<circle cx="459.5" cy="108.9" r="1.2"/>
<circle cx="479.9" cy="96.1" r="1.2"/>
<circle cx="488.0" cy="98.1" r="1.2"/>
<circle cx="495.8" cy="103.3" r="1.2"/>
<circle cx="514.2" cy="111.2" r="1.2"/>
<circle cx="501.5" cy="79.6" r="1.2"/>
<circle cx="482.2" cy="108.6" r="1.2"/>
<circle cx="479.6" cy="60.4" r="1.2"/>
<circle cx="464.5" cy="84.1" r="1.2"/>
<circle cx="448.5" cy="96.7" r="1.2"/>
<circle cx="498.6" cy="143.8" r="1.2"/>
<circle cx="505.2" cy="107.3" r="1.2"/>
<circle cx="511.9" cy="106.5" r="1.2"/>
<circle cx="479.8" cy="151.7" r="1.2"/>
<circle cx="454.1" cy="120.9" r="1.2"/>
<circle cx="510.2" cy="106.7" r="1.2"/>
<circle cx="484.2" cy="129.1" r="1.2"/>
<circle cx="481.5" cy="93.0" r="1.2"/>
<circle cx="454.6" cy="118.2" r="1.2"/>
<circle cx="506.9" cy="133.7" r="1.2"/>
<circle cx="482.2" cy="103.9" r="1.2"/>
<circle cx="494.0" cy="134.1" r="1.2"/>
<circle cx="507.8" cy="119.8" r="1.2"/>
<circle cx="503.0" cy="107.9" r="1.2"/>
<circle cx="513.2" cy="89.1" r="1.2"/>
<circle cx="474.5" cy="105.7" r="1.2"/>
<circle cx="512.1" cy="96.2" r="1.2"/>
<circle cx="463.9" cy="107.7" r="1.2"/>
<circle cx="500.1" cy="126.7" r="1.2"/>
<circle cx="503.3" cy="72.2" r="1.2"/>
<circle cx="489.3" cy="91.8" r="1.2"/>
<circle cx="474.3" cy="71.5" r="1.2"/>
<circle cx="488.1" cy="111.2" r="1.2"/>
<circle cx="480.0" cy="127.3" r="1.2"/>
<circle cx="507.1" cy="79.3" r="1.2"/>
<circle cx="471.6" cy="133.3" r="1.2"/>
<circle cx="474.6" cy="87.6" r="1.2"/>
<circle cx="499.5" cy="87.3" r="1.2"/>
<circle cx="479.9" cy="89.0" r="1.2"/>
<circle cx="508.1" cy="77.9" r="1.2"/>
<circle cx="493.0" cy="147.4" r="1.2"/>
<circle cx="471.2" cy="144.0" r="1.2"/>
<circle cx="474.4" cy="117.1" r="1.2"/>
<circle cx="499.7" cy="115.9" r="1.2"/>
<circle cx="454.5" cy="107.5" r="1.2"/>
<circle cx="479.7" cy="112.2" r="1.2"/>
<circle cx="474.1" cy="99.7" r="1.2"/>
<circle cx="514.3" cy="83.5" r="1.2"/>
<circle cx="464.4" cy="170.0" r="1.2"/>
<circle cx="501.4" cy="84.6" r="1.2"/>
<circle cx="467.8" cy="144.0" r="1.2"/>
<circle cx="474.2" cy="143.6" r="1.2"/>
<circle cx="510.7" cy="110.1" r="1.2"/>
<circle cx="471.6" cy="114.8" r="1.2"/>
<circle cx="492.8" cy="105.0" r="1.2"/>
<circle cx="488.1" cy="125.9" r="1.2"/>
<circle cx="494.6" cy="81.7" r="1.2"/>
<circle cx="495.6" cy="64.9" r="1.2"/>
<circle cx="471.2" cy="162.5" r="1.2"/>
<circle cx="499.9" cy="106.4" r="1.2"/>
<circle cx="513.4" cy="94.9" r="1.2"/>
<circle cx="508.0" cy="77.3" r="1.2"/>
<circle cx="454.4" cy="114.0" r="1.2"/>
<circle cx="499.7" cy="100.5" r="1.2"/>
<circle cx="459.1" cy="117.4" r="1.2"/>
<circle cx="489.8" cy="131.5" r="1.2"/>
<circle cx="502.2" cy="73.6" r="1.2"/>
<circle cx="464.6" cy="91.8" r="1.2"/>
<circle cx="508.2" cy="92.1" r="1.2"/>
<circle cx="510.5" cy="83.6" r="1.2"/>
<circle cx="492.5" cy="130.3" r="1.2"/>
<circle cx="474.1" cy="103.9" r="1.2"/>
<circle cx="471.5" cy="116.8" r="1.2"/>
<circle cx="477.4" cy="129.2" r="1.2"/>
<circle cx="471.1" cy="112.7" r="1.2"/>
<circle cx="513.8" cy="92.1" r="1.2"/>
<circle cx="474.5" cy="124.4" r="1.2"/>
<circle cx="497.1" cy="134.1" r="1.2"/>
<circle cx="474.1" cy="106.4" r="1.2"/>
<circle cx="454.8" cy="115.0" r="1.2"/>
<circle cx="474.1" cy="127.5" r="1.2"/>
<circle cx="492.7" cy="141.5" r="1.2"/>
<circle cx="502.6" cy="132.1" r="1.2"/>
<circle cx="486.2" cy="108.1" r="1.2"/>
<circle cx="468.0" cy="136.2" r="1.2"/>
<circle cx="464.2" cy="93.5" r="1.2"/>
<circle cx="493.1" cy="104.4" r="1.2"/>
<circle cx="474.6" cy="127.3" r="1.2"/>
<circle cx="489.5" cy="66.7" r="1.2"/>
<circle cx="471.2" cy="155.5" r="1.2"/>
<circle cx="486.1" cy="132.5" r="1.2"/>
<circle cx="482.1" cy="83.0" r="1.2"/>
<circle cx="459.8" cy="75.9" r="1.2"/>
<circle cx="470.9" cy="110.5" r="1.2"/>
<circle cx="501.8" cy="97.0" r="1.2"/>
<circle cx="481.9" cy="122.1" r="1.2"/>
<circle cx="479.9" cy="73.9" r="1.2"/>
<circle cx="498.0" cy="106.0" r="1.2"/>
<circle cx="474.4" cy="121.2" r="1.2"/>
<circle cx="502.1" cy="86.0" r="1.2"/>
<circle cx="454.2" cy="103.8" r="1.2"/>
<circle cx="472.1" cy="90.7" r="1.2"/>
<circle cx="508.5" cy="136.1" r="1.2"/>
<circle cx="497.4" cy="105.6" r="1.2"/>
<circle cx="491.4" cy="102.6" r="1.2"/>
<circle cx="454.2" cy="82.7" r="1.2"/>
<circle cx="501.0" cy="141.4" r="1.2"/>
<circle cx="479.6" cy="89.9" r="1.2"/>
<circle cx="459.5" cy="148.5" r="1.2"/>
<circle cx="459.9" cy="107.5" r="1.2"/>
<circle cx="454.2" cy="131.6" r="1.2"/>
<circle cx="479.5" cy="133.4" r="1.2"/>
<circle cx="492.9" cy="94.8" r="1.2"/>
<circle cx="486.1" cy="103.4" r="1.2"/>
<circle cx="489.3" cy="106.4" r="1.2"/>
<circle cx="495.8" cy="133.7" r="1.2"/>
<circle cx="477.4" cy="104.4" r="1.2"/>
<circle cx="494.1" cy="111.5" r="1.2"/>
<circle cx="477.1" cy="117.9" r="1.2"/>
<circle cx="474.4" cy="101.8" r="1.2"/>
<circle cx="468.1" cy="103.3" r="1.2"/>
<circle cx="464.3" cy="103.3" r="1.2"/>
<circle cx="491.6" cy="131.9" r="1.2"/>
<circle cx="498.6" cy="70.0" r="1.2"/>
<circle cx="471.5" cy="76.1" r="1.2"/>
<circle cx="484.3" cy="121.3" r="1.2"/>
<circle cx="501.9" cy="105.8" r="1.2"/>
<circle cx="479.5" cy="73.2" r="1.2"/>
<circle cx="497.0" cy="80.1" r="1.2"/>
<circle cx="501.0" cy="143.7" r="1.2"/>
<circle cx="464.2" cy="109.6" r="1.2"/>
<circle cx="515.4" cy="95.3" r="1.2"/>
<circle cx="504.0" cy="94.7" r="1.2"/>
<circle cx="509.8" cy="103.3" r="1.2"/>
<circle cx="468.1" cy="122.1" r="1.2"/>
<circle cx="484.1" cy="151.8" r="1.2"/>
<circle cx="499.8" cy="103.4" r="1.2"/>
<circle cx="474.4" cy="132.5" r="1.2"/>
<circle cx="464.9" cy="100.3" r="1.2"/>
<circle cx="505.3" cy="97.7" r="1.2"/>
<circle cx="513.4" cy="112.2" r="1.2"/>
<circle cx="464.1" cy="115.4" r="1.2"/>
<circle cx="511.8" cy="97.1" r="1.2"/>
<circle cx="497.1" cy="126.2" r="1.2"/>
<circle cx="471.7" cy="127.5" r="1.2"/>
<circle cx="475.0" cy="120.2" r="1.2"/>
<circle cx="506.8" cy="96.5" r="1.2"/>
<circle cx="501.0" cy="100.4" r="1.2"/>
<circle cx="468.1" cy="110.9" r="1.2"/>
<circle cx="495.6" cy="110.4" r="1.2"/>
<circle cx="471.8" cy="112.9" r="1.2"/>
<circle cx="489.7" cy="116.0" r="1.2"/>
<circle cx="481.8" cy="142.7" r="1.2"/>
<circle cx="479.6" cy="102.5" r="1.2"/>
<circle cx="474.7" cy="85.5" r="1.2"/>
<circle cx="491.3" cy="117.5" r="1.2"/>
<circle cx="515.1" cy="88.2" r="1.2"/>
<circle cx="492.5" cy="114.2" r="1.2"/>
<circle cx="479.7" cy="80.1" r="1.2"/>
<circle cx="464.0" cy="109.9" r="1.2"/>
<circle cx="510.5" cy="71.2" r="1.2"/>
<circle cx="463.7" cy="109.7" r="1.2"/>
<circle cx="479.7" cy="120.6" r="1.2"/>
<circle cx="486.3" cy="100.7" r="1.2"/>
<circle cx="460.0" cy="119.3" r="1.2"/>
<circle cx="479.6" cy="113.7" r="1.2"/>
<circle cx="500.4" cy="106.8" r="1.2"/>
<circle cx="460.2" cy="164.2" r="1.2"/>
<circle cx="479.5" cy="149.7" r="1.2"/>
<circle cx="447.9" cy="105.5" r="1.2"/>
<circle cx="481.5" cy="86.8" r="1.2"/>
<circle cx="479.8" cy="109.0" r="1.2"/>
<circle cx="512.4" cy="57.2" r="1.2"/>
<circle cx="454.7" cy="133.2" r="1.2"/>
<circle cx="487.6" cy="104.2" r="1.2"/>
<circle cx="491.6" cy="121.0" r="1.2"/>
<circle cx="489.4" cy="116.6" r="1.2"/>
<circle cx="513.3" cy="119.1" r="1.2"/>
<circle cx="502.0" cy="142.5" r="1.2"/>
<circle cx="497.4" cy="98.9" r="1.2"/>
<circle cx="459.4" cy="150.9" r="1.2"/>
<circle cx="468.0" cy="106.2" r="1.2"/>
<circle cx="501.6" cy="112.3" r="1.2"/>
<circle cx="510.1" cy="113.6" r="1.2"/>
<circle cx="471.5" cy="81.4" r="1.2"/>
<circle cx="496.1" cy="131.6" r="1.2"/>
<circle cx="513.0" cy="129.1" r="1.2"/>
<circle cx="474.3" cy="111.1" r="1.2"/>
<circle cx="454.0" cy="89.4" r="1.2"/>
<circle cx="484.0" cy="120.1" r="1.2"/>
<circle cx="476.8" cy="153.5" r="1.2"/>
<circle cx="479.7" cy="111.2" r="1.2"/>
<circle cx="468.1" cy="138.2" r="1.2"/>
<circle cx="503.2" cy="98.8" r="1.2"/>
<circle cx="464.1" cy="122.4" r="1.2"/>
<circle cx="505.9" cy="95.0" r="1.2"/>
<circle cx="492.6" cy="129.2" r="1.2"/>
<circle cx="471.7" cy="104.2" r="1.2"/>
<circle cx="498.6" cy="115.3" r="1.2"/>
<circle cx="454.5" cy="85.6" r="1.2"/>
<circle cx="513.8" cy="122.9" r="1.2"/>
<circle cx="507.1" cy="55.6" r="1.2"/>
<circle cx="514.8" cy="88.6" r="1.2"/>
<circle cx="454.7" cy="148.2" r="1.2"/>
<circle cx="471.6" cy="79.9" r="1.2"/>
<circle cx="512.0" cy="99.1" r="1.2"/>
<circle cx="471.1" cy="123.5" r="1.2"/>
<circle cx="485.8" cy="119.2" r="1.2"/>
<circle cx="468.0" cy="114.3" r="1.2"/>
<circle cx="512.0" cy="115.7" r="1.2"/>
<circle cx="479.4" cy="108.7" r="1.2"/>
<circle cx="497.2" cy="92.8" r="1.2"/>
<circle cx="459.6" cy="101.6" r="1.2"/>
<circle cx="488.0" cy="112.6" r="1.2"/>
<circle cx="506.0" cy="102.0" r="1.2"/>
<circle cx="474.3" cy="118.0" r="1.2"/>
<circle cx="477.0" cy="118.3" r="1.2"/>
<circle cx="471.2" cy="128.7" r="1.2"/>
<circle cx="487.8" cy="78.7" r="1.2"/>
<circle cx="463.9" cy="115.3" r="1.2"/>
<circle cx="514.6" cy="99.5" r="1.2"/>
<circle cx="477.2" cy="125.9" r="1.2"/>
<circle cx="484.3" cy="110.4" r="1.2"/>
<circle cx="474.4" cy="112.6" r="1.2"/>
<circle cx="483.7" cy="113.7" r="1.2"/>
<circle cx="477.6" cy="88.9" r="1.2"/>
<circle cx="516.0" cy="119.7" r="1.2"/>
<circle cx="474.8" cy="110.4" r="1.2"/>
<circle cx="474.5" cy="121.5" r="1.2"/>
<circle cx="512.2" cy="74.0" r="1.2"/>
<circle cx="507.9" cy="98.3" r="1.2"/>
<circle cx="471.4" cy="123.1" r="1.2"/>
<circle cx="504.5" cy="123.6" r="1.2"/>
<circle cx="471.4" cy="97.9" r="1.2"/>
<circle cx="454.7" cy="145.1" r="1.2"/>
<circle cx="507.1" cy="73.6" r="1.2"/>
<circle cx="506.3" cy="83.2" r="1.2"/>
<circle cx="486.1" cy="106.6" r="1.2"/>
<circle cx="501.1" cy="100.2" r="1.2"/>
<circle cx="479.3" cy="119.1" r="1.2"/>
<circle cx="459.8" cy="108.8" r="1.2"/>
<circle cx="482.1" cy="108.5" r="1.2"/>
<circle cx="499.5" cy="127.7" r="1.2"/>
<circle cx="505.1" cy="110.2" r="1.2"/>
<circle cx="482.2" cy="96.4" r="1.2"/>
<circle cx="515.0" cy="96.0" r="1.2"/>
<circle cx="487.9" cy="126.5" r="1.2"/>
<circle cx="471.2" cy="142.5" r="1.2"/>
<circle cx="459.9" cy="103.5" r="1.2"/>
<circle cx="454.8" cy="134.9" r="1.2"/>
<circle cx="495.8" cy="94.0" r="1.2"/>
<circle cx="468.1" cy="114.4" r="1.2"/>
<circle cx="488.5" cy="115.6" r="1.2"/>
<circle cx="479.6" cy="118.4" r="1.2"/>
<circle cx="489.3" cy="100.3" r="1.2"/>
<circle cx="509.3" cy="105.4" r="1.2"/>
<circle cx="505.0" cy="75.3" r="1.2"/>
<circle cx="474.0" cy="112.9" r="1.2"/>
<circle cx="481.6" cy="70.8" r="1.2"/>
<circle cx="495.6" cy="136.6" r="1.2"/>
<circle cx="491.3" cy="135.1" r="1.2"/>
<circle cx="479.9" cy="87.7" r="1.2"/>
<circle cx="479.5" cy="134.4" r="1.2"/>
<circle cx="501.1" cy="91.7" r="1.2"/>
<circle cx="494.3" cy="124.8" r="1.2"/>
<circle cx="459.7" cy="114.8" r="1.2"/>
<circle cx="448.5" cy="122.3" r="1.2"/>
<circle cx="494.7" cy="111.9" r="1.2"/>
<circle cx="521.1" cy="129.4" r="1.2"/>
<circle cx="547.9" cy="93.2" r="1.2"/>
<circle cx="582.7" cy="71.2" r="1.2"/>
<circle cx="525.9" cy="107.0" r="1.2"/>
<circle cx="552.9" cy="72.8" r="1.2"/>
<circle cx="546.6" cy="93.7" r="1.2"/>
<circle cx="548.7" cy="107.1" r="1.2"/>
<circle cx="526.7" cy="107.0" r="1.2"/>
<circle cx="546.3" cy="79.0" r="1.2"/>
<circle cx="553.1" cy="88.1" r="1.2"/>
<circle cx="566.0" cy="61.3" r="1.2"/>
<circle cx="537.0" cy="100.3" r="1.2"/>
<circle cx="517.2" cy="113.5" r="1.2"/>
<circle cx="528.6" cy="103.1" r="1.2"/>
<circle cx="521.2" cy="123.3" r="1.2"/>
<circle cx="517.4" cy="116.6" r="1.2"/>
<circle cx="557.3" cy="87.4" r="1.2"/>
<circle cx="527.1" cy="87.2" r="1.2"/>
<circle cx="521.5" cy="116.9" r="1.2"/>
<circle cx="563.5" cy="96.6" r="1.2"/>
<circle cx="577.5" cy="79.0" r="1.2"/>
<circle cx="542.0" cy="93.7" r="1.2"/>
<circle cx="569.0" cy="77.7" r="1.2"/>
<circle cx="526.8" cy="105.2" r="1.2"/>
<circle cx="547.3" cy="77.4" r="1.2"/>
<circle cx="543.7" cy="94.3" r="1.2"/>
<circle cx="525.5" cy="93.2" r="1.2"/>
<circle cx="521.0" cy="108.8" r="1.2"/>
<circle cx="531.4" cy="93.4" r="1.2"/>
<circle cx="521.4" cy="107.1" r="1.2"/>
<circle cx="538.8" cy="101.3" r="1.2"/>
<circle cx="524.9" cy="100.1" r="1.2"/>
<circle cx="517.1" cy="114.9" r="1.2"/>
<circle cx="535.6" cy="97.9" r="1.2"/>
<circle cx="561.2" cy="77.4" r="1.2"/>
<circle cx="538.0" cy="111.7" r="1.2"/>
<circle cx="527.7" cy="91.4" r="1.2"/>
<circle cx="527.1" cy="84.8" r="1.2"/>
<circle cx="521.3" cy="80.8" r="1.2"/>
<circle cx="546.4" cy="96.8" r="1.2"/>
<circle cx="529.2" cy="84.3" r="1.2"/>
<circle cx="523.3" cy="128.5" r="1.2"/>
<circle cx="538.7" cy="114.9" r="1.2"/>
<circle cx="523.8" cy="101.7" r="1.2"/>
<circle cx="527.3" cy="116.6" r="1.2"/>
<circle cx="525.1" cy="115.2" r="1.2"/>
<circle cx="516.4" cy="120.3" r="1.2"/>
<circle cx="568.8" cy="86.9" r="1.2"/>
<circle cx="521.1" cy="113.2" r="1.2"/>
<circle cx="530.0" cy="113.4" r="1.2"/>
<circle cx="518.3" cy="106.1" r="1.2"/>
<circle cx="556.3" cy="95.6" r="1.2"/>
<circle cx="517.6" cy="105.8" r="1.2"/>
<circle cx="516.9" cy="101.9" r="1.2"/>
<circle cx="544.9" cy="85.8" r="1.2"/>
<circle cx="529.1" cy="103.6" r="1.2"/>
<circle cx="544.1" cy="99.8" r="1.2"/>
<circle cx="518.8" cy="111.2" r="1.2"/>
<circle cx="516.7" cy="121.3" r="1.2"/>
<circle cx="552.9" cy="83.5" r="1.2"/>
<circle cx="548.3" cy="92.7" r="1.2"/>
<circle cx="523.2" cy="89.0" r="1.2"/>
<circle cx="523.8" cy="99.0" r="1.2"/>
<circle cx="526.5" cy="108.7" r="1.2"/>
<circle cx="517.9" cy="94.1" r="1.2"/>
<circle cx="529.9" cy="104.4" r="1.2"/>
<circle cx="545.8" cy="94.2" r="1.2"/>
<circle cx="524.8" cy="96.4" r="1.2"/>
<circle cx="535.9" cy="94.4" r="1.2"/>
<circle cx="524.0" cy="113.6" r="1.2"/>
<circle cx="526.9" cy="92.2" r="1.2"/>
<circle cx="520.3" cy="99.5" r="1.2"/>
<circle cx="532.7" cy="99.4" r="1.2"/>
<circle cx="523.7" cy="106.0" r="1.2"/>
<circle cx="522.0" cy="100.7" r="1.2"/>
<circle cx="579.0" cy="60.3" r="1.2"/>
<circle cx="576.5" cy="93.2" r="1.2"/>
<circle cx="581.7" cy="90.4" r="1.2"/>
<circle cx="517.2" cy="101.0" r="1.2"/>
<circle cx="529.7" cy="100.3" r="1.2"/>
<circle cx="537.9" cy="92.2" r="1.2"/>
<circle cx="540.6" cy="112.5" r="1.2"/>
<circle cx="520.0" cy="88.9" r="1.2"/>
<circle cx="550.0" cy="79.4" r="1.2"/>
<circle cx="519.0" cy="103.1" r="1.2"/>
<circle cx="519.0" cy="132.3" r="1.2"/>
<circle cx="518.4" cy="113.7" r="1.2"/>
<circle cx="526.6" cy="95.0" r="1.2"/>
<circle cx="563.7" cy="85.4" r="1.2"/>
<circle cx="522.6" cy="122.2" r="1.2"/>
<circle cx="524.8" cy="112.0" r="1.2"/>
<circle cx="526.7" cy="87.9" r="1.2"/>
<circle cx="518.3" cy="104.1" r="1.2"/>
<circle cx="528.1" cy="92.1" r="1.2"/>
<circle cx="550.9" cy="84.5" r="1.2"/>
<circle cx="561.6" cy="84.1" r="1.2"/>
<circle cx="529.1" cy="114.4" r="1.2"/>
<circle cx="517.5" cy="87.6" r="1.2"/>
<circle cx="555.8" cy="89.8" r="1.2"/>
<circle cx="574.4" cy="68.9" r="1.2"/>
<circle cx="518.0" cy="113.3" r="1.2"/>
<circle cx="546.4" cy="88.0" r="1.2"/>
<circle cx="539.3" cy="89.5" r="1.2"/>
<circle cx="528.9" cy="102.9" r="1.2"/>
<circle cx="519.8" cy="104.0" r="1.2"/>
<circle cx="530.5" cy="96.4" r="1.2"/>
<circle cx="584.9" cy="77.1" r="1.2"/>
<circle cx="538.2" cy="114.0" r="1.2"/>
<circle cx="552.9" cy="85.8" r="1.2"/>
<circle cx="575.9" cy="81.5" r="1.2"/>
<circle cx="589.7" cy="70.2" r="1.2"/>
<circle cx="517.3" cy="117.5" r="1.2"/>
<circle cx="530.0" cy="80.2" r="1.2"/>
<circle cx="528.9" cy="88.9" r="1.2"/>
<circle cx="540.6" cy="77.2" r="1.2"/>
<circle cx="558.7" cy="62.2" r="1.2"/>
<circle cx="552.7" cy="76.8" r="1.2"/>
<circle cx="518.2" cy="109.9" r="1.2"/>
<circle cx="519.8" cy="122.2" r="1.2"/>
<circle cx="538.7" cy="81.2" r="1.2"/>
<circle cx="522.7" cy="100.1" r="1.2"/>
<circle cx="522.0" cy="92.7" r="1.2"/>
<circle cx="530.5" cy="82.3" r="1.2"/>
<circle cx="521.9" cy="106.3" r="1.2"/>
<circle cx="517.1" cy="118.7" r="1.2"/>
<circle cx="524.8" cy="97.3" r="1.2"/>
<circle cx="559.9" cy="92.8" r="1.2"/>
<circle cx="570.0" cy="93.5" r="1.2"/>
<circle cx="529.7" cy="95.4" r="1.2"/>
<circle cx="566.4" cy="87.3" r="1.2"/>
<circle cx="560.2" cy="79.9" r="1.2"/>
<circle cx="524.9" cy="117.4" r="1.2"/>
<circle cx="543.7" cy="95.7" r="1.2"/>
<circle cx="529.9" cy="103.9" r="1.2"/>
<circle cx="518.3" cy="106.1" r="1.2"/>
<circle cx="558.0" cy="95.8" r="1.2"/>
<circle cx="519.2" cy="96.5" r="1.2"/>
<circle cx="541.4" cy="114.6" r="1.2"/>
<circle cx="529.5" cy="94.7" r="1.2"/>
<circle cx="532.8" cy="84.5" r="1.2"/>
<circle cx="561.0" cy="86.5" r="1.2"/>
<circle cx="517.4" cy="105.1" r="1.2"/>
<circle cx="576.3" cy="89.7" r="1.2"/>
<circle cx="524.9" cy="99.3" r="1.2"/>
<circle cx="558.7" cy="81.5" r="1.2"/>
<circle cx="520.6" cy="102.4" r="1.2"/>
<circle cx="563.1" cy="80.5" r="1.2"/>
<circle cx="541.2" cy="88.1" r="1.2"/>
<circle cx="557.4" cy="85.0" r="1.2"/>
<circle cx="545.8" cy="108.3" r="1.2"/>
<circle cx="528.8" cy="102.4" r="1.2"/>
<circle cx="583.0" cy="62.0" r="1.2"/>
<circle cx="561.8" cy="86.3" r="1.2"/>
<circle cx="517.5" cy="108.7" r="1.2"/>
<circle cx="517.2" cy="112.1" r="1.2"/>
<circle cx="525.5" cy="94.6" r="1.2"/>
<circle cx="541.4" cy="99.3" r="1.2"/>
<circle cx="517.0" cy="105.6" r="1.2"/>
<circle cx="525.9" cy="114.0" r="1.2"/>
<circle cx="536.2" cy="103.4" r="1.2"/>
<circle cx="523.1" cy="116.7" r="1.2"/>
<circle cx="548.6" cy="102.5" r="1.2"/>
<circle cx="516.9" cy="111.0" r="1.2"/>
<circle cx="523.7" cy="87.6" r="1.2"/>
<circle cx="551.4" cy="86.0" r="1.2"/>
<circle cx="547.5" cy="78.6" r="1.2"/>
<circle cx="520.2" cy="111.1" r="1.2"/>
<circle cx="522.1" cy="100.4" r="1.2"/>
<circle cx="544.1" cy="102.0" r="1.2"/>
<circle cx="519.0" cy="107.9" r="1.2"/>
<circle cx="525.7" cy="104.5" r="1.2"/>
<circle cx="538.2" cy="118.3" r="1.2"/>
<circle cx="542.4" cy="94.2" r="1.2"/>
<circle cx="531.1" cy="115.9" r="1.2"/>
<circle cx="543.9" cy="87.7" r="1.2"/>
<circle cx="541.6" cy="103.7" r="1.2"/>
<circle cx="529.0" cy="121.6" r="1.2"/>
<circle cx="538.6" cy="112.3" r="1.2"/>
<circle cx="544.9" cy="105.5" r="1.2"/>
<circle cx="549.1" cy="73.0" r="1.2"/>
<circle cx="530.9" cy="116.8" r="1.2"/>
<circle cx="523.5" cy="108.6" r="1.2"/>
<circle cx="538.1" cy="94.8" r="1.2"/>
<circle cx="522.8" cy="106.3" r="1.2"/>
<circle cx="521.4" cy="105.4" r="1.2"/>
<circle cx="529.9" cy="91.6" r="1.2"/>
<circle cx="535.0" cy="107.7" r="1.2"/>
<circle cx="547.7" cy="69.7" r="1.2"/>
<circle cx="518.4" cy="88.0" r="1.2"/>
<circle cx="524.2" cy="100.6" r="1.2"/>
<circle cx="557.7" cy="70.2" r="1.2"/>
<circle cx="537.7" cy="95.6" r="1.2"/>
<circle cx="517.5" cy="111.9" r="1.2"/>
<circle cx="541.5" cy="111.2" r="1.2"/>
<circle cx="516.4" cy="115.6" r="1.2"/>
<circle cx="562.7" cy="78.2" r="1.2"/>
<circle cx="540.2" cy="91.7" r="1.2"/>
<circle cx="531.9" cy="78.8" r="1.2"/>
<circle cx="575.7" cy="59.3" r="1.2"/>
<circle cx="529.4" cy="89.2" r="1.2"/>
<circle cx="517.4" cy="104.7" r="1.2"/>
<circle cx="545.4" cy="70.2" r="1.2"/>
<circle cx="561.2" cy="87.0" r="1.2"/>
<circle cx="582.2" cy="80.5" r="1.2"/>
<circle cx="522.8" cy="97.8" r="1.2"/>
<circle cx="530.3" cy="93.0" r="1.2"/>
<circle cx="523.7" cy="95.9" r="1.2"/>
<circle cx="566.7" cy="73.7" r="1.2"/>
<circle cx="530.3" cy="70.3" r="1.2"/>
<circle cx="548.8" cy="84.8" r="1.2"/>
<circle cx="521.0" cy="103.6" r="1.2"/>
<circle cx="566.4" cy="73.3" r="1.2"/>
<circle cx="530.8" cy="113.9" r="1.2"/>
<circle cx="535.6" cy="90.5" r="1.2"/>
<circle cx="547.6" cy="85.6" r="1.2"/>
<circle cx="521.3" cy="106.6" r="1.2"/>
<circle cx="547.2" cy="105.1" r="1.2"/>
<circle cx="558.4" cy="82.4" r="1.2"/>
<circle cx="517.9" cy="105.6" r="1.2"/>
<circle cx="549.5" cy="87.6" r="1.2"/>
<circle cx="526.3" cy="97.2" r="1.2"/>
<circle cx="572.2" cy="76.1" r="1.2"/>
<circle cx="582.1" cy="71.4" r="1.2"/>
<circle cx="548.2" cy="97.9" r="1.2"/>
<circle cx="552.6" cy="97.7" r="1.2"/>
<circle cx="530.2" cy="79.6" r="1.2"/>
<circle cx="539.1" cy="94.3" r="1.2"/>
<circle cx="527.4" cy="99.9" r="1.2"/>
<circle cx="554.2" cy="79.9" r="1.2"/>
<circle cx="555.6" cy="60.7" r="1.2"/>
<circle cx="530.9" cy="93.9" r="1.2"/>
<circle cx="554.3" cy="89.3" r="1.2"/>
<circle cx="570.4" cy="67.6" r="1.2"/>
<circle cx="535.9" cy="97.9" r="1.2"/>
<circle cx="542.3" cy="96.0" r="1.2"/>
<circle cx="544.5" cy="86.4" r="1.2"/>
<circle cx="542.7" cy="95.5" r="1.2"/>
<circle cx="516.5" cy="118.7" r="1.2"/>
<circle cx="590.4" cy="73.0" r="1.2"/>
<circle cx="527.5" cy="77.0" r="1.2"/>
<circle cx="517.7" cy="98.3" r="1.2"/>
<circle cx="520.6" cy="106.7" r="1.2"/>
<circle cx="530.2" cy="113.6" r="1.2"/>
<circle cx="540.3" cy="83.4" r="1.2"/>
<circle cx="559.1" cy="102.7" r="1.2"/>
<circle cx="525.8" cy="103.8" r="1.2"/>
<circle cx="536.8" cy="90.8" r="1.2"/>
<circle cx="545.0" cy="82.7" r="1.2"/>
<circle cx="553.4" cy="98.3" r="1.2"/>
<circle cx="590.4" cy="69.6" r="1.2"/>
<circle cx="407.5" cy="91.7" r="1.2"/>
<circle cx="407.5" cy="97.9" r="1.2"/>
<circle cx="407.5" cy="122.0" r="1.2"/>
<circle cx="440.2" cy="105.4" r="1.2"/>
<circle cx="453.9" cy="56.5" r="1.2"/>
<circle cx="558.8" cy="41.1" r="1.2"/>
<circle cx="541.0" cy="52.3" r="1.2"/>
<circle cx="530.6" cy="49.4" r="1.2"/>
<circle cx="589.0" cy="117.4" r="1.2"/>
<circle cx="549.3" cy="153.1" r="1.2"/>
<circle cx="520.2" cy="158.0" r="1.2"/>
<circle cx="507.8" cy="153.9" r="1.2"/>
</g>
<g fill="#3d8ee0">
<circle cx="428.5" cy="63.7" r="1.55"/>
<circle cx="477.2" cy="34.2" r="1.55"/>
<circle cx="514.5" cy="44.1" r="1.55"/>
<circle cx="496.9" cy="72.3" r="1.55"/>
<circle cx="501.6" cy="81.0" r="1.55"/>
<circle cx="496.6" cy="84.2" r="1.55"/>
<circle cx="495.9" cy="86.0" r="1.55"/>
<circle cx="519.6" cy="79.1" r="1.55"/>
<circle cx="515.5" cy="87.2" r="1.55"/>
<circle cx="526.4" cy="86.1" r="1.55"/>
<circle cx="529.3" cy="91.1" r="1.55"/>
<circle cx="532.3" cy="97.1" r="1.55"/>
<circle cx="537.1" cy="76.6" r="1.55"/>
<circle cx="477.2" cy="92.3" r="1.55"/>
<circle cx="498.4" cy="99.3" r="1.55"/>
<circle cx="515.6" cy="101.1" r="1.55"/>
<circle cx="528.3" cy="108.4" r="1.55"/>
<circle cx="539.3" cy="112.2" r="1.55"/>
<circle cx="484.1" cy="108.9" r="1.55"/>
<circle cx="482.0" cy="111.8" r="1.55"/>
<circle cx="479.7" cy="114.7" r="1.55"/>
<circle cx="477.2" cy="118.1" r="1.55"/>
<circle cx="491.1" cy="118.4" r="1.55"/>
<circle cx="474.6" cy="122.7" r="1.55"/>
<circle cx="514.7" cy="119.8" r="1.55"/>
<circle cx="494.3" cy="126.0" r="1.55"/>
<circle cx="482.0" cy="130.3" r="1.55"/>
<circle cx="499.6" cy="129.7" r="1.55"/>
<circle cx="477.2" cy="133.7" r="1.55"/>
<circle cx="477.2" cy="140.0" r="1.55"/>
<circle cx="464.1" cy="144.3" r="1.55"/>
<circle cx="471.4" cy="147.8" r="1.55"/>
<circle cx="454.3" cy="160.0" r="1.55"/>
<circle cx="482.0" cy="157.0" r="1.55"/>
<circle cx="471.4" cy="172.1" r="1.55"/>
<circle cx="619.9" cy="54.3" r="1.55"/>
<circle cx="614.2" cy="57.8" r="1.55"/>
<circle cx="613.6" cy="60.6" r="1.55"/>
<circle cx="622.6" cy="59.1" r="1.55"/>
<circle cx="611.5" cy="64.8" r="1.55"/>
<circle cx="591.9" cy="67.1" r="1.55"/>
<circle cx="593.0" cy="74.0" r="1.55"/>
<circle cx="567.7" cy="71.1" r="1.55"/>
<circle cx="578.9" cy="78.4" r="1.55"/>
<circle cx="563.1" cy="82.4" r="1.55"/>
<circle cx="566.7" cy="85.4" r="1.55"/>
<circle cx="576.8" cy="84.5" r="1.55"/>
<circle cx="552.6" cy="92.7" r="1.55"/>
</g>
<rect x="397.60" y="15.50" width="286.40" height="200.60" stroke="#666" stroke-width="1" fill="none" />
<line x1="393.20" y1="22.80" x2="397.60" y2="22.80" stroke="#666" stroke-width="1" />
<text x="0" y="0" transform="translate(382.60,22.80) rotate(-90)" font-size="8.676" text-anchor="middle" dominant-baseline="central" fill="#1a1a1a" stroke="#1a1a1a" stroke-width="0.14" letter-spacing="-0.402" >10</text>
<line x1="673.30" y1="216.10" x2="673.30" y2="220.60" stroke="#666" stroke-width="1" />
<text x="0" y="0" transform="translate(673.30,231.90)" font-size="8.805" text-anchor="middle" dominant-baseline="central" fill="#1a1a1a" stroke="#1a1a1a" stroke-width="0.14" letter-spacing="-0.408" >10</text>
<line x1="393.20" y1="69.10" x2="397.60" y2="69.10" stroke="#666" stroke-width="1" />
<text x="0" y="0" transform="translate(382.60,69.10) rotate(-90)" font-size="8.676" text-anchor="middle" dominant-baseline="central" fill="#1a1a1a" stroke="#1a1a1a" stroke-width="0.14" letter-spacing="-0.402" >1</text>
<line x1="607.00" y1="216.10" x2="607.00" y2="220.60" stroke="#666" stroke-width="1" />
<text x="0" y="0" transform="translate(607.00,231.90)" font-size="8.805" text-anchor="middle" dominant-baseline="central" fill="#1a1a1a" stroke="#1a1a1a" stroke-width="0.14" letter-spacing="-0.408" >1</text>
<line x1="393.20" y1="115.40" x2="397.60" y2="115.40" stroke="#666" stroke-width="1" />
<text x="0" y="0" transform="translate(382.60,115.40) rotate(-90)" font-size="8.676" text-anchor="middle" dominant-baseline="central" fill="#1a1a1a" stroke="#1a1a1a" stroke-width="0.14" letter-spacing="-0.402" >0.1</text>
<line x1="540.70" y1="216.10" x2="540.70" y2="220.60" stroke="#666" stroke-width="1" />
<text x="0" y="0" transform="translate(540.70,231.90)" font-size="8.805" text-anchor="middle" dominant-baseline="central" fill="#1a1a1a" stroke="#1a1a1a" stroke-width="0.14" letter-spacing="-0.408" >0.1</text>
<line x1="393.20" y1="161.70" x2="397.60" y2="161.70" stroke="#666" stroke-width="1" />
<text x="0" y="0" transform="translate(382.60,161.70) rotate(-90)" font-size="8.676" text-anchor="middle" dominant-baseline="central" fill="#1a1a1a" stroke="#1a1a1a" stroke-width="0.14" letter-spacing="-0.402" >0.01</text>
<line x1="474.40" y1="216.10" x2="474.40" y2="220.60" stroke="#666" stroke-width="1" />
<text x="0" y="0" transform="translate(474.40,231.90)" font-size="8.805" text-anchor="middle" dominant-baseline="central" fill="#1a1a1a" stroke="#1a1a1a" stroke-width="0.14" letter-spacing="-0.408" >0.01</text>
<line x1="393.20" y1="208.00" x2="397.60" y2="208.00" stroke="#666" stroke-width="1" />
<text x="0" y="0" transform="translate(382.60,208.00) rotate(-90)" font-size="8.676" text-anchor="middle" dominant-baseline="central" fill="#1a1a1a" stroke="#1a1a1a" stroke-width="0.14" letter-spacing="-0.402" >0.001</text>
<line x1="408.10" y1="216.10" x2="408.10" y2="220.60" stroke="#666" stroke-width="1" />
<text x="0" y="0" transform="translate(408.10,231.90)" font-size="8.805" text-anchor="middle" dominant-baseline="central" fill="#1a1a1a" stroke="#1a1a1a" stroke-width="0.14" letter-spacing="-0.408" >0.001</text>
<text x="0" y="0" transform="translate(362.10,114.70) rotate(-90)" font-size="9.121" text-anchor="middle" dominant-baseline="central" fill="#1a1a1a" stroke="#1a1a1a" stroke-width="0.14" letter-spacing="-0.324" >Day 28 post-vaccination anti-EBOV GP IgG (IU/ml)</text>
<text x="0" y="0" transform="translate(540.20,252.40)" font-size="9.012" text-anchor="middle" dominant-baseline="central" fill="#1a1a1a" stroke="#1a1a1a" stroke-width="0.14" letter-spacing="-0.392" >Day 0 pre-vaccination anti-EBOV GP IgG (IU/ml)</text>
<text x="0" y="0" transform="translate(0.30,283.30) scale(0.93,1)" font-size="14.5" text-anchor="start" dominant-baseline="central" fill="#111" stroke="#111" stroke-width="0.14"  >C</text>
<line x1="80.10" y1="475.90" x2="80.10" y2="466.50" stroke="#222" stroke-width="0.9" stroke-dasharray="2.7,1.3"/>
<line x1="66.20" y1="466.50" x2="94.00" y2="466.50" stroke="#333" stroke-width="1" />
<rect x="52.40" y="475.90" width="55.70" height="13.60" stroke="#3a3a3a" stroke-width="1" fill="none" />
<line x1="52.40" y1="482.00" x2="108.10" y2="482.00" stroke="#111" stroke-width="2.1" />
<line x1="149.70" y1="419.60" x2="149.70" y2="408.50" stroke="#222" stroke-width="0.9" stroke-dasharray="2.7,1.3"/>
<line x1="135.70" y1="408.50" x2="163.70" y2="408.50" stroke="#333" stroke-width="1" />
<line x1="149.70" y1="470.90" x2="149.70" y2="489.50" stroke="#222" stroke-width="0.9" stroke-dasharray="2.7,1.3"/>
<line x1="135.70" y1="489.50" x2="163.70" y2="489.50" stroke="#333" stroke-width="1" />
<rect x="121.70" y="419.60" width="55.80" height="51.30" stroke="#3a3a3a" stroke-width="1" fill="none" />
<line x1="121.70" y1="458.60" x2="177.50" y2="458.60" stroke="#111" stroke-width="2.1" />
<line x1="219.40" y1="380.20" x2="219.40" y2="356.10" stroke="#222" stroke-width="0.9" stroke-dasharray="2.7,1.3"/>
<line x1="205.35" y1="356.10" x2="233.45" y2="356.10" stroke="#333" stroke-width="1" />
<line x1="219.40" y1="482.10" x2="219.40" y2="489.30" stroke="#222" stroke-width="0.9" stroke-dasharray="2.7,1.3"/>
<line x1="205.35" y1="489.30" x2="233.45" y2="489.30" stroke="#333" stroke-width="1" />
<rect x="191.60" y="380.20" width="55.80" height="101.90" stroke="#3a3a3a" stroke-width="1" fill="none" />
<line x1="191.60" y1="470.70" x2="247.40" y2="470.70" stroke="#111" stroke-width="2.1" />
<line x1="289.20" y1="341.70" x2="289.20" y2="321.10" stroke="#222" stroke-width="0.9" stroke-dasharray="2.7,1.3"/>
<line x1="275.20" y1="321.10" x2="303.20" y2="321.10" stroke="#333" stroke-width="1" />
<line x1="289.20" y1="454.10" x2="289.20" y2="475.80" stroke="#222" stroke-width="0.9" stroke-dasharray="2.7,1.3"/>
<line x1="275.20" y1="475.80" x2="303.20" y2="475.80" stroke="#333" stroke-width="1" />
<rect x="261.20" y="341.70" width="56.30" height="112.40" stroke="#3a3a3a" stroke-width="1" fill="none" />
<line x1="261.20" y1="419.30" x2="317.50" y2="419.30" stroke="#111" stroke-width="2.1" />
<g fill="#1b8bf5">
<circle cx="81.6" cy="443.1" r="1.75"/>
<circle cx="92.1" cy="455.8" r="1.75"/>
<circle cx="76.1" cy="466.5" r="1.75"/>
<circle cx="87.7" cy="466.5" r="1.75"/>
<circle cx="74.6" cy="470.9" r="1.75"/>
<circle cx="88.6" cy="470.9" r="1.75"/>
<circle cx="72.8" cy="475.9" r="1.75"/>
<circle cx="82.9" cy="475.9" r="1.75"/>
<circle cx="83.4" cy="477.9" r="1.75"/>
<circle cx="67.4" cy="482.0" r="1.75"/>
<circle cx="79.4" cy="482.0" r="1.75"/>
<circle cx="82.7" cy="482.0" r="1.75"/>
<circle cx="85.5" cy="482.0" r="1.75"/>
<circle cx="92.6" cy="482.0" r="1.75"/>
<circle cx="68.0" cy="489.5" r="1.75"/>
<circle cx="69.1" cy="489.5" r="1.75"/>
<circle cx="79.0" cy="489.5" r="1.75"/>
<circle cx="81.6" cy="489.5" r="1.75"/>
<circle cx="83.8" cy="489.5" r="1.75"/>
<circle cx="86.0" cy="489.5" r="1.75"/>
<circle cx="91.0" cy="489.5" r="1.75"/>
<circle cx="218.3" cy="326.8" r="1.75"/>
<circle cx="222.7" cy="326.8" r="1.75"/>
<circle cx="229.2" cy="356.1" r="1.75"/>
<circle cx="218.9" cy="361.6" r="1.75"/>
<circle cx="230.3" cy="361.6" r="1.75"/>
<circle cx="210.6" cy="425.6" r="1.75"/>
<circle cx="218.3" cy="455.8" r="1.75"/>
<circle cx="217.4" cy="466.3" r="1.75"/>
<circle cx="232.1" cy="466.3" r="1.75"/>
<circle cx="219.6" cy="470.7" r="1.75"/>
<circle cx="228.1" cy="475.8" r="1.75"/>
<circle cx="209.5" cy="482.1" r="1.75"/>
<circle cx="213.9" cy="482.1" r="1.75"/>
<circle cx="222.2" cy="482.1" r="1.75"/>
<circle cx="223.8" cy="482.1" r="1.75"/>
<circle cx="229.2" cy="482.1" r="1.75"/>
<circle cx="232.7" cy="482.1" r="1.75"/>
<circle cx="223.8" cy="489.3" r="1.75"/>
</g><g fill="#f01010">
<circle cx="151.1" cy="314.8" r="1.75"/>
<circle cx="138.5" cy="384.8" r="1.75"/>
<circle cx="141.8" cy="408.5" r="1.75"/>
<circle cx="144.7" cy="408.5" r="1.75"/>
<circle cx="138.1" cy="414.4" r="1.75"/>
<circle cx="151.7" cy="414.4" r="1.75"/>
<circle cx="141.2" cy="419.6" r="1.75"/>
<circle cx="143.4" cy="419.6" r="1.75"/>
<circle cx="160.4" cy="419.6" r="1.75"/>
<circle cx="155.4" cy="425.5" r="1.75"/>
<circle cx="151.7" cy="431.0" r="1.75"/>
<circle cx="154.3" cy="443.1" r="1.75"/>
<circle cx="156.7" cy="455.8" r="1.75"/>
<circle cx="146.2" cy="458.4" r="1.75"/>
<circle cx="148.8" cy="458.4" r="1.75"/>
<circle cx="161.1" cy="458.4" r="1.75"/>
<circle cx="150.6" cy="466.5" r="1.75"/>
<circle cx="153.9" cy="466.5" r="1.75"/>
<circle cx="160.4" cy="466.5" r="1.75"/>
<circle cx="138.5" cy="470.9" r="1.75"/>
<circle cx="141.2" cy="470.9" r="1.75"/>
<circle cx="158.2" cy="470.9" r="1.75"/>
<circle cx="160.4" cy="470.9" r="1.75"/>
<circle cx="144.7" cy="482.0" r="1.75"/>
<circle cx="156.7" cy="482.0" r="1.75"/>
<circle cx="145.1" cy="489.5" r="1.75"/>
<circle cx="151.0" cy="489.5" r="1.75"/>
<circle cx="281.3" cy="298.1" r="1.75"/>
<circle cx="290.3" cy="303.4" r="1.75"/>
<circle cx="291.2" cy="321.1" r="1.75"/>
<circle cx="295.6" cy="326.8" r="1.75"/>
<circle cx="298.4" cy="326.8" r="1.75"/>
<circle cx="293.2" cy="367.3" r="1.75"/>
<circle cx="298.9" cy="379.1" r="1.75"/>
<circle cx="295.6" cy="402.6" r="1.75"/>
<circle cx="298.4" cy="408.3" r="1.75"/>
<circle cx="299.1" cy="414.2" r="1.75"/>
<circle cx="292.7" cy="425.6" r="1.75"/>
<circle cx="283.3" cy="430.9" r="1.75"/>
<circle cx="292.1" cy="430.9" r="1.75"/>
<circle cx="295.6" cy="443.1" r="1.75"/>
<circle cx="296.7" cy="449.9" r="1.75"/>
<circle cx="303.2" cy="458.7" r="1.75"/>
<circle cx="279.2" cy="466.3" r="1.75"/>
<circle cx="280.7" cy="466.3" r="1.75"/>
<circle cx="292.1" cy="466.3" r="1.75"/>
<circle cx="293.8" cy="475.8" r="1.75"/>
</g>
<rect x="41.60" y="289.00" width="285.90" height="218.50" stroke="#666" stroke-width="1" fill="none" />
<line x1="184.50" y1="289.00" x2="184.50" y2="507.50" stroke="#666" stroke-width="1" />
<line x1="36.50" y1="490.00" x2="41.60" y2="490.00" stroke="#666" stroke-width="1" />
<text x="0" y="0" transform="translate(31.50,490.80)" font-size="7.817" text-anchor="end" dominant-baseline="central" fill="#1a1a1a" stroke="#1a1a1a" stroke-width="0.14" letter-spacing="-0.429" >4</text>
<line x1="36.50" y1="466.66" x2="41.60" y2="466.66" stroke="#666" stroke-width="1" />
<text x="0" y="0" transform="translate(31.50,467.46)" font-size="7.817" text-anchor="end" dominant-baseline="central" fill="#1a1a1a" stroke="#1a1a1a" stroke-width="0.14" letter-spacing="-0.429" >8</text>
<line x1="36.50" y1="443.32" x2="41.60" y2="443.32" stroke="#666" stroke-width="1" />
<text x="0" y="0" transform="translate(31.50,444.12)" font-size="7.817" text-anchor="end" dominant-baseline="central" fill="#1a1a1a" stroke="#1a1a1a" stroke-width="0.14" letter-spacing="-0.429" >16</text>
<line x1="36.50" y1="419.98" x2="41.60" y2="419.98" stroke="#666" stroke-width="1" />
<text x="0" y="0" transform="translate(31.50,420.78)" font-size="7.817" text-anchor="end" dominant-baseline="central" fill="#1a1a1a" stroke="#1a1a1a" stroke-width="0.14" letter-spacing="-0.429" >32</text>
<line x1="36.50" y1="396.64" x2="41.60" y2="396.64" stroke="#666" stroke-width="1" />
<text x="0" y="0" transform="translate(31.50,397.44)" font-size="7.817" text-anchor="end" dominant-baseline="central" fill="#1a1a1a" stroke="#1a1a1a" stroke-width="0.14" letter-spacing="-0.429" >64</text>
<line x1="36.50" y1="373.30" x2="41.60" y2="373.30" stroke="#666" stroke-width="1" />
<text x="0" y="0" transform="translate(31.50,374.10)" font-size="7.817" text-anchor="end" dominant-baseline="central" fill="#1a1a1a" stroke="#1a1a1a" stroke-width="0.14" letter-spacing="-0.429" >128</text>
<line x1="36.50" y1="349.96" x2="41.60" y2="349.96" stroke="#666" stroke-width="1" />
<text x="0" y="0" transform="translate(31.50,350.76)" font-size="7.817" text-anchor="end" dominant-baseline="central" fill="#1a1a1a" stroke="#1a1a1a" stroke-width="0.14" letter-spacing="-0.429" >256</text>
<line x1="36.50" y1="326.62" x2="41.60" y2="326.62" stroke="#666" stroke-width="1" />
<text x="0" y="0" transform="translate(31.50,327.42)" font-size="7.817" text-anchor="end" dominant-baseline="central" fill="#1a1a1a" stroke="#1a1a1a" stroke-width="0.14" letter-spacing="-0.429" >512</text>
<line x1="36.50" y1="303.28" x2="41.60" y2="303.28" stroke="#666" stroke-width="1" />
<text x="0" y="0" transform="translate(31.50,304.08)" font-size="7.817" text-anchor="end" dominant-baseline="central" fill="#1a1a1a" stroke="#1a1a1a" stroke-width="0.14" letter-spacing="-0.429" >1024</text>
<text x="0" y="0" transform="translate(9.40,397.80) rotate(-90)" font-size="8.434" text-anchor="middle" dominant-baseline="central" fill="#1a1a1a" stroke="#1a1a1a" stroke-width="0.14" letter-spacing="-0.296" >Neutralizing antibody titre EBOV (GMT)</text>
<line x1="80.10" y1="507.50" x2="80.10" y2="511.70" stroke="#666" stroke-width="1" />
<text x="0" y="0" transform="translate(80.10,522.20)" font-size="8.062" text-anchor="middle" dominant-baseline="central" fill="#1a1a1a" stroke="#1a1a1a" stroke-width="0.14" letter-spacing="-0.39" >Day 0</text>
<line x1="149.85" y1="507.50" x2="149.85" y2="511.70" stroke="#666" stroke-width="1" />
<text x="0" y="0" transform="translate(149.85,522.20)" font-size="8.062" text-anchor="middle" dominant-baseline="central" fill="#1a1a1a" stroke="#1a1a1a" stroke-width="0.14" letter-spacing="-0.39" >Day 28</text>
<line x1="219.60" y1="507.50" x2="219.60" y2="511.70" stroke="#666" stroke-width="1" />
<text x="0" y="0" transform="translate(219.60,522.20)" font-size="8.062" text-anchor="middle" dominant-baseline="central" fill="#1a1a1a" stroke="#1a1a1a" stroke-width="0.14" letter-spacing="-0.39" >Day 0</text>
<line x1="289.35" y1="507.50" x2="289.35" y2="511.70" stroke="#666" stroke-width="1" />
<text x="0" y="0" transform="translate(289.35,522.20)" font-size="8.062" text-anchor="middle" dominant-baseline="central" fill="#1a1a1a" stroke="#1a1a1a" stroke-width="0.14" letter-spacing="-0.39" >Day 28</text>
<text x="0" y="0" transform="translate(121.20,541.50)" font-size="8.223" text-anchor="middle" dominant-baseline="central" fill="#1a1a1a" stroke="#1a1a1a" stroke-width="0.14" letter-spacing="-0.298" >Baseline IgG seronegative</text>
<text x="0" y="0" transform="translate(248.70,541.50)" font-size="8.249" text-anchor="middle" dominant-baseline="central" fill="#1a1a1a" stroke="#1a1a1a" stroke-width="0.14" letter-spacing="-0.289" >Baseline IgG seropositive</text>
<text x="0" y="0" transform="translate(354.50,283.00) scale(0.93,1)" font-size="14.5" text-anchor="start" dominant-baseline="central" fill="#111" stroke="#111" stroke-width="0.14"  >D</text>
<line x1="514.50" y1="294.70" x2="514.50" y2="508.40" stroke="#222" stroke-width="1" stroke-dasharray="1.1,1.1"/>
<line x1="400.00" y1="461.00" x2="675.40" y2="461.00" stroke="#222" stroke-width="1" stroke-dasharray="1.1,1.1"/>
<g stroke="#8a8a8a" stroke-width="0.55" fill="none">
<line x1="574.3" y1="366.8" x2="589.2" y2="337.4"/>
<line x1="589.2" y1="337.4" x2="585.2" y2="340.4"/>
<line x1="589.2" y1="337.4" x2="589.1" y2="342.4"/>
<line x1="586.2" y1="372.0" x2="604.4" y2="317.9"/>
<line x1="604.4" y1="317.9" x2="600.9" y2="321.5"/>
<line x1="604.4" y1="317.9" x2="605.0" y2="322.9"/>
<line x1="607.1" y1="372.0" x2="613.4" y2="341.9"/>
<line x1="613.4" y1="341.9" x2="610.3" y2="345.9"/>
<line x1="613.4" y1="341.9" x2="614.6" y2="346.8"/>
<line x1="616.4" y1="341.9" x2="615.3" y2="322.2"/>
<line x1="615.3" y1="322.2" x2="613.4" y2="326.8"/>
<line x1="615.3" y1="322.2" x2="617.7" y2="326.6"/>
<line x1="605.5" y1="341.9" x2="607.2" y2="341.9"/>
<line x1="607.2" y1="341.9" x2="602.7" y2="339.7"/>
<line x1="607.2" y1="341.9" x2="602.7" y2="344.1"/>
<line x1="607.8" y1="474.1" x2="616.7" y2="460.6"/>
<line x1="616.7" y1="460.6" x2="612.4" y2="463.2"/>
<line x1="616.7" y1="460.6" x2="616.0" y2="465.6"/>
<line x1="613.6" y1="426.3" x2="622.0" y2="406.5"/>
<line x1="622.0" y1="406.5" x2="618.2" y2="409.8"/>
<line x1="622.0" y1="406.5" x2="622.2" y2="411.5"/>
<line x1="588.2" y1="464.5" x2="594.8" y2="426.3"/>
<line x1="594.8" y1="426.3" x2="591.9" y2="430.4"/>
<line x1="594.8" y1="426.3" x2="596.2" y2="431.1"/>
<line x1="500.4" y1="440.9" x2="527.7" y2="416.4"/>
<line x1="527.7" y1="416.4" x2="522.9" y2="417.8"/>
<line x1="527.7" y1="416.4" x2="525.8" y2="421.0"/>
<line x1="471.0" y1="460.4" x2="459.8" y2="474.1"/>
<line x1="459.8" y1="474.1" x2="464.3" y2="472.0"/>
<line x1="459.8" y1="474.1" x2="461.0" y2="469.2"/>
<line x1="464.2" y1="480.9" x2="476.7" y2="480.9"/>
<line x1="476.7" y1="480.9" x2="472.2" y2="478.7"/>
<line x1="476.7" y1="480.9" x2="472.2" y2="483.1"/>
<line x1="429.4" y1="480.9" x2="562.4" y2="440.8"/>
<line x1="562.4" y1="440.8" x2="557.5" y2="440.0"/>
<line x1="562.4" y1="440.8" x2="558.7" y2="444.2"/>
<line x1="476.7" y1="464.5" x2="649.5" y2="421.2"/>
<line x1="649.5" y1="421.2" x2="644.6" y2="420.2"/>
<line x1="649.5" y1="421.2" x2="645.7" y2="424.4"/>
<line x1="478.9" y1="474.1" x2="635.3" y2="332.5"/>
<line x1="635.3" y1="332.5" x2="630.5" y2="333.9"/>
<line x1="635.3" y1="332.5" x2="633.4" y2="337.1"/>
<line x1="500.4" y1="440.9" x2="598.3" y2="377.0"/>
<line x1="598.3" y1="377.0" x2="593.3" y2="377.6"/>
<line x1="598.3" y1="377.0" x2="595.7" y2="381.3"/>
<line x1="481.2" y1="474.1" x2="587.4" y2="386.6"/>
<line x1="587.4" y1="386.6" x2="582.5" y2="387.8"/>
<line x1="587.4" y1="386.6" x2="585.3" y2="391.1"/>
<line x1="482.9" y1="468.9" x2="585.2" y2="391.7"/>
<line x1="585.2" y1="391.7" x2="580.3" y2="392.7"/>
<line x1="585.2" y1="391.7" x2="582.9" y2="396.1"/>
<line x1="496.4" y1="474.1" x2="569.4" y2="411.6"/>
<line x1="569.4" y1="411.6" x2="564.6" y2="412.9"/>
<line x1="569.4" y1="411.6" x2="567.4" y2="416.2"/>
<line x1="498.3" y1="468.9" x2="576.3" y2="411.6"/>
<line x1="576.3" y1="411.6" x2="571.4" y2="412.5"/>
<line x1="576.3" y1="411.6" x2="574.0" y2="416.0"/>
<line x1="513.6" y1="474.1" x2="579.9" y2="411.6"/>
<line x1="579.9" y1="411.6" x2="575.1" y2="413.1"/>
<line x1="579.9" y1="411.6" x2="578.1" y2="416.3"/>
<line x1="477.1" y1="474.1" x2="559.8" y2="416.6"/>
<line x1="559.8" y1="416.6" x2="554.9" y2="417.4"/>
<line x1="559.8" y1="416.6" x2="557.3" y2="421.0"/>
<line x1="473.9" y1="470.7" x2="558.0" y2="426.3"/>
<line x1="558.0" y1="426.3" x2="553.0" y2="426.5"/>
<line x1="558.0" y1="426.3" x2="555.0" y2="430.3"/>
<line x1="490.8" y1="480.8" x2="578.2" y2="430.7"/>
<line x1="578.2" y1="430.7" x2="573.2" y2="431.1"/>
<line x1="578.2" y1="430.7" x2="575.4" y2="434.8"/>
<line x1="495.7" y1="480.8" x2="581.2" y2="430.7"/>
<line x1="581.2" y1="430.7" x2="576.2" y2="431.1"/>
<line x1="581.2" y1="430.7" x2="578.4" y2="434.9"/>
<line x1="513.6" y1="480.8" x2="582.9" y2="430.7"/>
<line x1="582.9" y1="430.7" x2="578.0" y2="431.6"/>
<line x1="582.9" y1="430.7" x2="580.5" y2="435.1"/>
<line x1="526.4" y1="480.8" x2="591.3" y2="416.6"/>
<line x1="591.3" y1="416.6" x2="586.6" y2="418.2"/>
<line x1="591.3" y1="416.6" x2="589.6" y2="421.3"/>
<line x1="525.8" y1="474.1" x2="596.9" y2="421.2"/>
<line x1="596.9" y1="421.2" x2="592.0" y2="422.1"/>
<line x1="596.9" y1="421.2" x2="594.6" y2="425.6"/>
<line x1="529.3" y1="474.1" x2="608.3" y2="421.2"/>
<line x1="608.3" y1="421.2" x2="603.3" y2="421.9"/>
<line x1="608.3" y1="421.2" x2="605.8" y2="425.5"/>
<line x1="536.4" y1="474.1" x2="571.2" y2="447.0"/>
<line x1="571.2" y1="447.0" x2="566.3" y2="448.1"/>
<line x1="571.2" y1="447.0" x2="569.0" y2="451.5"/>
<line x1="549.5" y1="474.1" x2="578.2" y2="454.3"/>
<line x1="578.2" y1="454.3" x2="573.3" y2="455.1"/>
<line x1="578.2" y1="454.3" x2="575.7" y2="458.6"/>
<line x1="559.1" y1="474.1" x2="587.4" y2="386.6"/>
<line x1="587.4" y1="386.6" x2="583.9" y2="390.2"/>
<line x1="587.4" y1="386.6" x2="588.1" y2="391.6"/>
<line x1="563.7" y1="474.1" x2="598.3" y2="377.0"/>
<line x1="598.3" y1="377.0" x2="594.7" y2="380.5"/>
<line x1="598.3" y1="377.0" x2="598.8" y2="382.0"/>
<line x1="562.4" y1="469.2" x2="580.8" y2="460.6"/>
<line x1="580.8" y1="460.6" x2="575.8" y2="460.5"/>
<line x1="580.8" y1="460.6" x2="577.6" y2="464.5"/>
<line x1="572.4" y1="460.6" x2="569.4" y2="460.6"/>
<line x1="569.4" y1="460.6" x2="573.9" y2="462.8"/>
<line x1="569.4" y1="460.6" x2="573.9" y2="458.4"/>
<line x1="534.6" y1="460.7" x2="543.4" y2="460.7"/>
<line x1="543.4" y1="460.7" x2="538.9" y2="458.5"/>
<line x1="543.4" y1="460.7" x2="538.9" y2="462.9"/>
<line x1="512.2" y1="464.5" x2="531.5" y2="464.5"/>
<line x1="531.5" y1="464.5" x2="527.0" y2="462.3"/>
<line x1="531.5" y1="464.5" x2="527.0" y2="466.7"/>
<line x1="517.1" y1="464.5" x2="532.9" y2="464.5"/>
<line x1="532.9" y1="464.5" x2="528.4" y2="462.3"/>
<line x1="532.9" y1="464.5" x2="528.4" y2="466.7"/>
<line x1="513.6" y1="451.4" x2="535.1" y2="440.9"/>
<line x1="535.1" y1="440.9" x2="530.1" y2="440.9"/>
<line x1="535.1" y1="440.9" x2="532.0" y2="444.8"/>
<line x1="524.1" y1="451.4" x2="542.8" y2="454.5"/>
<line x1="542.8" y1="454.5" x2="538.7" y2="451.6"/>
<line x1="542.8" y1="454.5" x2="538.0" y2="455.9"/>
<line x1="454.9" y1="480.9" x2="481.2" y2="464.5"/>
<line x1="481.2" y1="464.5" x2="476.2" y2="465.0"/>
<line x1="481.2" y1="464.5" x2="478.5" y2="468.7"/>
<line x1="476.7" y1="464.5" x2="498.3" y2="464.5"/>
<line x1="498.3" y1="464.5" x2="493.8" y2="462.3"/>
<line x1="498.3" y1="464.5" x2="493.8" y2="466.7"/>
<line x1="471.0" y1="460.4" x2="504.5" y2="460.7"/>
<line x1="504.5" y1="460.7" x2="500.0" y2="458.5"/>
<line x1="504.5" y1="460.7" x2="500.0" y2="462.8"/>
<line x1="482.9" y1="468.9" x2="512.7" y2="454.5"/>
<line x1="512.7" y1="454.5" x2="507.7" y2="454.5"/>
<line x1="512.7" y1="454.5" x2="509.6" y2="458.4"/>
<line x1="496.4" y1="474.1" x2="517.1" y2="451.4"/>
<line x1="517.1" y1="451.4" x2="512.5" y2="453.3"/>
<line x1="517.1" y1="451.4" x2="515.7" y2="456.2"/>
<line x1="490.8" y1="480.8" x2="518.5" y2="460.7"/>
<line x1="518.5" y1="460.7" x2="513.6" y2="461.6"/>
<line x1="518.5" y1="460.7" x2="516.1" y2="465.1"/>
<line x1="513.6" y1="480.8" x2="523.7" y2="474.1"/>
<line x1="523.7" y1="474.1" x2="518.7" y2="474.8"/>
<line x1="523.7" y1="474.1" x2="521.2" y2="478.4"/>
<line x1="493.1" y1="480.8" x2="531.1" y2="460.7"/>
<line x1="531.1" y1="460.7" x2="526.1" y2="460.9"/>
<line x1="531.1" y1="460.7" x2="528.1" y2="464.7"/>
<line x1="529.3" y1="474.1" x2="538.1" y2="460.7"/>
<line x1="538.1" y1="460.7" x2="533.8" y2="463.3"/>
<line x1="538.1" y1="460.7" x2="537.4" y2="465.7"/>
<line x1="536.4" y1="474.1" x2="546.0" y2="464.5"/>
<line x1="546.0" y1="464.5" x2="541.3" y2="466.1"/>
<line x1="546.0" y1="464.5" x2="544.4" y2="469.2"/>
<line x1="549.5" y1="474.1" x2="547.4" y2="468.9"/>
<line x1="547.4" y1="468.9" x2="547.1" y2="473.9"/>
<line x1="547.4" y1="468.9" x2="551.1" y2="472.3"/>
</g>
<g fill="#1b8bf5">
<circle cx="429.4" cy="480.9" r="1.5"/>
<circle cx="454.9" cy="480.9" r="1.5"/>
<circle cx="464.2" cy="480.9" r="1.5"/>
<circle cx="471.0" cy="460.4" r="1.5"/>
<circle cx="476.7" cy="464.5" r="1.5"/>
<circle cx="473.9" cy="470.7" r="1.5"/>
<circle cx="477.1" cy="474.1" r="1.5"/>
<circle cx="478.9" cy="474.1" r="1.5"/>
<circle cx="481.2" cy="474.1" r="1.5"/>
<circle cx="482.9" cy="468.9" r="1.5"/>
<circle cx="490.8" cy="480.8" r="1.5"/>
<circle cx="495.7" cy="480.8" r="1.5"/>
<circle cx="496.4" cy="474.1" r="1.5"/>
<circle cx="498.3" cy="468.9" r="1.5"/>
<circle cx="500.4" cy="440.9" r="1.5"/>
<circle cx="513.6" cy="451.4" r="1.5"/>
<circle cx="524.1" cy="451.4" r="1.5"/>
<circle cx="512.2" cy="464.5" r="1.5"/>
<circle cx="517.1" cy="464.5" r="1.5"/>
<circle cx="513.6" cy="474.1" r="1.5"/>
<circle cx="513.6" cy="480.8" r="1.5"/>
<circle cx="525.8" cy="474.1" r="1.5"/>
<circle cx="529.3" cy="474.1" r="1.5"/>
<circle cx="526.4" cy="480.8" r="1.5"/>
<circle cx="536.4" cy="474.1" r="1.5"/>
<circle cx="534.6" cy="460.7" r="1.5"/>
<circle cx="549.5" cy="474.1" r="1.5"/>
<circle cx="559.1" cy="474.1" r="1.5"/>
<circle cx="563.7" cy="474.1" r="1.5"/>
<circle cx="562.4" cy="469.2" r="1.5"/>
<circle cx="572.4" cy="460.6" r="1.5"/>
<circle cx="588.2" cy="464.5" r="1.5"/>
<circle cx="607.8" cy="474.1" r="1.5"/>
<circle cx="613.6" cy="426.3" r="1.5"/>
<circle cx="574.3" cy="366.8" r="1.5"/>
<circle cx="586.2" cy="372.0" r="1.5"/>
<circle cx="607.1" cy="372.0" r="1.5"/>
<circle cx="605.5" cy="341.9" r="1.5"/>
<circle cx="616.4" cy="341.9" r="1.5"/>
</g><g fill="#f01010">
<circle cx="459.8" cy="474.1" r="1.5"/>
<circle cx="476.7" cy="480.9" r="1.5"/>
<circle cx="481.2" cy="464.5" r="1.5"/>
<circle cx="493.1" cy="480.8" r="1.5"/>
<circle cx="498.3" cy="464.5" r="1.5"/>
<circle cx="504.5" cy="460.7" r="1.5"/>
<circle cx="512.7" cy="454.5" r="1.5"/>
<circle cx="517.1" cy="451.4" r="1.5"/>
<circle cx="518.5" cy="460.7" r="1.5"/>
<circle cx="523.7" cy="474.1" r="1.5"/>
<circle cx="527.7" cy="416.4" r="1.5"/>
<circle cx="531.1" cy="460.7" r="1.5"/>
<circle cx="531.5" cy="464.5" r="1.5"/>
<circle cx="532.9" cy="464.5" r="1.5"/>
<circle cx="535.1" cy="440.9" r="1.5"/>
<circle cx="538.1" cy="460.7" r="1.5"/>
<circle cx="542.8" cy="454.5" r="1.5"/>
<circle cx="543.4" cy="460.7" r="1.5"/>
<circle cx="546.0" cy="464.5" r="1.5"/>
<circle cx="547.4" cy="468.9" r="1.5"/>
<circle cx="558.0" cy="426.3" r="1.5"/>
<circle cx="559.8" cy="416.6" r="1.5"/>
<circle cx="562.4" cy="440.8" r="1.5"/>
<circle cx="569.4" cy="411.6" r="1.5"/>
<circle cx="576.3" cy="411.6" r="1.5"/>
<circle cx="579.9" cy="411.6" r="1.5"/>
<circle cx="571.2" cy="447.0" r="1.5"/>
<circle cx="569.4" cy="460.6" r="1.5"/>
<circle cx="578.2" cy="454.3" r="1.5"/>
<circle cx="578.2" cy="430.7" r="1.5"/>
<circle cx="581.2" cy="430.7" r="1.5"/>
<circle cx="582.9" cy="430.7" r="1.5"/>
<circle cx="580.8" cy="460.6" r="1.5"/>
<circle cx="585.2" cy="391.7" r="1.5"/>
<circle cx="587.4" cy="386.6" r="1.5"/>
<circle cx="591.3" cy="416.6" r="1.5"/>
<circle cx="594.8" cy="426.3" r="1.5"/>
<circle cx="596.9" cy="421.2" r="1.5"/>
<circle cx="598.3" cy="377.0" r="1.5"/>
<circle cx="608.3" cy="421.2" r="1.5"/>
<circle cx="616.7" cy="460.6" r="1.5"/>
<circle cx="622.0" cy="406.5" r="1.5"/>
<circle cx="649.5" cy="421.2" r="1.5"/>
<circle cx="589.2" cy="337.4" r="1.5"/>
<circle cx="604.4" cy="317.9" r="1.5"/>
<circle cx="607.2" cy="341.9" r="1.5"/>
<circle cx="613.4" cy="341.9" r="1.5"/>
<circle cx="615.3" cy="322.2" r="1.5"/>
<circle cx="635.3" cy="332.5" r="1.5"/>
</g>
<rect x="410.00" y="322.20" width="47.50" height="33.20" stroke="#555" stroke-width="1" fill="#fff" />
<circle cx="418.7" cy="333.4" r="1.3" fill="#1b8bf5"/><circle cx="418.7" cy="345.0" r="1.3" fill="#f01010"/>
<text x="0" y="0" transform="translate(426.00,333.20)" font-size="9.425" text-anchor="start" dominant-baseline="central" fill="#1a1a1a" stroke="#1a1a1a" stroke-width="0.14" letter-spacing="-0.419" >day 0</text>
<text x="0" y="0" transform="translate(426.00,344.80)" font-size="9.425" text-anchor="start" dominant-baseline="central" fill="#1a1a1a" stroke="#1a1a1a" stroke-width="0.14" letter-spacing="-0.419" >day 28</text>
<rect x="400.00" y="294.70" width="275.40" height="213.70" stroke="#666" stroke-width="1" fill="none" />
<line x1="394.60" y1="500.79" x2="400.00" y2="500.79" stroke="#666" stroke-width="1" />
<text x="0" y="0" transform="translate(384.30,500.79) rotate(-90)" font-size="8.4" text-anchor="middle" dominant-baseline="central" fill="#1a1a1a" stroke="#1a1a1a" stroke-width="0.14" letter-spacing="-0.461" >2</text>
<line x1="394.60" y1="481.00" x2="400.00" y2="481.00" stroke="#666" stroke-width="1" />
<text x="0" y="0" transform="translate(384.30,481.00) rotate(-90)" font-size="8.4" text-anchor="middle" dominant-baseline="central" fill="#1a1a1a" stroke="#1a1a1a" stroke-width="0.14" letter-spacing="-0.461" >4</text>
<line x1="394.60" y1="461.21" x2="400.00" y2="461.21" stroke="#666" stroke-width="1" />
<text x="0" y="0" transform="translate(384.30,461.21) rotate(-90)" font-size="8.4" text-anchor="middle" dominant-baseline="central" fill="#1a1a1a" stroke="#1a1a1a" stroke-width="0.14" letter-spacing="-0.461" >8</text>
<line x1="394.60" y1="441.42" x2="400.00" y2="441.42" stroke="#666" stroke-width="1" />
<text x="0" y="0" transform="translate(384.30,441.42) rotate(-90)" font-size="8.4" text-anchor="middle" dominant-baseline="central" fill="#1a1a1a" stroke="#1a1a1a" stroke-width="0.14" letter-spacing="-0.461" >16</text>
<line x1="394.60" y1="421.63" x2="400.00" y2="421.63" stroke="#666" stroke-width="1" />
<text x="0" y="0" transform="translate(384.30,421.63) rotate(-90)" font-size="8.4" text-anchor="middle" dominant-baseline="central" fill="#1a1a1a" stroke="#1a1a1a" stroke-width="0.14" letter-spacing="-0.461" >32</text>
<line x1="394.60" y1="401.84" x2="400.00" y2="401.84" stroke="#666" stroke-width="1" />
<text x="0" y="0" transform="translate(384.30,401.84) rotate(-90)" font-size="8.4" text-anchor="middle" dominant-baseline="central" fill="#1a1a1a" stroke="#1a1a1a" stroke-width="0.14" letter-spacing="-0.461" >64</text>
<line x1="394.60" y1="382.05" x2="400.00" y2="382.05" stroke="#666" stroke-width="1" />
<line x1="394.60" y1="362.26" x2="400.00" y2="362.26" stroke="#666" stroke-width="1" />
<text x="0" y="0" transform="translate(384.30,362.26) rotate(-90)" font-size="8.4" text-anchor="middle" dominant-baseline="central" fill="#1a1a1a" stroke="#1a1a1a" stroke-width="0.14" letter-spacing="-0.461" >256</text>
<line x1="394.60" y1="342.47" x2="400.00" y2="342.47" stroke="#666" stroke-width="1" />
<line x1="394.60" y1="322.68" x2="400.00" y2="322.68" stroke="#666" stroke-width="1" />
<text x="0" y="0" transform="translate(384.30,322.68) rotate(-90)" font-size="8.4" text-anchor="middle" dominant-baseline="central" fill="#1a1a1a" stroke="#1a1a1a" stroke-width="0.14" letter-spacing="-0.461" >1024</text>
<line x1="394.60" y1="302.89" x2="400.00" y2="302.89" stroke="#666" stroke-width="1" />
<line x1="410.40" y1="508.40" x2="410.40" y2="513.50" stroke="#666" stroke-width="1" />
<text x="0" y="0" transform="translate(410.40,524.90)" font-size="9.28" text-anchor="middle" dominant-baseline="central" fill="#1a1a1a" stroke="#1a1a1a" stroke-width="0.14" letter-spacing="-0.43" >0.001</text>
<line x1="474.05" y1="508.40" x2="474.05" y2="513.50" stroke="#666" stroke-width="1" />
<text x="0" y="0" transform="translate(474.05,524.90)" font-size="9.28" text-anchor="middle" dominant-baseline="central" fill="#1a1a1a" stroke="#1a1a1a" stroke-width="0.14" letter-spacing="-0.43" >0.01</text>
<line x1="537.70" y1="508.40" x2="537.70" y2="513.50" stroke="#666" stroke-width="1" />
<text x="0" y="0" transform="translate(537.70,524.90)" font-size="9.28" text-anchor="middle" dominant-baseline="central" fill="#1a1a1a" stroke="#1a1a1a" stroke-width="0.14" letter-spacing="-0.43" >0.1</text>
<line x1="601.35" y1="508.40" x2="601.35" y2="513.50" stroke="#666" stroke-width="1" />
<text x="0" y="0" transform="translate(601.35,524.90)" font-size="9.28" text-anchor="middle" dominant-baseline="central" fill="#1a1a1a" stroke="#1a1a1a" stroke-width="0.14" letter-spacing="-0.43" >1</text>
<line x1="665.00" y1="508.40" x2="665.00" y2="513.50" stroke="#666" stroke-width="1" />
<text x="0" y="0" transform="translate(665.00,524.90)" font-size="9.28" text-anchor="middle" dominant-baseline="central" fill="#1a1a1a" stroke="#1a1a1a" stroke-width="0.14" letter-spacing="-0.43" >10</text>
<text x="0" y="0" transform="translate(362.60,401.20) rotate(-90)" font-size="9.711" text-anchor="middle" dominant-baseline="central" fill="#1a1a1a" stroke="#1a1a1a" stroke-width="0.14" letter-spacing="-0.34" >Neutralizing antibody titre EBOV (GMT)</text>
<text x="0" y="0" transform="translate(537.90,546.80)" font-size="9.602" text-anchor="middle" dominant-baseline="central" fill="#1a1a1a" stroke="#1a1a1a" stroke-width="0.14" letter-spacing="-0.457" >Anti-EBOV GP IgG (IU/mL)</text>
</svg></body></html>
